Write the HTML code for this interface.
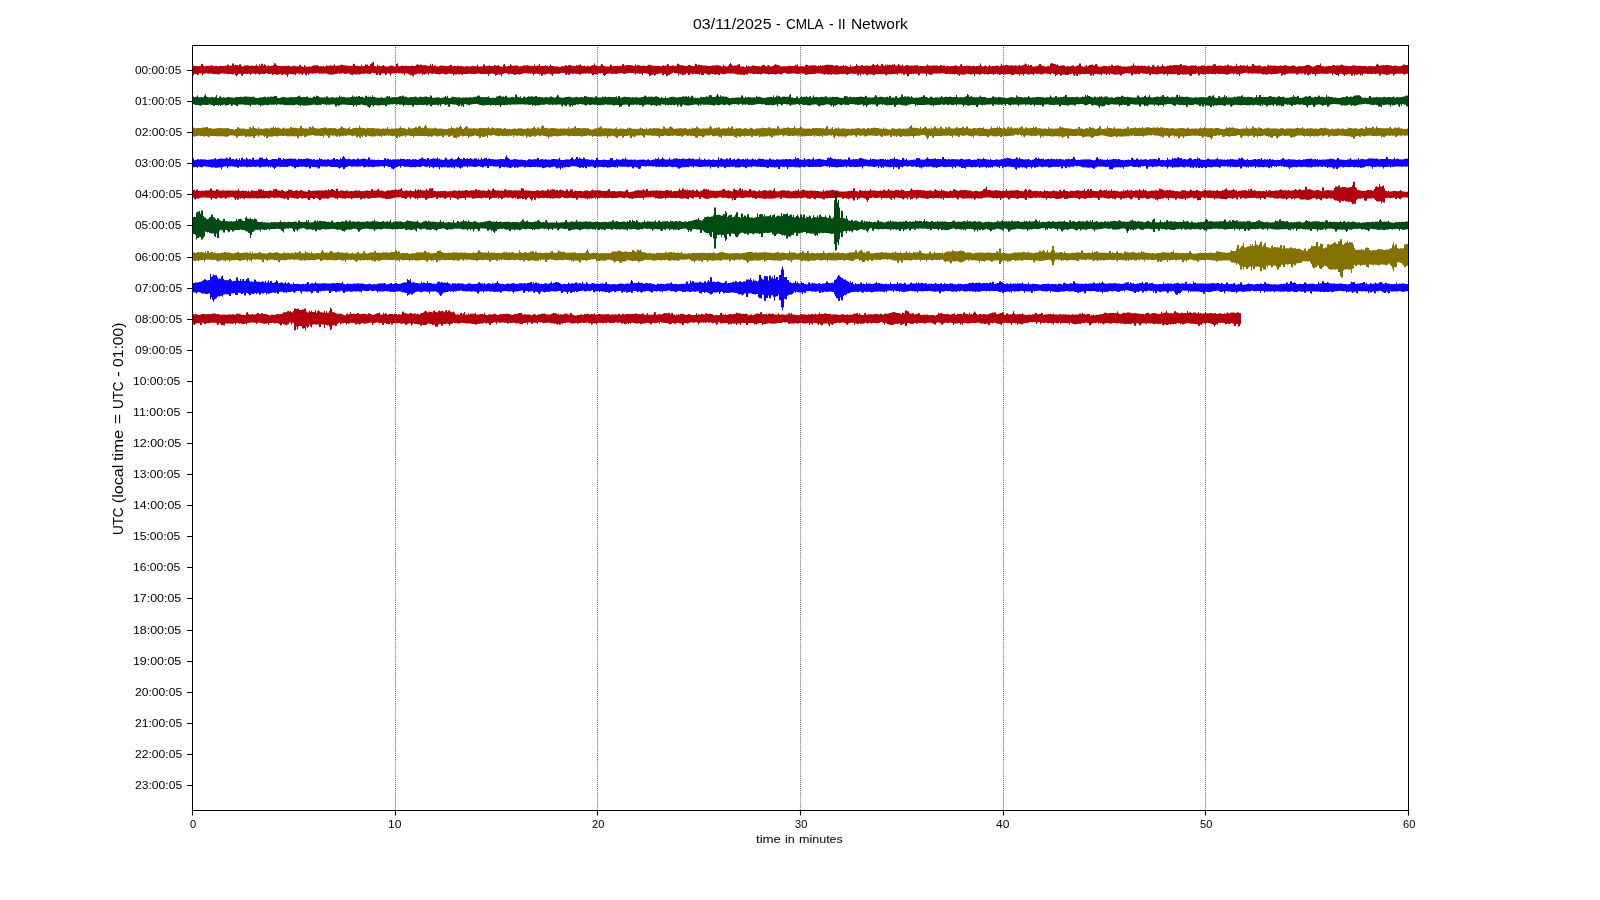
<!DOCTYPE html><html><head><meta charset="utf-8"><style>html,body{margin:0;padding:0;background:#fff}svg{display:block;will-change:transform}text{font-family:"Liberation Sans",sans-serif;fill:#000}</style></head><body>
<svg width="1600" height="900" viewBox="0 0 1600 900">
<rect x="0" y="0" width="1600" height="900" fill="#fff"/>
<path d="M395.5 45.0V810.0M597.5 45.0V810.0M800.5 45.0V810.0M1003.5 45.0V810.0M1205.5 45.0V810.0" stroke="#000" stroke-width="1" stroke-dasharray="1 1.07" stroke-opacity="0.62" fill="none"/>
<defs><clipPath id="axclip"><rect x="192.0" y="45" width="1216.0" height="765"/></clipPath></defs><g clip-path="url(#axclip)"><path transform="scale(1,0.1)" d="M192 654h1h1v6h1h1v-2h1v5h1v-1h1v-3h1v1h1v-19h1v-4h1v19h1v7h1v-1h1v-5h1v2h1v-2h1h1v-1h1v-1h1v-2h1v8h1v2h1v-6h1v3h1v1h1v3h1v-4h1v-3h1v4h1v-1h1h1v1h1v-4h1h1v-12h1v3h1v11h1v-2h1v-2h1v-19h1v-2h1v21h1v-8h1v2h1v3h1v3h1v-11h1v-1h1v18h1v3h1v-2h1v-6h1v-1h1v-1h1v-1h1v3h1v1h1v2h1v-3h1v1h1v2h1v2h1v-5h1v-11h1v15h1v3h1v-20h1v16h1v-21h1v-1h1v18h1v-12h1v6h1v16h1v-6h1v-6h1v6h1v2h1v-3h1h1v-7h1v-20h1v3h1v19h1v1h1v6h1v1h1v-2h1h1v1h1h1h1v-3h1v2h1v-2h1v-2h1v5h1v5h1v1h1v-3h1v-6h1v1h1v4h1v1h1v-1h1v4h1v-16h1v-2h1v16h1v2h1v3h1v-18h1v14h1h1v4h1v-2h1v-2h1h1v-1h1v-3h1v-5h1v-1h1v-3h1h1v1h1v6h1v7h1v-3h1v-4h1v5h1v-7h1v11h1v-6h1v-8h1v3h1v1h1h1v-5h1v2h1v3h1v-3h1v-12h1v15h1h1h1v-3h1h1v-4h1v-3h1h1v5h1h1v3h1h1v-2h1v5h1v-1h1h1v-1h1h1v-19h1v1h1v19h1v-1h1v1h1v3h1v1h1v1h1v-18h1v17h1v-3h1h1v-16h1v6h1v-3h1v12h1v3h1v-21h1v-7h1v-6h1v-9h1v42h1v2h1v3h1v-17h1v13h1v-3h1v5h1h1v-5h1v-7h1v7h1v6h1h1h1v2h1v-5h1v-3h1v-3h1v3h1v1h1v6h1h1v-26h1v-6h1v26h1v3h1v-3h1v1h1v-4h1v2h1v2h1v-3h1v1h1v1h1v1h1v-1h1h1v-1h1v-3h1v4h1v2h1v-4h1v-9h1v-5h1v5h1v2h1v-4h1v2h1v3h1v3h1v-2h1v-2h1v5h1v2h1v1h1v-1h1v-20h1v20h1v-16h1v19h1v-8h1v2h1v9h1v1h1h1v-3h1v-5h1v2h1h1v-2h1v4h1v-1h1v2h1v1h1v-4h1v-1h1v-10h1v4h1v12h1v-2h1v-3h1v2h1v2h1v-5h1v1h1v4h1v-5h1v3h1v3h1v2h1v1h1h1v-5h1v-2h1v5h1v-2h1v2h1v-5h1v-1h1v4h1v-2h1v-1h1v7h1v-22h1v18h1v5h1v-1h1v-3h1v2h1v-23h1v2h1v17h1v-3h1v1h1h1v-6h1v8h1v2h1v-2h1v-2h1v-9h1v2h1v6h1v-4h1v-2h1v7h1v5h1v1h1v4h1v-22h1v-6h1v22h1v1h1v-2h1v-1h1v-1h1v-19h1v11h1v6h1v1h1v-3h1v2h1v-2h1v-1h1v7h1v4h1v-3h1v-1h1v-2h1v-5h1v-3h1v3h1v1h1v-6h1v5h1v3h1v3h1v-4h1h1v3h1v-17h1v18h1v-2h1v-4h1v-1h1v-13h1v18h1h1v-1h1v3h1v-1h1v-11h1v10h1v-1h1v6h1v-5h1v-15h1v14h1v3h1h1v5h1h1v-4h1v2h1v4h1v1h1v-2h1v-3h1v-4h1v4h1v-3h1v-8h1v-1h1v11h1v-11h1v-4h1v5h1v3h1v6h1v-4h1v2h1v-1h1v-6h1v3h1v-2h1v-4h1v-8h1v16h1v1h1h1v-4h1v8h1v1h1v-10h1v9h1h1v-3h1v-3h1v-5h1h1v-18h1v20h1v1h1v5h1v2h1v1h1v-5h1v-19h1v7h1v12h1v2h1v4h1h1h1v1h1v-3h1v-17h1v5h1v13h1v-3h1v-2h1v3h1v-2h1v-1h1v3h1v1h1v-4h1v-1h1v-15h1v-2h1v14h1v1h1v-2h1v-2h1v-2h1v4h1v-2h1v2h1v1h1v3h1v3h1v-17h1v17h1v-8h1v-3h1v6h1v3h1v2h1v-2h1v-1h1v1h1v2h1h1v-4h1v-5h1v-5h1v7h1h1v2h1v2h1v1h1v-1h1v2h1v1h1v-2h1v2h1v3h1v-1h1v-5h1v-5h1v6h1h1v-4h1v-14h1v5h1v15h1h1v-3h1v-1h1h1v2h1v-1h1h1v-19h1v-1h1v11h1v4h1h1h1v3h1v6h1v-1h1v1h1v-4h1v-5h1v-2h1v3h1v5h1v2h1v2h1v-1h1v-24h1v3h1v15h1v-7h1v-1h1v5h1v-1h1v2h1v2h1h1h1h1v6h1v-1h1h1v1h1v-3h1v-3h1v-1h1v2h1v-1h1v-4h1v1h1v3h1v1h1v2h1v5h1v1h1v-17h1v13h1v2h1v3h1v-1h1v-6h1v-18h1v-10h1v14h1v11h1v6h1v-7h1h1v1h1v-9h1v-1h1v-4h1v24h1h1h1h1v6h1v2h1v-21h1v14h1v-5h1v1h1v3h1v-3h1v-6h1v-3h1v7h1h1v-1h1v4h1v-2h1v1h1v3h1v-6h1v-7h1v-5h1v2h1v11h1v4h1v-10h1v-3h1v9h1v4h1h1v-5h1v-1h1v-10h1v-5h1v5h1h1v4h1v4h1v9h1v-1h1v-1h1h1h1v2h1v-3h1v-2h1h1v-2h1v-1h1v4h1v-1h1h1v1h1v-14h1v9h1v-13h1v19h1v2h1v-3h1v-1h1v3h1v2h1v1h1v-18h1v-1h1v2h1v9h1v-2h1h1h1v-4h1v1h1v-1h1v4h1v4h1v2h1v-7h1v5h1v-10h1v8h1v-2h1v-1h1v-3h1h1v-4h1h1h1v-1h1v2h1v-2h1v3h1v5h1v3h1v-5h1h1v3h1v2h1v4h1v-2h1v-2h1v2h1v-10h1v10h1v-2h1h1v4h1v6h1v2h1v-22h1v16h1h1h1v-2h1v-1h1v-21h1v16h1v3h1v1h1v-2h1v-6h1v-1h1v9h1h1v-2h1v-4h1h1v5h1h1v-3h1v1h1v-13h1v-4h1v10h1v5h1v-5h1v-13h1v19h1v2h1v2h1v-19h1v-3h1v18h1v1h1v-12h1v11h1v-12h1v8h1v-5h1v4h1v1h1v-6h1v2h1v-9h1v15h1v2h1h1v-17h1v9h1v6h1v3h1v-11h1v16h1v-3h1v-5h1v-3h1v2h1v2h1h1v2h1v-1h1h1v2h1v-3h1v-3h1v3h1v-4h1v12h1h1v-3h1v-1h1h1v2h1v1h1v-4h1h1v-12h1v10h1v1h1v-1h1v5h1v-5h1v-1h1h1v-1h1h1v3h1v3h1v-1h1v-9h1v2h1v7h1v-5h1h1v8h1h1v-4h1v2h1v6h1v-5h1v-2h1h1v1h1v-4h1v-2h1v1h1v7h1v1h1h1v-19h1v-4h1v17h1v3h1v1h1v-2h1v-3h1v2h1v-1h1v-1h1v5h1v2h1v-4h1v-1h1v3h1v4h1v-4h1v-2h1h1v-4h1v-19h1v22h1v5h1v1h1v-4h1v-4h1v3h1v7h1v-3h1v-14h1v14h1h1v-4h1h1v4h1v-3h1v-5h1h1v7h1h1v-4h1v-20h1v18h1v-2h1v1h1v-4h1v-4h1v2h1v5h1v1h1h1v-2h1v3h1v2h1v-2h1v-3h1v3h1v1h1h1v-8h1v12h1v-4h1v-5h1v-2h1v-5h1v-10h1v8h1v15h1v-14h1v17h1v-11h1v-1h1v16h1v3h1v-4h1v-1h1h1v-4h1v-3h1v-17h1v2h1v15h1v2h1v3h1v2h1v4h1v-3h1v-1h1v-6h1v5h1v-25h1v-6h1v5h1v1h1h1v5h1v9h1v-8h1v14h1v3h1v-2h1v-4h1h1v-2h1v3h1v9h1v1h1v-5h1v2h1v2h1v-1h1v-2h1v-7h1v-1h1v12h1h1v-5h1v-6h1v1h1v-21h1v1h1v24h1v5h1v3h1v-1h1v-3h1v-14h1v16h1v-6h1v-9h1v1h1v-4h1v-1h1v9h1h1v-13h1v-2h1v16h1v8h1v3h1v-3h1h1v-2h1v-4h1h1v1h1v2h1v3h1v-3h1h1v2h1v-15h1v-1h1v12h1v1h1v-2h1v-3h1v1h1v-4h1v8h1v-3h1v9h1v-1h1h1h1v3h1v-2h1v-2h1v-1h1h1h1v-6h1v-2h1v-20h1v19h1v2h1v3h1v-2h1v-3h1v3h1v2h1v-5h1v4h1v3h1v-5h1v4h1v4h1v-2h1v-7h1v4h1v10h1v-1h1v-16h1v-4h1v15h1v6h1v1h1v-15h1v-1h1v13h1v-1h1v-4h1v-20h1v17h1v4h1v1h1v-1h1v-5h1v1h1v-6h1v-1h1v4h1h1v-5h1v-2h1v2h1v-1h1v3h1v-3h1v1h1v-10h1v2h1v11h1v-1h1h1v1h1v2h1v4h1v2h1v-2h1v-4h1v-2h1v1h1h1v2h1v-6h1v10h1v3h1v-3h1v1h1v-1h1v-6h1h1v1h1h1v3h1v3h1v-4h1h1v-2h1v3h1h1v-5h1v-12h1v1h1h1v16h1v-1h1v-2h1v2h1v-2h1v2h1v3h1v-1h1v-4h1v-1h1v3h1v-14h1v5h1v12h1v-6h1v2h1v5h1v1h1v-2h1v-3h1v-20h1v21h1v1h1v1h1v-10h1v4h1v1h1v-1h1v1h1v2h1v1h1v-12h1v15h1v1h1h1v-2h1v-21h1v-1h1v16h1v1h1v2h1v-1h1v-1h1v-3h1v4h1v7h1v2h1v-2h1v-3h1v1h1v4h1v-12h1v-6h1v10h1v-2h1v-1h1v3h1v-1h1v-1h1v2h1v1h1v1h1v1h1v-3h1v-2h1h1v4h1v-3h1v-6h1v1h1v4h1v2h1v1h1v3h1h1v-3h1v-4h1v-2h1v5h1v4h1v6h1v-2h1v-4h1v-1h1v1h1h1v-2h1v2h1v-3h1v-3h1v-7h1h1v-2h1v3h1v9h1v4h1v4h1v-2h1v-2h1v-3h1v-9h1v-3h1v2h1v1h1v-16h1v26h1v2h1h1v2h1h1v-3h1v1h1v-2h1v-1h1v3h1v-3h1v-4h1v-7h1h1v10h1v-3h1v-1h1v-1h1h1v-3h1v-7h1v4h1v8h1v1h1v1h1v-1h1v3h1v1h1v1h1v-1h1v-1h1v-5h1h1v-2h1v4h1v2h1v-1h1v1h1v-1h1h1v3h1v-2h1h1h1v2h1v2h1v3h1v-4h1v-4h1v5h1v-2h1v2h1h1h1h1v-17h1v-8h1v13h1v6h1h1v-4h1h1v-3h1v2h1h1v-1h1h1h1v3h1v1h1v1h1v3h1h1v-2h1v-3h1v3h1v5h1v-2h1v2h1h1v-4h1v-3h1v-9h1h1v5h1v-2h1h1v88h-1v1h-1v3h-1v6h-1v-5h-1v-4h-1v-3h-1v3h-1h-1h-1v-1h-1h-1v3h-1v4h-1v14h-1v-21h-1h-1h-1v9h-1v-1h-1v4h-1v3h-1v-9h-1v3h-1v-3h-1v-2h-1v-4h-1v19h-1v-1h-1v-18h-1v-2h-1v3h-1v4h-1v-5h-1h-1v4h-1v-1h-1v-1h-1v-2h-1v2h-1h-1v-3h-1v2h-1h-1v-1h-1v18h-1v-11h-1v12h-1v-16h-1v2h-1v5h-1h-1v-3h-1v14h-1v-19h-1v17h-1v1h-1v-17h-1h-1v-1h-1v4h-1v4h-1v-1h-1v15h-1v-13h-1v-8h-1v-2h-1h-1v-1h-1v22h-1v-9h-1h-1v-5h-1v-4h-1v-5h-1v16h-1v-17h-1v1h-1h-1v1h-1v2h-1v-2h-1h-1v1h-1h-1h-1v-2h-1v1h-1h-1h-1v4h-1v2h-1v18h-1v-19h-1v-2h-1v1h-1v-5h-1v6h-1v4h-1v8h-1v-4h-1v-18h-1v14h-1h-1v-14h-1v2h-1v3h-1v-2h-1v-1h-1v4h-1v9h-1v-1h-1v-10h-1v-1h-1h-1h-1v1h-1v2h-1v-3h-1h-1v2h-1v1h-1v8h-1v4h-1v-4h-1v6h-1v5h-1v-26h-1v1h-1v6h-1h-1v-1h-1v3h-1v1h-1v-1h-1v2h-1v2h-1v-2h-1v-4h-1v2h-1v6h-1v1h-1v-3h-1v-1h-1v1h-1v-1h-1v-3h-1v-4h-1v-2h-1v4h-1v-4h-1v2h-1h-1v-3h-1v1h-1v3h-1v-2h-1v-3h-1v3h-1v2h-1v-4h-1v-5h-1h-1v3h-1v-1h-1v5h-1v3h-1v-1h-1v24h-1v-20h-1v3h-1v-1h-1v-7h-1v-1h-1v10h-1v-11h-1v1h-1v2h-1v2h-1v3h-1v6h-1v-1h-1v-4h-1v-2h-1v-2h-1v-1h-1v3h-1v-1h-1h-1h-1v-3h-1v-1h-1v10h-1v-6h-1v1h-1v-1h-1v-1h-1v-1h-1v3h-1h-1v-3h-1h-1v2h-1v6h-1v-2h-1v-2h-1v-3h-1v-2h-1v16h-1v1h-1v-19h-1h-1v4h-1v2h-1h-1v-1h-1v20h-1v-2h-1v-2h-1v-15h-1v2h-1v1h-1v1h-1h-1v1h-1v-2h-1v-1h-1h-1v7h-1v-3h-1v5h-1v-14h-1v1h-1v1h-1v-1h-1v4h-1h-1v-4h-1v3h-1v-1h-1v17h-1v-19h-1v-2h-1v7h-1h-1v-8h-1v1h-1v1h-1h-1v3h-1v4h-1v-1h-1v-2h-1v-1h-1h-1h-1v-3h-1v14h-1h-1v-17h-1v4h-1v1h-1v-4h-1v1h-1v1h-1v-3h-1v-5h-1v2h-1v10h-1v-1h-1v-4h-1v2h-1v3h-1v-1h-1v-3h-1v16h-1v-2h-1v-16h-1v-2h-1h-1v-1h-1h-1v-1h-1v2h-1v5h-1v2h-1v13h-1h-1v-10h-1h-1v-2h-1v5h-1h-1v-3h-1v-1h-1v-4h-1v-2h-1v-1h-1v14h-1v-14h-1v4h-1v12h-1v-14h-1v1h-1v-2h-1h-1v19h-1v-12h-1v-1h-1h-1v-1h-1v-4h-1v3h-1h-1v17h-1v-13h-1v11h-1v1h-1v-16h-1v-4h-1v2h-1h-1v2h-1v1h-1v-1h-1h-1v-1h-1v5h-1v-1h-1v-3h-1v19h-1v-3h-1v-18h-1v20h-1v-10h-1v-15h-1v4h-1v1h-1h-1v11h-1v1h-1v-3h-1v1h-1v-3h-1v1h-1v-3h-1v11h-1v2h-1v-15h-1v-2h-1v7h-1v3h-1v13h-1v-22h-1v-3h-1v-4h-1v-2h-1v15h-1v-6h-1v-1h-1v-1h-1v-5h-1h-1v2h-1v1h-1v5h-1v4h-1v-3h-1v-5h-1h-1v3h-1v-1h-1v-4h-1v1h-1v15h-1v-10h-1v-3h-1v-1h-1v6h-1h-1h-1v-6h-1v-1h-1v4h-1v17h-1v-14h-1v-2h-1h-1v15h-1v-15h-1v1h-1v-4h-1v-2h-1v8h-1v2h-1v2h-1v4h-1v-13h-1v-1h-1v1h-1v3h-1v-1h-1v2h-1v1h-1v-4h-1v-1h-1v-1h-1v9h-1v1h-1v-6h-1v-1h-1v-4h-1v1h-1v1h-1v10h-1v-12h-1v3h-1v-2h-1v1h-1v5h-1h-1v-4h-1v2h-1v1h-1v-6h-1v-1h-1v3h-1v2h-1v7h-1v-9h-1v3h-1h-1v-2h-1v18h-1v-18h-1v-2h-1v5h-1v2h-1v-5h-1v-2h-1v-2h-1h-1v5h-1v5h-1h-1h-1v-2h-1v1h-1v15h-1v-17h-1v4h-1v-7h-1h-1v3h-1v-3h-1v-1h-1h-1h-1v3h-1v-5h-1v2h-1h-1h-1v-4h-1v-1h-1v-2h-1h-1v5h-1v-4h-1h-1v3h-1v-3h-1v1h-1v1h-1h-1v8h-1v3h-1h-1v-2h-1v-6h-1v-1h-1v22h-1v-23h-1h-1v-1h-1h-1v-1h-1h-1v16h-1v5h-1v-18h-1v1h-1v-4h-1v-1h-1v8h-1v-5h-1v2h-1v2h-1v2h-1v18h-1v2h-1v-21h-1v-5h-1v11h-1h-1v-11h-1v1h-1v-2h-1v-2h-1h-1v15h-1v-11h-1v1h-1v-2h-1v2h-1v2h-1v3h-1v-1h-1h-1v-1h-1v2h-1v12h-1v-5h-1v-12h-1v1h-1v2h-1h-1h-1v-3h-1v1h-1v-1h-1v1h-1v5h-1v3h-1v6h-1v-10h-1h-1v-1h-1v1h-1v-1h-1v11h-1v-2h-1v-11h-1v-4h-1v9h-1v-9h-1v1h-1v16h-1v-17h-1v16h-1v3h-1v-19h-1v2h-1v-1h-1v-1h-1v1h-1v-2h-1v-1h-1v4h-1v2h-1v7h-1h-1v-8h-1v-2h-1v1h-1h-1h-1v-2h-1v4h-1v5h-1v-2h-1v2h-1v-1h-1v-3h-1h-1v-1h-1v8h-1v-7h-1v4h-1v1h-1v-5h-1v-3h-1v3h-1v5h-1v-4h-1v-5h-1h-1v-3h-1v-1h-1v2h-1v-4h-1v4h-1v1h-1v3h-1v-1h-1v1h-1v2h-1v-1h-1v2h-1h-1v2h-1v2h-1v4h-1v-13h-1v-1h-1v-2h-1v-1h-1v1h-1v2h-1v2h-1h-1v-2h-1h-1v-1h-1v-3h-1v1h-1v3h-1h-1h-1v2h-1v-1h-1v-2h-1v-4h-1v-4h-1v1h-1v5h-1v12h-1h-1v-9h-1h-1v3h-1v3h-1v3h-1v-4h-1v-3h-1v1h-1v-1h-1h-1v3h-1v3h-1v-5h-1v-1h-1h-1v-3h-1h-1v2h-1v5h-1v2h-1v-4h-1v-2h-1v2h-1h-1v-3h-1v3h-1v1h-1v-4h-1v-2h-1v-1h-1v-1h-1v-1h-1v13h-1h-1v-6h-1v10h-1v3h-1v-7h-1v1h-1h-1v-1h-1v-2h-1v1h-1v-2h-1v-2h-1v-4h-1v-1h-1v-1h-1v1h-1v-1h-1h-1h-1h-1h-1v4h-1v3h-1v1h-1h-1v-4h-1v-4h-1v15h-1v2h-1v-11h-1v5h-1v1h-1v-2h-1v-4h-1h-1v-3h-1v3h-1v6h-1v2h-1v-5h-1v-5h-1v-3h-1h-1v16h-1v-1h-1v-2h-1v-14h-1v9h-1v-1h-1v-3h-1h-1h-1v-5h-1v5h-1v2h-1v-5h-1v-2h-1v15h-1v1h-1v-19h-1v1h-1v9h-1v6h-1v1h-1v7h-1v-15h-1v1h-1v-4h-1v16h-1v-21h-1v-2h-1v1h-1v-3h-1v-4h-1v5h-1v7h-1v2h-1v12h-1v-3h-1v10h-1v4h-1v-20h-1v-1h-1v13h-1v-4h-1v-17h-1v2h-1v1h-1v1h-1v4h-1h-1v11h-1v3h-1v-13h-1v7h-1v-2h-1v11h-1v3h-1v-22h-1v-4h-1h-1v-2h-1v-1h-1v-1h-1v18h-1v-12h-1v-2h-1v6h-1v-8h-1v3h-1v-2h-1v12h-1v-10h-1v-3h-1v-2h-1v1h-1v-1h-1v-3h-1v1h-1v4h-1v1h-1v1h-1v5h-1v-2h-1v-5h-1v-2h-1v1h-1v3h-1h-1v1h-1v4h-1v1h-1v-4h-1v1h-1v2h-1h-1v-5h-1h-1v1h-1v1h-1v2h-1v10h-1v12h-1v-12h-1v-17h-1v-1h-1v3h-1v-1h-1v1h-1v6h-1v4h-1v-1h-1v-2h-1v12h-1v-1h-1v-15h-1v-2h-1h-1v2h-1v-5h-1v1h-1v4h-1v-1h-1h-1v1h-1v1h-1v6h-1v1h-1v-6h-1v-2h-1v3h-1v-2h-1v-4h-1v3h-1v3h-1v-4h-1h-1v13h-1v-1h-1v-10h-1v11h-1v-4h-1v-15h-1h-1v-2h-1v1h-1v3h-1v5h-1h-1h-1h-1h-1v1h-1v2h-1v19h-1v-15h-1h-1v-7h-1v-1h-1v1h-1v3h-1v5h-1v-1h-1v-2h-1v14h-1v4h-1v-19h-1v5h-1v-5h-1v-4h-1v-1h-1v1h-1v2h-1v15h-1v-17h-1v-1h-1v2h-1v-2h-1h-1v-3h-1v2h-1v-4h-1v2h-1h-1v4h-1v4h-1v2h-1v1h-1h-1v-2h-1v1h-1v5h-1v1h-1v-7h-1v-2h-1h-1v-4h-1v7h-1v-1h-1v-8h-1v-1h-1v-2h-1v2h-1v5h-1v3h-1v22h-1v-16h-1v-2h-1v-2h-1v4h-1v3h-1v8h-1v-15h-1v-5h-1v-2h-1v2h-1h-1v3h-1v19h-1v-18h-1v-4h-1v2h-1h-1h-1v1h-1h-1v-1h-1v-5h-1v-1h-1v1h-1v3h-1v2h-1v-1h-1v2h-1v-2h-1h-1v-1h-1v-2h-1v1h-1v2h-1v2h-1v-2h-1v1h-1v1h-1v9h-1v-4h-1v-5h-1v3h-1v-2h-1v1h-1v2h-1v-1h-1v-2h-1v13h-1v-14h-1v-3h-1v-1h-1v1h-1v-3h-1v7h-1h-1v2h-1v-2h-1v-5h-1v-1h-1v1h-1v2h-1v5h-1v-1h-1v-4h-1h-1h-1v-4h-1h-1v4h-1v-1h-1v-5h-1h-1v15h-1v-13h-1h-1v6h-1v3h-1v-3h-1v12h-1v-19h-1v1h-1v3h-1h-1v-2h-1v7h-1v2h-1v-1h-1v20h-1v-6h-1v-10h-1v4h-1v-8h-1v-5h-1v-4h-1h-1v-2h-1v19h-1v-17h-1v-1h-1v2h-1v-3h-1v1h-1v-2h-1v-1h-1v3h-1v-1h-1v1h-1h-1v1h-1v2h-1v20h-1v-20h-1v-2h-1v-3h-1v14h-1v3h-1v-14h-1v-3h-1v2h-1v3h-1v17h-1v-3h-1v-15h-1v14h-1v-1h-1v-16h-1v2h-1v-5h-1v-2h-1v5h-1v7h-1v1h-1v-4h-1h-1v-2h-1v1h-1v1h-1v1h-1h-1h-1v2h-1v5h-1v-1h-1v-1h-1v1h-1v1h-1v-3h-1v2h-1v8h-1v-5h-1v-3h-1v-7h-1v-1h-1h-1v2h-1v1h-1v-1h-1v-5h-1h-1v3h-1v-1h-1v6h-1v-8h-1v5h-1v-1h-1v2h-1v2h-1v3h-1h-1h-1v4h-1v-3h-1v-3h-1v-1h-1v-6h-1v-1h-1h-1v1h-1v3h-1v-4h-1v1h-1v2h-1v-5h-1h-1v1h-1v2h-1v1h-1v-1h-1v3h-1v-3h-1v-3h-1v5h-1v11h-1v-13h-1v20h-1v-4h-1v-18h-1v1h-1v15h-1v-6h-1v-7h-1v7h-1v-7h-1v-1h-1h-1v18h-1v-10h-1v1h-1v-2h-1v-2h-1v-1h-1v-2h-1v7h-1v23h-1v-20h-1v-3h-1v-2h-1v-2h-1v10h-1v-2h-1v-10h-1v1h-1v5h-1v3h-1h-1v-4h-1v-2h-1v2h-1v9h-1v-14h-1v-1h-1v2h-1v1h-1v-4h-1v-3h-1v1h-1v5h-1v1h-1v-2h-1v1h-1h-1v11h-1v-11h-1v-3h-1v2h-1v5h-1v-4h-1v-4h-1h-1v4h-1v10h-1v-12h-1v1h-1v1h-1v-2h-1v2h-1v-1h-1v2h-1v20h-1v-4h-1v-19h-1h-1v4h-1v12h-1v10h-1v-14h-1v-13h-1v6h-1v2h-1v-5h-1v2h-1v-1h-1v1h-1v1h-1v-4h-1v-4h-1v3h-1v-1h-1v-2h-1v1h-1v3h-1v5h-1v3h-1v-3h-1v-3h-1v1h-1v3h-1v-4h-1v-3h-1h-1v-2h-1v3h-1h-1v-3h-1v-4h-1v4h-1v3h-1v-1h-1v17h-1v-19h-1v1h-1v-3h-1v14h-1v3h-1v-11h-1v1h-1v-1h-1v17h-1h-1z" fill="#B2000F"/>
<path transform="scale(1,0.1)" d="M192 966h1h1v6h1v-1h1v-3h1v-12h1v16h1h1h1v-2h1v3h1h1v-18h1v-11h1v21h1v5h1v4h1v-2h1v2h1v-3h1v-2h1v7h1h1v-8h1v-18h1v29h1v1h1v-13h1v-5h1v14h1v-2h1v-1h1v1h1v3h1h1v-6h1v-2h1v3h1v1h1v3h1h1v3h1v-3h1v-3h1v-2h1h1v-1h1v-1h1v-2h1h1v2h1h1v-4h1h1v1h1v1h1h1h1v2h1v2h1v-4h1v-1h1v7h1v5h1v1h1h1h1v-3h1v-2h1v-1h1v2h1v-4h1v-3h1v-1h1v7h1v-2h1v-4h1v5h1v-6h1v-3h1v4h1h1v-11h1v3h1v2h1v16h1v1h1v1h1v-3h1v-4h1v-4h1v2h1v1h1v1h1v4h1v-1h1v-2h1v-2h1h1v-2h1v2h1v1h1h1v-4h1h1v-1h1v-9h1v-4h1v13h1v4h1v-1h1h1h1v1h1v-6h1h1v8h1v1h1h1v4h1v-4h1v-11h1v2h1v4h1v-14h1v4h1v2h1v11h1h1v2h1v-1h1h1v-2h1v4h1v-13h1v2h1v11h1h1v1h1v-5h1v-2h1v4h1v4h1v-3h1v-3h1v4h1h1v-20h1v15h1v-6h1v5h1v-2h1v2h1v6h1v-2h1h1v-2h1v2h1v-3h1v-1h1v-16h1v13h1v-1h1v1h1v-3h1v3h1v-8h1v1h1v10h1v1h1v-3h1v6h1v3h1v-19h1v-1h1v14h1v-3h1h1h1v1h1v-16h1v16h1h1v5h1v4h1h1h1h1v-3h1v-2h1v1h1v6h1v-3h1h1v-12h1v-5h1v8h1v-9h1v15h1h1v-1h1v-2h1v1h1v-3h1v3h1h1v-4h1v-6h1v-2h1v6h1v-10h1v2h1v11h1v-4h1v6h1v4h1h1v-1h1v-3h1h1v2h1v-2h1v-2h1v-4h1v6h1v4h1v-1h1v-4h1v-4h1v4h1v1h1v-2h1v-2h1v-3h1v2h1v5h1h1v1h1v-19h1v4h1v21h1v2h1v-3h1v-3h1v2h1v-4h1v3h1v1h1v3h1v3h1v-4h1v-3h1v-3h1v-13h1v14h1v-15h1v23h1v1h1v-3h1v-4h1v-11h1v7h1v-2h1v3h1v1h1v3h1v-4h1v1h1v5h1v1h1v-5h1v1h1v3h1v-6h1v3h1v1h1v-2h1v-1h1v-1h1v2h1v1h1v-4h1h1v-3h1h1v-11h1v-2h1v3h1v13h1v-1h1v2h1h1v-1h1v1h1v-2h1h1v-8h1v13h1v5h1h1v-3h1h1v1h1v1h1v-13h1v-1h1v-6h1v-1h1v-2h1v12h1v-4h1v2h1v5h1v-14h1v1h1v16h1h1v1h1v-1h1v-3h1v-3h1v5h1v2h1v-27h1v-2h1v21h1v4h1v3h1v-11h1v18h1v-2h1v-12h1v-1h1v9h1v1h1v-7h1v-7h1v5h1v-1h1v-3h1v2h1v3h1h1v-9h1h1v12h1h1v-1h1v3h1h1h1v2h1v-1h1v-1h1v-2h1v1h1v2h1v-1h1v-7h1v-2h1v6h1v4h1v1h1h1v-9h1v-19h1v8h1v18h1v-1h1v5h1h1v-1h1v-2h1v-3h1v-1h1h1v-2h1v-1h1v3h1v5h1h1v-1h1h1v-4h1v-3h1v2h1v6h1h1v-4h1h1v2h1v-1h1v-11h1v2h1h1v10h1v-3h1v2h1h1v-2h1v2h1v3h1v2h1v-14h1h1v13h1h1v-2h1h1h1v-8h1v7h1v-5h1v-4h1v6h1v2h1v-4h1v1h1v2h1h1v1h1v-1h1v2h1v-2h1v-9h1v18h1v-19h1h1v15h1v1h1v-5h1v-1h1v-4h1h1v3h1v3h1v-2h1h1v4h1v-1h1v-3h1v3h1h1v-3h1v2h1v3h1h1v2h1v-4h1v-4h1h1v1h1v-14h1v-3h1v12h1v6h1v-5h1h1h1v1h1h1v1h1v1h1v-7h1v-1h1v6h1v1h1v5h1v9h1v-13h1v8h1v1h1h1v-14h1v16h1h1v-4h1v-4h1v-1h1v-4h1v-1h1h1v3h1v2h1v3h1h1v-3h1v-3h1v2h1h1v-6h1v1h1h1h1v-3h1v6h1v-8h1v11h1v4h1v-18h1h1v18h1v2h1h1v2h1v-2h1v1h1v3h1v-13h1v-2h1v8h1v-6h1v3h1v-1h1v-8h1v5h1h1v-17h1v1h1v1h1v18h1h1h1v-4h1v-12h1v-16h1v19h1v12h1v-17h1v12h1v-3h1v3h1v2h1v-2h1v2h1v6h1v5h1v3h1v1h1v-2h1v-2h1v-1h1v2h1v-4h1v-1h1v2h1v-2h1v2h1v-1h1v-20h1v1h1v19h1v2h1v-11h1v11h1v-4h1v-3h1v2h1v1h1v2h1h1v-3h1h1v2h1v-16h1v10h1v3h1v-4h1v3h1v6h1v1h1h1v2h1v-1h1v-2h1v-3h1h1v-2h1v-4h1v3h1v3h1v-17h1v18h1v-5h1v-15h1v11h1v-7h1v5h1v6h1v4h1v-5h1v-4h1v2h1v5h1h1v-6h1v6h1v-18h1v-13h1v35h1h1v4h1h1v1h1v-15h1v2h1v16h1v-1h1v-13h1v-7h1v11h1v-2h1v-3h1h1v-6h1v8h1v3h1v-8h1v-4h1v16h1v-4h1v-18h1v18h1v-2h1v-2h1v2h1v3h1v-2h1v-3h1v-1h1v3h1v-2h1v-2h1v-5h1v3h1v8h1v3h1h1v-9h1v6h1v-5h1v1h1v1h1v-1h1v-2h1v3h1v3h1v4h1v1h1v1h1h1v-2h1v-16h1v-1h1v3h1v1h1v10h1v-7h1h1v3h1v3h1v-2h1h1v1h1v-2h1h1v-1h1v-2h1v-2h1h1v4h1v2h1v-1h1v-13h1v3h1v15h1v1h1v-1h1v1h1v-2h1v1h1h1v-7h1v-17h1v6h1v17h1v-3h1h1v-3h1h1v2h1v2h1v1h1v1h1v-5h1v-2h1v7h1v-16h1v1h1v19h1v-2h1v-2h1v4h1v-15h1v-4h1v19h1h1v-2h1v-5h1v-24h1v-1h1v23h1v-4h1v-3h1v6h1v-3h1v-1h1v4h1v8h1v-17h1v13h1v6h1v1h1v-4h1h1v2h1v-2h1v-2h1v-1h1v-4h1h1v-13h1v-2h1v16h1v1h1v5h1v4h1v-2h1v-13h1v4h1v5h1v6h1v-2h1v-4h1v-1h1v3h1v2h1v-2h1v-5h1v-11h1v12h1v3h1v-5h1v-2h1v1h1v3h1h1v-4h1v-1h1v5h1h1v-2h1v2h1v-1h1v-20h1v19h1v5h1v-1h1v-1h1v-2h1v4h1v-2h1v-3h1v-1h1v-9h1v-20h1v11h1v21h1v-9h1v1h1v8h1v1h1v-1h1v3h1v-2h1h1h1v-4h1v-13h1v14h1v2h1h1v-2h1v2h1v7h1v2h1h1h1v-3h1v1h1v-14h1v-2h1v11h1v-2h1v3h1h1v-4h1v-1h1v3h1h1v4h1v1h1v-1h1v4h1h1h1v-3h1v-3h1v-2h1v-1h1v2h1v1h1h1v1h1v-22h1v13h1v1h1v3h1v-1h1v1h1v5h1v-1h1v-5h1v3h1v1h1v-1h1v-13h1v8h1v8h1v2h1v-4h1v1h1v1h1v-4h1h1h1v-3h1v1h1v1h1v2h1h1h1v6h1h1v-6h1h1v2h1v-4h1v-14h1v15h1v3h1v1h1v1h1v-17h1v1h1v14h1v-4h1v5h1v-4h1v-2h1v1h1v-3h1v-1h1v-16h1v1h1v21h1h1v-2h1v3h1v-3h1v-1h1v1h1v3h1v-2h1v-4h1v1h1v5h1v3h1h1v-5h1v-5h1v3h1v-2h1v-18h1v17h1v-15h1v10h1h1v6h1v2h1v5h1v1h1v-9h1v1h1v7h1v-1h1v-1h1v-7h1v4h1v-11h1v14h1h1v-4h1v-4h1v-2h1v5h1v9h1h1v2h1v-7h1v1h1v9h1v-3h1v-5h1v-2h1v-4h1v1h1v1h1h1v-11h1h1v8h1v2h1v2h1h1v-3h1v3h1h1v3h1v-1h1v2h1v1h1h1h1v1h1v-21h1v-1h1v16h1v5h1v-1h1v-3h1v2h1v-14h1v-4h1v14h1v3h1v-4h1v-17h1v19h1v4h1v2h1v-2h1v-4h1h1v-3h1v-3h1v4h1v2h1v-6h1h1v-14h1v1h1v16h1v3h1h1v-8h1v9h1v4h1v-1h1v-1h1v-5h1v4h1v1h1v-4h1v-20h1v-1h1v21h1v-16h1v15h1h1v-3h1v5h1v1h1v-4h1h1v1h1v1h1v4h1h1v2h1v2h1h1v-3h1v-2h1v1h1v1h1h1v-2h1v-2h1v2h1v1h1v-2h1v3h1v-1h1v1h1v-2h1v-10h1v-5h1v1h1v13h1v-14h1v-4h1v19h1v5h1v3h1v-1h1v-17h1v-2h1v15h1v-1h1v-1h1v-3h1v-20h1v20h1v-9h1v16h1v-2h1v1h1v-2h1v2h1h1v-4h1v-8h1v8h1v-5h1v-1h1v-1h1v-3h1v4h1v-8h1v-5h1v20h1v-6h1v4h1v3h1v-6h1v-1h1v3h1v1h1v-1h1v2h1v5h1v-3h1v-4h1v-19h1v21h1v-3h1v-18h1h1v18h1h1h1h1h1v1h1h1v-3h1v-6h1v-1h1v5h1v4h1v-1h1v1h1v3h1v3h1v-4h1v-8h1h1v7h1h1h1v-4h1v10h1v1h1v1h1h1h1v-2h1v-3h1v-4h1v-2h1v-16h1v16h1v1h1v3h1v-14h1v2h1v20h1v-1h1v1h1v-2h1v-3h1v-5h1v-7h1v2h1v6h1v-8h1v-1h1v-3h1v15h1v1h1h1v-4h1v-4h1v5h1h1v-17h1v4h1v11h1v-1h1h1v4h1h1v1h1v-25h1v20h1v-5h1v6h1h1v2h1v2h1v2h1v1h1v-2h1v4h1v2h1h1v-1h1v-2h1v-3h1v-2h1v-2h1v2h1v-3h1v-9h1v2h1v8h1h1v-4h1v2h1v2h1v-7h1v-7h1h1h1v-4h1v1h1h1v7h1v13h1v3h1v3h1v-4h1v2h1v3h1h1v-2h1v-17h1v-2h1v16h1v-1h1v-2h1v3h1v-3h1v-4h1v4h1h1v-1h1v3h1v1h1v-3h1v-3h1v-1h1v5h1v2h1v-5h1v-1h1h1v1h1v4h1v-5h1v-4h1v9h1v4h1v-5h1v-2h1v1h1h1v1h1v-2h1v-2h1v-3h1h1v-8h1v-3h1v2h1v107h-1h-1v-16h-1v-1h-1v-5h-1v-1h-1v17h-1v-15h-1v28h-1v-13h-1v-15h-1v1h-1v3h-1v6h-1v-2h-1v3h-1v-6h-1v19h-1v-17h-1v-3h-1v-1h-1v-1h-1v3h-1v1h-1v3h-1v-4h-1v27h-1v-9h-1v-1h-1v-1h-1v-15h-1v1h-1v-2h-1h-1v2h-1v-1h-1v-2h-1h-1v-1h-1v-5h-1v1h-1v-2h-1v-3h-1v3h-1v-1h-1v1h-1v4h-1v1h-1h-1v2h-1v3h-1v4h-1v2h-1v5h-1v-9h-1h-1v7h-1v-10h-1v-3h-1v1h-1v6h-1v3h-1h-1v-1h-1v-2h-1v3h-1v-1h-1v-7h-1v-2h-1v-3h-1v-1h-1h-1v-2h-1h-1h-1v3h-1h-1v3h-1v7h-1v12h-1v2h-1v-19h-1v1h-1h-1v7h-1v1h-1v-6h-1v-3h-1v-3h-1v-2h-1v4h-1h-1v7h-1v16h-1v-2h-1v-18h-1v-3h-1v2h-1v3h-1h-1v24h-1v-10h-1v-17h-1v2h-1v-1h-1v-4h-1v-2h-1v1h-1v2h-1v-3h-1v-1h-1v3h-1v4h-1h-1v-3h-1v10h-1v2h-1v-8h-1v-3h-1v-2h-1v1h-1v-1h-1v-3h-1v2h-1v17h-1v-1h-1v4h-1v-12h-1v1h-1v2h-1v-2h-1v6h-1v-15h-1v-2h-1v22h-1v-15h-1v-3h-1v6h-1v-4h-1v3h-1v14h-1v-1h-1v-15h-1v-3h-1v-2h-1v15h-1v-14h-1v17h-1v-8h-1v-4h-1v-1h-1v-2h-1v-1h-1v2h-1v4h-1v-1h-1v-5h-1v3h-1v6h-1v-3h-1h-1h-1h-1v-4h-1v1h-1v1h-1v4h-1v-3h-1v-3h-1v3h-1v-2h-1v-3h-1h-1v3h-1v3h-1v3h-1v13h-1v-7h-1v-16h-1v1h-1h-1v1h-1v8h-1v3h-1v-4h-1v-4h-1h-1v1h-1v-1h-1v-1h-1v4h-1h-1v-2h-1h-1v11h-1v-10h-1v17h-1v-1h-1v-13h-1v2h-1v-4h-1v2h-1v10h-1v-20h-1v18h-1v1h-1v-19h-1v16h-1v-1h-1v-13h-1h-1v-3h-1v-2h-1v1h-1v3h-1v2h-1h-1v4h-1v-1h-1v-6h-1v22h-1v3h-1v-20h-1v-1h-1v2h-1v-5h-1v2h-1v2h-1h-1v-4h-1v-3h-1v2h-1v12h-1v1h-1v-6h-1v-3h-1v-11h-1h-1v3h-1v-2h-1v1h-1v5h-1v-1h-1v-1h-1v20h-1v-15h-1v2h-1h-1v-1h-1v11h-1v-12h-1v-1h-1v-2h-1v15h-1v-16h-1v3h-1v-2h-1h-1h-1v4h-1v16h-1v-9h-1v-1h-1v6h-1v-16h-1v-1h-1v1h-1v21h-1v-4h-1v-16h-1v-1h-1v2h-1v-1h-1v-1h-1v-1h-1v-3h-1v-2h-1v4h-1v13h-1v4h-1v1h-1v-15h-1v2h-1v1h-1v-4h-1v3h-1v3h-1v-1h-1v15h-1v-18h-1v-3h-1v2h-1v-1h-1v-2h-1v1h-1v-3h-1h-1h-1v7h-1v2h-1v-2h-1v-3h-1v1h-1v12h-1v4h-1v1h-1v-5h-1v-1h-1v21h-1v-14h-1v-13h-1v2h-1v-4h-1v-3h-1v2h-1v8h-1v-4h-1v-12h-1v-1h-1v3h-1v5h-1v1h-1v5h-1v-3h-1v-8h-1v-2h-1v-2h-1v2h-1v1h-1v1h-1v-3h-1v3h-1v6h-1v9h-1v-10h-1v-1h-1v1h-1h-1v2h-1v6h-1v2h-1v-5h-1h-1v-1h-1v-1h-1h-1v-4h-1v16h-1v2h-1v-17h-1v-2h-1v1h-1h-1v3h-1v1h-1v-2h-1h-1v-2h-1v3h-1v-7h-1v-1h-1v2h-1h-1v1h-1v19h-1v1h-1v-17h-1v5h-1v-6h-1v2h-1h-1v-1h-1v-1h-1v15h-1v-17h-1h-1v4h-1v2h-1v-5h-1v-2h-1v3h-1v-3h-1v12h-1v-13h-1v2h-1v1h-1h-1v2h-1v-1h-1v16h-1v-14h-1v-5h-1h-1v2h-1v1h-1v-1h-1v2h-1v9h-1v-8h-1v-1h-1v-7h-1v-2h-1v18h-1v-12h-1v-4h-1v7h-1v1h-1v-3h-1v1h-1h-1v1h-1v-2h-1v-1h-1v-2h-1v15h-1v-1h-1v-14h-1v1h-1v2h-1h-1h-1v1h-1v-3h-1v9h-1v-6h-1v7h-1v-5h-1v-2h-1v-2h-1v4h-1v24h-1v-4h-1v-17h-1v-2h-1v2h-1h-1v-1h-1v2h-1v2h-1v3h-1v-2h-1v-7h-1v-1h-1v4h-1v14h-1v-19h-1v-2h-1v1h-1h-1h-1v-4h-1v14h-1v-12h-1v2h-1v3h-1v1h-1h-1v-4h-1h-1v5h-1v-1h-1v-5h-1v-1h-1v3h-1v2h-1v-5h-1v-1h-1v5h-1v1h-1v-1h-1v3h-1v-1h-1v2h-1v-1h-1v14h-1v-13h-1h-1v1h-1v-5h-1v-2h-1v1h-1v-1h-1v3h-1v2h-1v-2h-1v2h-1h-1v-2h-1h-1v2h-1v2h-1v-5h-1v15h-1v-23h-1v2h-1v-2h-1v1h-1v5h-1h-1v2h-1v5h-1v5h-1v-4h-1v2h-1v-1h-1v-5h-1v2h-1v-4h-1v-2h-1v1h-1h-1v4h-1v17h-1v-1h-1v-19h-1h-1v4h-1v-1h-1v-2h-1v3h-1v2h-1v-2h-1v-2h-1v-2h-1v-5h-1v8h-1v-8h-1h-1v3h-1v2h-1v16h-1v-2h-1v-15h-1v-2h-1v-3h-1v3h-1v-2h-1v2h-1h-1v3h-1v6h-1v15h-1v-17h-1h-1v11h-1v-19h-1h-1v1h-1v2h-1v4h-1v-1h-1v-6h-1v3h-1v-4h-1v-1h-1h-1v-2h-1h-1v5h-1v4h-1h-1v-2h-1v2h-1v-3h-1v-3h-1v4h-1v5h-1v-2h-1v-6h-1v-1h-1v2h-1v4h-1v7h-1v-1h-1v14h-1v-18h-1v11h-1v-10h-1v-5h-1v-4h-1v1h-1v-1h-1v2h-1v5h-1v3h-1h-1v-3h-1v5h-1v10h-1v-6h-1v-9h-1v-6h-1v-1h-1v1h-1v2h-1v2h-1h-1v6h-1v-1h-1v2h-1v-2h-1v-3h-1v-3h-1v4h-1v-1h-1v-3h-1v-5h-1h-1v11h-1v-9h-1v-3h-1v-1h-1v8h-1v-2h-1v-2h-1v3h-1h-1v14h-1v-11h-1v-7h-1v2h-1v-1h-1v-3h-1v-1h-1v-1h-1v11h-1v5h-1v-12h-1v-3h-1v3h-1v22h-1v-19h-1v-2h-1v5h-1v2h-1v3h-1v-5h-1v-2h-1v2h-1v4h-1v-2h-1v-1h-1v1h-1v-6h-1v-4h-1v1h-1v2h-1v-3h-1h-1h-1v-2h-1v3h-1v4h-1v2h-1h-1v3h-1v-1h-1v-2h-1v3h-1v-2h-1v-7h-1v2h-1v4h-1v-2h-1v-1h-1v7h-1v-12h-1v-3h-1v5h-1v6h-1v-2h-1v-4h-1v-2h-1v3h-1v-2h-1v1h-1v2h-1v4h-1v7h-1v-5h-1v-5h-1h-1v3h-1v2h-1v1h-1v-5h-1v-3h-1v4h-1v6h-1v-1h-1v-1h-1v-3h-1v-1h-1v9h-1v2h-1v-7h-1v-1h-1v-1h-1v-2h-1v1h-1v-1h-1h-1v1h-1h-1v-1h-1v-2h-1h-1v11h-1v-10h-1v13h-1v-12h-1v-1h-1v-2h-1v1h-1v2h-1v5h-1v-2h-1v2h-1v4h-1v-2h-1h-1v1h-1v-2h-1v-4h-1v-4h-1v4h-1v18h-1v-1h-1v-21h-1v9h-1v10h-1v-18h-1v1h-1v6h-1v-2h-1v-3h-1v2h-1h-1v-2h-1v4h-1h-1v-4h-1v7h-1v-9h-1v-1h-1v-2h-1v3h-1v10h-1v-2h-1v-5h-1v7h-1v4h-1v-5h-1v-2h-1v-2h-1v-2h-1v10h-1v-10h-1v-3h-1v1h-1v-1h-1v1h-1h-1v2h-1v13h-1v5h-1v-18h-1v1h-1v2h-1v-4h-1v-4h-1v5h-1v-4h-1v-1h-1v7h-1v-3h-1v-1h-1v2h-1v18h-1v-1h-1v-18h-1v-1h-1v-1h-1v2h-1h-1v1h-1v15h-1v1h-1v6h-1v-20h-1h-1v-2h-1v1h-1v4h-1v1h-1v-6h-1v-2h-1v1h-1v-1h-1h-1h-1v-2h-1v-2h-1v4h-1v2h-1v-1h-1v1h-1v3h-1v1h-1v-3h-1v-1h-1v-2h-1h-1v2h-1v-3h-1v-1h-1v2h-1v3h-1v-1h-1v-4h-1v1h-1v8h-1v1h-1v-4h-1v-5h-1v-2h-1v-1h-1v-3h-1v1h-1v3h-1v1h-1v-2h-1v7h-1v3h-1v-4h-1v17h-1v-16h-1v18h-1v-3h-1v-20h-1v1h-1v16h-1v-5h-1v-1h-1v-10h-1v21h-1v-11h-1v-12h-1v1h-1h-1h-1v3h-1v-1h-1v-3h-1v4h-1v1h-1v-4h-1v3h-1h-1v-1h-1v-4h-1h-1h-1v5h-1v2h-1v-5h-1v3h-1v2h-1h-1v4h-1v-2h-1v1h-1v4h-1v-4h-1v-3h-1v10h-1v-16h-1v3h-1v3h-1v-2h-1v-2h-1v1h-1v-1h-1v-1h-1h-1v-3h-1v1h-1v2h-1v-2h-1v1h-1h-1v1h-1h-1h-1h-1v-1h-1v2h-1v4h-1v-2h-1v-2h-1v3h-1h-1v2h-1v1h-1v-1h-1v1h-1v1h-1v17h-1v-18h-1v-2h-1v-1h-1v3h-1v2h-1v-5h-1v1h-1v1h-1v-2h-1v6h-1v-8h-1v2h-1h-1h-1v3h-1v1h-1v3h-1v-1h-1v-5h-1h-1v-3h-1v-2h-1v-5h-1v-3h-1v2h-1v2h-1h-1v1h-1v2h-1v2h-1v6h-1v-1h-1v-5h-1v-1h-1v-4h-1v2h-1v28h-1v-17h-1v8h-1v-16h-1v13h-1v5h-1v-11h-1v-4h-1v-3h-1v1h-1v-3h-1v-2h-1v-1h-1v2h-1v26h-1v-5h-1v-19h-1v2h-1v3h-1v-4h-1v-7h-1v4h-1v3h-1v17h-1v-17h-1v7h-1h-1v-5h-1v-1h-1v2h-1v-2h-1v2h-1v16h-1v-6h-1v-13h-1v1h-1v5h-1v3h-1v-7h-1h-1v2h-1h-1v-1h-1v-1h-1v2h-1v-1h-1h-1v3h-1v-1h-1v-4h-1v19h-1h-1v-16h-1h-1v1h-1v1h-1v-3h-1v-2h-1v2h-1v2h-1v12h-1v-14h-1v-3h-1v1h-1h-1v-6h-1v3h-1v3h-1v-5h-1v-1h-1h-1v3h-1v-2h-1v1h-1v1h-1v3h-1v1h-1v15h-1v-2h-1v-12h-1v4h-1v-2h-1h-1v2h-1v3h-1v-1h-1v-1h-1v-1h-1v-2h-1v2h-1v13h-1v-14h-1v-1h-1v13h-1v15h-1v-10h-1v-4h-1v-12h-1v3h-1v-3h-1v-3h-1v-2h-1v-3h-1v2h-1v4h-1v-1h-1v-3h-1v19h-1v-16h-1v3h-1v16h-1v-18h-1v-2h-1v2h-1v-1h-1v-2h-1v2h-1v-2h-1h-1v-3h-1v-1h-1v1h-1v3h-1h-1v8h-1v2h-1v-9h-1v17h-1h-1v-22h-1v-2h-1v2h-1h-1h-1v3h-1v1h-1v-2h-1v6h-1v-8h-1h-1v-1h-1v-3h-1v6h-1v3h-1v-2h-1v4h-1v1h-1v-1h-1v-3h-1v-1h-1v-1h-1v1h-1v3h-1v-1h-1v3h-1h-1v4h-1h-1h-1v-2h-1v2h-1h-1v-7h-1v14h-1v-11h-1v-3h-1v-1h-1v-2h-1v1h-1v3h-1v2h-1h-1v-3h-1h-1v3h-1v-3h-1v1h-1v2h-1v-1h-1h-1v-2h-1v-5h-1h-1v3h-1v-3h-1v-1h-1v2h-1v8h-1v-10h-1v5h-1v-1h-1v1h-1h-1v-2h-1v2h-1v3h-1v1h-1h-1v-4h-1v2h-1v2h-1v3h-1v-2h-1v9h-1v-12h-1v-2h-1v-1h-1v-1h-1v5h-1v-3h-1h-1v-1h-1v1h-1v18h-1v-13h-1v-3h-1v-1h-1v-1h-1v4h-1v-4h-1v-3h-1v-1h-1v2h-1h-1v-1h-1v-1h-1v17h-1h-1v-10h-1v-3h-1v-4h-1v12h-1v4h-1v-16h-1v-5h-1v12h-1v-2h-1v5h-1v2h-1v-11h-1v1h-1v3h-1v2h-1v10h-1v-14h-1v10h-1v-7h-1v-1h-1h-1v9h-1v1h-1v-8h-1h-1v-5h-1v-1h-1v3h-1v1h-1v2h-1v-2h-1v-1h-1h-1v2h-1v1h-1v10h-1v-5h-1v-5h-1v-2h-1v1h-1v1h-1v-5h-1v-5h-1h-1z" fill="#004C12"/>
<path transform="scale(1,0.1)" d="M192 1274h1v-1h1v8h1v3h1v-3h1h1v-1h1v1h1v1h1v-5h1v-1h1v1h1v-4h1v2h1v-6h1h1v14h1h1v-2h1v4h1v3h1v-1h1v-1h1h1v-4h1v1h1v-4h1v-2h1v3h1v3h1h1h1v-1h1v-1h1v1h1v-1h1v2h1v5h1h1v2h1v1h1v1h1v7h1v-10h1v2h1v-16h1v-5h1v12h1v3h1v2h1v-2h1v1h1h1v4h1v2h1v-3h1h1v-16h1v-3h1v12h1v-8h1v-16h1v23h1v1h1v3h1v2h1v-15h1v15h1v-1h1v2h1v1h1v-2h1v-1h1v-1h1v-5h1v3h1v4h1v-2h1v-7h1v-1h1v1h1v-12h1v13h1v-9h1v9h1v-3h1v-1h1v8h1v3h1v4h1v-8h1v-7h1v7h1v5h1v-1h1v-1h1h1v-1h1v-15h1h1v10h1v-4h1v6h1v-3h1v-1h1v5h1v2h1v-4h1v-22h1v2h1v21h1v1h1v2h1v-1h1v3h1v2h1v-2h1v-18h1h1v9h1v-15h1v5h1v12h1v1h1v4h1v2h1h1v-2h1v-2h1v-2h1v1h1v-3h1v-3h1h1v2h1v9h1v-3h1v-5h1v1h1h1v4h1v-3h1v-1h1v4h1v5h1v1h1v-4h1v-3h1v-4h1v-12h1v1h1v13h1v-1h1v5h1h1v1h1v-2h1v-14h1v22h1v-2h1v-4h1v-4h1h1v-2h1v-2h1v1h1v1h1v-24h1v20h1v2h1v2h1h1v3h1v3h1v-1h1v-6h1v2h1v1h1v1h1v-2h1h1v1h1v4h1h1v1h1v-2h1v-1h1v4h1v1h1v1h1v-4h1v-1h1v3h1v-2h1v-1h1v-15h1v20h1v-1h1v1h1v-3h1h1v1h1v-2h1h1v-1h1v1h1v-3h1v-4h1v-13h1v15h1v1h1v2h1h1v3h1v6h1h1v-16h1v-1h1v10h1v1h1h1v-5h1v-2h1v-8h1v1h1v8h1v-16h1v-3h1v4h1v17h1v-5h1v3h1v-14h1v-19h1v15h1v19h1v3h1v-1h1h1v1h1h1v-2h1v-5h1h1v5h1v6h1v-1h1v-1h1v-1h1v-1h1v3h1v2h1v1h1v-1h1v3h1v-2h1v-6h1v-4h1v4h1v-16h1v11h1h1v5h1h1v-10h1v1h1v6h1v-17h1v-9h1v17h1v16h1v3h1v-11h1v-9h1v-11h1v7h1v18h1v-2h1h1v1h1h1v-1h1h1v2h1v1h1h1v-2h1v-3h1h1v-4h1v5h1v-3h1v1h1v3h1h1v-5h1v-8h1v13h1v5h1v-10h1v-4h1v7h1v2h1v1h1v-2h1v-1h1v2h1v-1h1v-2h1v5h1v4h1v-2h1v-7h1v3h1v6h1h1h1v-2h1v5h1v-1h1v-2h1v-3h1v-1h1v2h1v2h1v-1h1v-6h1h1v1h1v1h1v2h1v4h1v-2h1v3h1v-4h1v-6h1v2h1v4h1v-1h1v-1h1v-5h1v-4h1v-10h1v17h1v6h1v-14h1v-1h1v14h1v-3h1v-17h1v-19h1v12h1v19h1v-3h1v1h1v4h1v3h1h1v-3h1v-1h1v-2h1h1v6h1v-4h1v3h1v2h1v1h1v1h1v-2h1v-1h1v-1h1v2h1h1v2h1h1v-3h1v-13h1v16h1v-3h1v-3h1h1h1v-12h1v-9h1v22h1v-2h1v-1h1h1v2h1h1v3h1v-4h1v-2h1v2h1v4h1v-7h1v7h1v4h1v4h1v4h1v-1h1v-3h1v-6h1v-4h1v3h1v-11h1v2h1v-5h1v-6h1v-1h1v18h1v1h1v-2h1v-3h1v4h1v1h1h1v-2h1v2h1v1h1v2h1v2h1v-3h1v-3h1v-11h1v20h1v-1h1v-4h1v-3h1h1h1v3h1v3h1v-2h1v4h1v-14h1v6h1v-10h1v7h1v4h1v2h1v1h1v-1h1v4h1h1v-1h1v-4h1v1h1v-11h1v9h1v-3h1v7h1h1v2h1v-13h1v15h1v-4h1v-7h1h1v4h1v-1h1v-5h1v3h1h1h1h1h1v1h1v4h1v2h1v-2h1v-23h1v3h1v18h1v-2h1h1v2h1v-18h1v-3h1v6h1v4h1v11h1v4h1v-2h1v-4h1v2h1h1v-3h1v-1h1h1v3h1h1v-2h1v-2h1v5h1v7h1v-4h1v-3h1v1h1h1v-13h1v10h1v-4h1v1h1v-16h1v5h1v12h1h1v6h1h1v-2h1v-3h1v1h1h1v2h1v-3h1v2h1v-13h1v-15h1v13h1v14h1h1v-2h1v-1h1v-5h1v7h1v-12h1v3h1v13h1v2h1v-9h1v4h1v-1h1v2h1v1h1v-5h1v-14h1v16h1v-4h1v-17h1v4h1v20h1v3h1v-2h1v-5h1h1v2h1v-3h1v1h1v4h1v3h1v-2h1v-5h1v-3h1v6h1v2h1v2h1v-1h1v-13h1v6h1v3h1v5h1v5h1v-4h1v-7h1v2h1v1h1v-3h1v-4h1v6h1v-11h1v6h1v-1h1v2h1v2h1v-1h1v-8h1v-5h1v14h1v-1h1v2h1v-2h1h1v2h1h1v-20h1v-2h1v21h1v6h1v-4h1v2h1v-10h1v2h1v-1h1v3h1v-8h1v2h1v4h1v2h1v1h1v-3h1h1v-20h1v19h1v6h1v-1h1v-4h1v2h1v-13h1v2h1v14h1v-1h1v4h1h1v-2h1v-1h1v1h1v1h1v1h1v2h1v-8h1v-2h1v3h1v-1h1v-1h1h1v2h1v-1h1h1v1h1v2h1v-4h1v11h1v-13h1v-12h1v-5h1v27h1v1h1v-3h1v-2h1v-15h1v24h1v-4h1v-8h1v2h1v4h1v-15h1v14h1v1h1v1h1v-6h1h1v2h1v3h1h1v3h1v-2h1v1h1v3h1v-5h1v-3h1v3h1v1h1v-3h1v-3h1v-4h1v2h1v4h1v2h1v1h1v-3h1v-1h1v-2h1v12h1v-4h1v-12h1v2h1v7h1v-2h1v-4h1v-1h1v-1h1h1h1v3h1v-1h1h1v5h1v3h1h1v1h1v-13h1v11h1v-1h1v1h1v4h1v3h1v2h1v-1h1v-7h1v-7h1v4h1v1h1v4h1v-1h1v-1h1v-2h1v-3h1v3h1v5h1v-3h1v-4h1h1v3h1h1v-5h1v3h1v-14h1v-12h1v-7h1v24h1v3h1v-1h1v-1h1v2h1v2h1v2h1v3h1v-20h1v21h1v-3h1v-4h1v-7h1v-7h1v8h1v14h1v-4h1v-1h1v7h1v-16h1v11h1v-3h1v-17h1v-1h1v18h1h1v2h1v-1h1v-16h1v1h1v16h1v2h1v3h1v-16h1v-1h1v13h1v-15h1v-4h1v17h1v2h1v1h1v-1h1v1h1v-6h1v-10h1v6h1v6h1v-1h1h1h1v-15h1v3h1v14h1v-2h1v-16h1v1h1v18h1v-2h1v4h1v4h1v-4h1v-8h1v3h1v1h1v2h1v-3h1v-2h1v-2h1v2h1v1h1v1h1v-8h1v15h1v2h1v-2h1v2h1v3h1v-2h1v-9h1v-17h1v14h1v4h1v-3h1h1v-3h1v-9h1v11h1v-13h1v14h1v1h1v7h1v-14h1h1v12h1v3h1v-17h1v-7h1v21h1v-13h1v-2h1v12h1v1h1v-2h1v-3h1v3h1v-4h1v10h1v-13h1h1v-11h1h1v22h1v2h1v-13h1v-3h1v10h1v1h1v-1h1v-4h1v1h1v1h1v-14h1v14h1v-13h1v3h1v14h1v-3h1v1h1v1h1v3h1v3h1v-3h1v-2h1v2h1v2h1v1h1v-20h1v17h1h1v-1h1v2h1h1h1v-1h1h1v-1h1v-2h1v-16h1v-2h1v9h1v-1h1v4h1v2h1v3h1h1v-3h1v6h1v1h1h1v2h1v2h1v-1h1h1v-2h1h1h1v-16h1h1v14h1v1h1v1h1v5h1v-2h1v-5h1v-5h1v3h1v2h1v-16h1h1v12h1v-5h1v3h1v7h1v3h1h1v-4h1v-4h1v-21h1v5h1v22h1v4h1v-2h1v-1h1v-4h1v1h1v-21h1v16h1v1h1h1v2h1v1h1v-2h1v-12h1v15h1v2h1v-3h1v1h1v1h1h1v2h1v3h1h1v-6h1h1h1v-17h1v2h1v17h1v-4h1v-3h1v3h1v-2h1v-5h1h1v5h1v2h1v-4h1v-1h1v4h1v-1h1v-11h1v12h1h1v-6h1v-2h1v-2h1h1v4h1v4h1h1v-3h1v-3h1v1h1v2h1v-3h1v-2h1v5h1v3h1v-7h1h1v5h1v-1h1h1v5h1v-1h1h1v1h1v4h1v-1h1v-3h1v-2h1v4h1v1h1v2h1v-1h1v-2h1v-2h1v1h1v-2h1v-1h1v1h1v2h1v2h1v1h1v1h1v-10h1v-1h1v12h1v2h1v-6h1h1v4h1v-2h1v-1h1v-1h1v2h1v2h1v-9h1v-3h1v8h1v-1h1v-2h1v-10h1v8h1v3h1v1h1h1h1v-3h1h1v2h1v2h1v1h1v-4h1h1v-1h1v-2h1v8h1v2h1v3h1h1h1v-1h1v-6h1v-13h1v9h1v-2h1v-5h1v1h1v4h1v-6h1v8h1v-2h1v5h1v2h1v-3h1v5h1v3h1v-2h1v-1h1v-1h1v-2h1h1h1v-18h1v17h1v2h1v2h1v-3h1v-1h1v-17h1v-2h1v19h1v-5h1v2h1v7h1v-15h1v3h1v6h1h1v9h1v-1h1v-4h1v1h1v-3h1h1v-9h1v9h1v2h1v-1h1v2h1v-2h1v-2h1v3h1v1h1v-2h1v3h1v2h1v-7h1v1h1v-2h1v4h1v4h1v3h1v-10h1v4h1v-1h1v-1h1v-1h1v2h1v2h1v-2h1v1h1v-2h1v-5h1v-2h1v2h1v3h1v1h1h1v-14h1v17h1v-1h1v4h1v-1h1v-5h1v3h1h1v-5h1v1h1v2h1h1v3h1v-2h1v-1h1v5h1h1v-4h1v-5h1v-2h1v3h1v3h1v-7h1h1v8h1v1h1v2h1v6h1h1v-6h1v-2h1v7h1h1v-5h1v2h1v-9h1v5h1v1h1h1v1h1v-3h1h1v7h1v-3h1h1v-1h1v-14h1v6h1v2h1v-1h1v5h1h1v-3h1v-1h1v1h1v5h1v1h1v-1h1v-4h1v-3h1v1h1v6h1v1h1v-22h1h1v12h1v1h1v-1h1v-1h1v2h1v-14h1v3h1v16h1v-3h1v-20h1v16h1v2h1v1h1v1h1v1h1v-4h1v5h1v-1h1h1v-1h1v-3h1v4h1v-11h1v-5h1v16h1v4h1v-3h1v-8h1v-1h1v5h1v-2h1v-6h1v3h1v10h1v-2h1v2h1v4h1v1h1v-1h1v-2h1v-1h1v70h-1h-1v3h-1v-1h-1v-3h-1v-3h-1v12h-1v-7h-1v-3h-1v2h-1v4h-1v11h-1v2h-1v-18h-1h-1v4h-1v-3h-1v2h-1v2h-1v-4h-1v-2h-1v3h-1v6h-1v9h-1v-3h-1v-5h-1v10h-1v-16h-1h-1h-1v1h-1v3h-1v-1h-1v1h-1v-2h-1h-1v-3h-1v-3h-1v2h-1v1h-1v1h-1h-1v8h-1v-5h-1v3h-1v-3h-1v-5h-1v13h-1h-1v-11h-1v3h-1h-1v3h-1v23h-1v2h-1v-19h-1v-1h-1v-5h-1v-2h-1v1h-1v-1h-1v-1h-1h-1h-1v-3h-1h-1v-1h-1v-1h-1v-1h-1v1h-1v4h-1v1h-1v-2h-1v1h-1v2h-1v-4h-1v-4h-1v3h-1v13h-1v-3h-1v-14h-1h-1v1h-1v2h-1v3h-1v6h-1v-13h-1v3h-1v2h-1v4h-1v3h-1v-5h-1v3h-1v4h-1v-3h-1v-4h-1v2h-1v12h-1v-14h-1h-1h-1v-2h-1v3h-1v4h-1v-4h-1v-2h-1v-6h-1v2h-1h-1v1h-1v1h-1v5h-1v5h-1v1h-1v5h-1v-2h-1v7h-1v-4h-1v-15h-1h-1v-1h-1v1h-1v2h-1v1h-1v-5h-1v-1h-1v2h-1v3h-1v4h-1v4h-1v16h-1v-4h-1v-19h-1v-1h-1v2h-1v16h-1v-1h-1v-1h-1v-13h-1v8h-1v-11h-1v1h-1v-4h-1v-4h-1v3h-1v3h-1v2h-1v1h-1v-2h-1v-1h-1v15h-1v-15h-1h-1v12h-1v1h-1v-16h-1v1h-1v1h-1v1h-1v5h-1v-2h-1v-5h-1h-1v1h-1v-1h-1v7h-1v15h-1v-6h-1v-23h-1v3h-1h-1v2h-1v5h-1v1h-1h-1h-1v-1h-1v3h-1v5h-1v-2h-1v-3h-1v-4h-1v-2h-1v11h-1v-1h-1v4h-1v-21h-1v1h-1v3h-1h-1v-2h-1v6h-1v1h-1v1h-1v-2h-1v18h-1v18h-1v-15h-1v-10h-1v1h-1v-1h-1v-3h-1v-3h-1v-4h-1v17h-1v2h-1v-14h-1v-3h-1v-2h-1h-1v-5h-1v1h-1v3h-1v-1h-1v-3h-1v1h-1v2h-1v1h-1v2h-1v-1h-1h-1v1h-1v6h-1v-1h-1v14h-1v-14h-1v-2h-1v1h-1v19h-1v-1h-1v-19h-1v1h-1v-5h-1v11h-1v-15h-1v1h-1v2h-1v2h-1v17h-1v-3h-1v-15h-1v-3h-1v7h-1v-8h-1v17h-1v3h-1v-10h-1h-1v-6h-1v-2h-1h-1v-3h-1h-1v1h-1v-2h-1v-6h-1v9h-1v-4h-1h-1h-1v3h-1v1h-1v1h-1v1h-1v9h-1v-6h-1v-1h-1v1h-1v-3h-1v1h-1v1h-1v1h-1h-1v-2h-1v-4h-1v1h-1v2h-1v-2h-1v6h-1v1h-1h-1h-1v1h-1v-1h-1v2h-1v1h-1h-1v1h-1v-1h-1v-5h-1v8h-1v3h-1v-9h-1v-1h-1v1h-1v4h-1v3h-1h-1v-3h-1h-1v-6h-1v1h-1v-2h-1v-2h-1v-2h-1v-4h-1h-1v4h-1v1h-1v1h-1v3h-1v2h-1v-2h-1v3h-1v5h-1v9h-1v1h-1v-11h-1v-3h-1v1h-1v-1h-1v-1h-1v4h-1h-1v6h-1v-2h-1v-11h-1h-1v-1h-1v-4h-1v1h-1v3h-1v1h-1v1h-1v-3h-1h-1v-1h-1v-1h-1v3h-1v27h-1v-9h-1v-18h-1v1h-1v8h-1v1h-1v9h-1v-15h-1v1h-1h-1v-1h-1v-2h-1h-1v-1h-1v3h-1v1h-1v1h-1h-1v-3h-1v-1h-1v-2h-1v2h-1v-1h-1v-3h-1h-1v6h-1v1h-1v-2h-1v17h-1v-25h-1v-3h-1v3h-1v4h-1h-1v-1h-1v4h-1v-4h-1v1h-1v-2h-1v-2h-1v-1h-1v-2h-1v2h-1v3h-1v15h-1v-6h-1v-15h-1v13h-1v-15h-1v-3h-1v5h-1v2h-1v-7h-1h-1v7h-1v3h-1v2h-1h-1v-1h-1v2h-1v2h-1h-1v3h-1v-4h-1v-1h-1v-1h-1v-1h-1v14h-1v2h-1v-16h-1v3h-1v2h-1v2h-1v-2h-1v2h-1h-1v-3h-1v-3h-1v-2h-1v6h-1v10h-1v-2h-1v-9h-1h-1v-2h-1h-1v1h-1v2h-1v-1h-1v1h-1v-5h-1v-2h-1v1h-1h-1v2h-1v16h-1v-14h-1v5h-1v-2h-1v-5h-1v-1h-1v-4h-1h-1v3h-1v-1h-1v4h-1v-2h-1v-3h-1v-2h-1v16h-1v3h-1v-14h-1v2h-1v-4h-1h-1v2h-1v21h-1v-18h-1h-1v-3h-1v-3h-1v2h-1v3h-1v-3h-1v2h-1v-2h-1v1h-1v2h-1v2h-1v1h-1v-2h-1v1h-1v-2h-1v2h-1h-1v19h-1v-6h-1v-16h-1v2h-1v-3h-1v17h-1v19h-1v-21h-1v-15h-1v-6h-1v-4h-1v4h-1v2h-1h-1v4h-1h-1h-1h-1v2h-1h-1v22h-1v-20h-1v-1h-1v1h-1v4h-1v-2h-1h-1v-1h-1v2h-1v-2h-1v-4h-1v1h-1v10h-1v2h-1v-12h-1v-2h-1v1h-1v13h-1v-13h-1v8h-1v-9h-1v-2h-1v15h-1v-1h-1v-16h-1v2h-1v2h-1v-1h-1v4h-1v-3h-1v-2h-1v13h-1v3h-1v-9h-1v-6h-1v-2h-1v4h-1v3h-1h-1v-3h-1v-3h-1v2h-1v-1h-1v-1h-1v1h-1v-1h-1v3h-1v5h-1v1h-1v-2h-1v-6h-1h-1h-1v3h-1v-3h-1v-3h-1v2h-1v14h-1v-4h-1v-15h-1v1h-1v3h-1h-1v3h-1v-1h-1v-1h-1v6h-1v2h-1v13h-1v-10h-1v-1h-1v1h-1v-2h-1v-2h-1v3h-1h-1v-4h-1v-7h-1v9h-1v21h-1v-14h-1v-19h-1v7h-1v-6h-1v1h-1v3h-1h-1v1h-1h-1v1h-1v-3h-1v15h-1v-12h-1v1h-1v4h-1v-2h-1v-2h-1v-2h-1v-1h-1v12h-1v-12h-1v-1h-1v6h-1v-2h-1v-1h-1v3h-1v-3h-1v2h-1v3h-1v1h-1v-3h-1v3h-1v-2h-1v-5h-1v-2h-1v12h-1v-13h-1v4h-1v-1h-1v-1h-1v4h-1h-1v-4h-1v4h-1v3h-1v-2h-1v-4h-1v-4h-1v-1h-1v3h-1v11h-1v-11h-1v-7h-1v2h-1v2h-1v2h-1v2h-1h-1h-1v10h-1v-10h-1v17h-1v2h-1v-10h-1v-2h-1v-7h-1v4h-1v4h-1v-1h-1v1h-1v2h-1v-1h-1v2h-1v-1h-1v8h-1v-18h-1v2h-1v1h-1h-1v1h-1v-4h-1v13h-1v2h-1v-14h-1v1h-1v2h-1h-1v-2h-1v3h-1v3h-1v-3h-1v-4h-1v2h-1v11h-1v-2h-1v-5h-1v-4h-1v20h-1v-6h-1v-3h-1v-13h-1v1h-1v3h-1h-1v-3h-1v1h-1v-2h-1v4h-1v1h-1v-4h-1v-3h-1v3h-1v23h-1v-14h-1h-1v-3h-1v-7h-1h-1v2h-1h-1v5h-1v-3h-1v-8h-1v-3h-1v5h-1v3h-1v-2h-1h-1v-2h-1v11h-1v6h-1v2h-1v-12h-1v1h-1v-2h-1v2h-1v11h-1v6h-1v-4h-1v-15h-1h-1v-3h-1v2h-1v-2h-1v-1h-1v2h-1v1h-1v-4h-1v-3h-1h-1v8h-1v8h-1v-1h-1v-9h-1v1h-1v1h-1v-1h-1h-1v-5h-1v-1h-1v4h-1v1h-1v-2h-1v4h-1h-1v1h-1v-2h-1v-2h-1v-3h-1h-1v5h-1v1h-1h-1v2h-1v18h-1v-14h-1v-7h-1v1h-1v-2h-1h-1h-1h-1v-1h-1v-4h-1v1h-1v2h-1v-2h-1v-2h-1v1h-1v25h-1v-7h-1v-14h-1v-1h-1v-3h-1v2h-1v-1h-1v1h-1v-1h-1v10h-1v8h-1v-8h-1v-2h-1v20h-1v-1h-1v-25h-1v-1h-1v4h-1h-1v1h-1v1h-1v15h-1v-1h-1v-17h-1v3h-1v2h-1v2h-1v12h-1v2h-1v-12h-1v-1h-1v-7h-1v-1h-1h-1v6h-1v-5h-1v5h-1v15h-1v-18h-1v-3h-1v4h-1v1h-1v-1h-1h-1v3h-1v1h-1v-4h-1v-2h-1h-1v2h-1v-1h-1v-2h-1v11h-1v-12h-1v-2h-1v2h-1v-3h-1v-1h-1v4h-1v4h-1v-3h-1v2h-1v4h-1h-1v-3h-1v-3h-1h-1v1h-1v-1h-1v1h-1v2h-1v-2h-1v-1h-1v-1h-1v3h-1v2h-1h-1v-6h-1v-1h-1v-1h-1h-1v3h-1v-3h-1v6h-1v-2h-1v1h-1v3h-1v2h-1v-3h-1v-1h-1v2h-1v-2h-1v4h-1v3h-1v-1h-1v-1h-1v18h-1v-18h-1v-2h-1v-2h-1v-2h-1v-2h-1v-4h-1v2h-1v2h-1v7h-1v-13h-1v2h-1v4h-1v8h-1v1h-1v-9h-1v3h-1v3h-1v3h-1v2h-1v-6h-1v1h-1v16h-1v-23h-1v-5h-1v11h-1v-1h-1v-5h-1v4h-1v-7h-1v1h-1v4h-1v-2h-1v-1h-1v-2h-1v15h-1v-17h-1v6h-1v2h-1v-4h-1v4h-1v6h-1v-6h-1v-2h-1v1h-1v3h-1v-2h-1v-2h-1v-2h-1v3h-1v3h-1v-2h-1v-3h-1v-2h-1v-2h-1v-2h-1v2h-1v3h-1v1h-1v-4h-1h-1v24h-1v-19h-1v5h-1v4h-1v2h-1v1h-1v-8h-1v17h-1v4h-1v-20h-1h-1v-4h-1v-5h-1v-1h-1v7h-1v1h-1v3h-1v2h-1h-1v13h-1v-19h-1v-3h-1v3h-1h-1v3h-1v1h-1v-6h-1h-1v6h-1v9h-1v-6h-1v18h-1v-6h-1v-1h-1v-6h-1v-17h-1v2h-1v2h-1v12h-1v-4h-1v-15h-1v2h-1h-1h-1v17h-1v1h-1v-15h-1h-1v3h-1v5h-1v1h-1v-4h-1v-5h-1v-3h-1v3h-1v9h-1v3h-1v-8h-1v3h-1v3h-1v-5h-1v-3h-1h-1v3h-1v-1h-1v-2h-1v1h-1v1h-1v-2h-1h-1v-1h-1v2h-1v1h-1v-2h-1v17h-1v-16h-1v1h-1v-1h-1v-2h-1v-3h-1v-1h-1v2h-1v13h-1v-14h-1v2h-1v6h-1h-1v1h-1v9h-1v-11h-1v20h-1v-1h-1v-22h-1v-1h-1v5h-1h-1v-2h-1v-4h-1v-2h-1v2h-1v-2h-1v-1h-1v3h-1v2h-1v-2h-1v-3h-1v17h-1v-11h-1v2h-1v-2h-1v-3h-1v1h-1v4h-1v4h-1h-1h-1v-2h-1v-1h-1h-1v-5h-1v-2h-1v11h-1h-1v-9h-1v-3h-1v16h-1v-14h-1v22h-1v-3h-1v-17h-1v14h-1v1h-1v-18h-1h-1v4h-1v3h-1v-6h-1v-4h-1v1h-1v-2h-1v1h-1v5h-1v1h-1v-5h-1v3h-1v4h-1v-3h-1v1h-1v10h-1v-14h-1v10h-1v2h-1v-8h-1v-7h-1v5h-1h-1v-4h-1v2h-1v18h-1v6h-1v-19h-1v-5h-1v-2h-1v3h-1v16h-1v-11h-1h-1v-1h-1v-3h-1v-1h-1v2h-1v1h-1v-2h-1v-3h-1v-1h-1v-2h-1v1h-1v2h-1v1h-1v-1h-1v11h-1v-8h-1v12h-1h-1v-13h-1v3h-1v3h-1h-1h-1v20h-1v-1h-1v-18h-1v-1h-1v3h-1v-3h-1v-2h-1v3h-1v1h-1v-6h-1v6h-1v2h-1v-7h-1v-1h-1v-1h-1v2h-1h-1v-1h-1h-1h-1v3h-1v5h-1v-2h-1v-4h-1v1h-1v4h-1v1h-1v1h-1v-2h-1h-1v-1h-1v17h-1v1h-1v-21h-1v10h-1v-13h-1v-2h-1v-1h-1v-3h-1v2h-1v13h-1v-13h-1v1h-1v4h-1v22h-1v-1h-1v-17h-1v2h-1v1h-1v2h-1v-2h-1v-4h-1v11h-1v-3h-1v-13h-1v1h-1v-1h-1v2h-1h-1v1h-1v2h-1v13h-1v1h-1v-13h-1v-3h-1v-7h-1v2h-1h-1v-2h-1v3h-1v4h-1v8h-1h-1v-2h-1v-2h-1v-2h-1v1h-1v1h-1v-1h-1v-1h-1v1h-1v2h-1v-3h-1v-1h-1v1h-1v-2h-1h-1v1h-1v-3h-1v9h-1v5h-1v-7h-1v-5h-1v2h-1v3h-1v1h-1v-5h-1h-1v1h-1v-4h-1v-3h-1v6h-1v2h-1v-1h-1v3h-1h-1v16h-1z" fill="#847200"/>
<path transform="scale(1,0.1)" d="M192 1585h1h1v18h1v-3h1v-3h1v-5h1h1v4h1v-3h1v-1h1v4h1v-3h1v1h1h1v3h1v2h1v-1h1v-1h1v-1h1v-4h1v1h1v3h1v-12h1v-1h1v12h1v-6h1v2h1v-3h1v-2h1h1v2h1h1v-1h1h1v-13h1v8h1v7h1v-15h1v-1h1v20h1v-2h1h1v4h1v-1h1v-11h1v12h1v5h1v-18h1v21h1v-23h1v-4h1v16h1v1h1v1h1v-18h1v11h1v7h1v-5h1v3h1v5h1v-20h1h1v20h1h1v-2h1h1h1v-17h1v-2h1v2h1v-1h1v12h1h1v1h1v-15h1v16h1v8h1h1v-1h1v-3h1v-4h1v-1h1h1v-1h1v1h1v2h1v-16h1v4h1v1h1v13h1v3h1v-18h1v12h1v1h1v-4h1v3h1v-3h1v-3h1v-1h1v4h1h1v-1h1v4h1v-7h1v11h1v2h1v-11h1v4h1v-1h1v2h1v2h1v-2h1v-2h1v-2h1v-3h1v-2h1v4h1v4h1v-2h1v4h1v6h1v-9h1v4h1v6h1v-2h1v-2h1v2h1v-16h1v10h1h1v3h1v3h1v-2h1h1v3h1v-5h1v-1h1v6h1h1v-3h1v-2h1v-13h1v1h1v13h1v-4h1v1h1v7h1v-1h1v-15h1v7h1v-15h1v-14h1v13h1v15h1v4h1v-1h1v-4h1h1v6h1v3h1v-3h1v-2h1v2h1v1h1v1h1v-11h1h1v11h1v-2h1v-5h1h1v-1h1v-1h1v4h1v3h1v2h1v-23h1v2h1v22h1h1v2h1h1v-2h1v3h1v2h1v-3h1v-1h1v2h1v1h1h1h1v-1h1v-16h1v-4h1v16h1v-8h1h1v10h1v-5h1v9h1v-7h1v-1h1v1h1v-1h1v3h1v-4h1h1v2h1v-8h1v5h1v-1h1v1h1v-2h1v5h1v1h1v-6h1v3h1v-1h1v3h1v5h1v-6h1v-4h1v5h1v-4h1v4h1v6h1v-2h1v-11h1v3h1v-13h1v-5h1v16h1v1h1v4h1v3h1v-17h1v2h1v16h1v-7h1h1v-4h1v-2h1h1v1h1v2h1v-15h1v21h1v-7h1v9h1h1v3h1v1h1v-5h1v-19h1v8h1v13h1v1h1v-3h1v-4h1v-8h1v2h1v13h1v-3h1v-1h1v-1h1v-11h1v-15h1v14h1v10h1v1h1v2h1v-15h1v1h1v12h1h1v-8h1v8h1h1v-10h1v7h1v5h1v3h1v-14h1v2h1v1h1v13h1v-14h1v14h1v-2h1v-22h1v18h1v-2h1v-10h1v3h1v-5h1v14h1v-5h1v-1h1v4h1v2h1v-1h1v2h1v1h1v2h1v1h1v-5h1h1v1h1v-5h1v1h1v2h1v-1h1v3h1v-20h1v-17h1v20h1v7h1v6h1v9h1h1v-1h1v-4h1v-4h1v4h1h1v3h1v1h1h1v1h1v-2h1v2h1v1h1v1h1v3h1v1h1v-4h1v-7h1v-2h1v4h1v1h1v-2h1v-2h1v1h1v-1h1h1v-15h1v4h1v16h1v-2h1v-3h1v-3h1v5h1v1h1v-3h1v3h1v2h1v-1h1v2h1h1v-5h1v-3h1v-1h1v2h1v1h1v1h1v-1h1h1v-15h1v21h1v2h1v-1h1h1v-1h1v-3h1v-1h1v-1h1v2h1v-1h1v-3h1v-13h1v-5h1v20h1v2h1v-6h1v-19h1h1v18h1v-12h1v9h1v2h1v2h1v-13h1v1h1v15h1v1h1v-1h1v2h1v3h1v2h1v-3h1v-2h1v5h1v3h1v-3h1v-19h1h1v17h1v2h1v1h1v-1h1v-2h1h1v-1h1v3h1v1h1v-1h1v1h1v-5h1v-14h1v2h1v-2h1v22h1h1v-3h1v-12h1v6h1v2h1v2h1h1v-3h1v-7h1v-1h1v6h1v-19h1v19h1v3h1v1h1h1h1v-2h1v2h1v1h1v-4h1v1h1v7h1v-2h1v-3h1h1h1v-1h1v1h1v-1h1v1h1v4h1v1h1v-6h1v-3h1v6h1v5h1v-3h1v-3h1v-2h1h1v-10h1v3h1v1h1v-15h1v20h1v-3h1v-2h1v-18h1v13h1v7h1v3h1v-1h1v2h1h1v-19h1v17h1h1h1v-6h1v-2h1v-1h1v-3h1v4h1v3h1v-1h1v1h1h1v-5h1v2h1v4h1v3h1v-2h1h1v-6h1v-3h1v5h1v3h1v-4h1v2h1v5h1v1h1v-1h1v-1h1h1v-17h1v20h1v-1h1v4h1v2h1v-15h1v10h1v4h1v-2h1v-4h1v1h1v5h1v1h1v-4h1v-1h1v4h1h1h1v-2h1v-24h1v25h1v-12h1v-6h1v11h1v2h1v1h1v-2h1v-7h1v1h1v9h1v-13h1v-1h1v16h1v-1h1v-3h1v-5h1v12h1v-6h1v-6h1v-2h1v4h1v4h1h1v-4h1v1h1v6h1v-8h1v3h1v-10h1v14h1h1h1h1v-11h1v5h1v7h1v-4h1v6h1v-5h1v-7h1v-1h1v1h1v4h1v-2h1v2h1v5h1v2h1v-2h1v1h1v1h1v-13h1v1h1v9h1v-1h1v1h1v3h1v1h1v-7h1h1v4h1v-2h1v2h1v-2h1v-2h1h1v2h1v-4h1v3h1v-1h1v1h1v-3h1h1v4h1h1v-2h1v-2h1v-20h1v17h1v-7h1v1h1v14h1v1h1v2h1h1v-3h1v-14h1v15h1h1v-3h1v-2h1h1v4h1v-1h1v-3h1v-16h1v19h1v2h1v-4h1v-2h1v-1h1h1v-1h1v6h1v2h1h1v4h1v-1h1v1h1v-22h1v-1h1v5h1v-11h1v10h1v5h1v3h1v-1h1v1h1v3h1h1v-1h1v2h1v-2h1v4h1v2h1v-2h1v-1h1v-2h1v4h1v1h1v-22h1v1h1v19h1v1h1v-1h1v-4h1v2h1v-1h1v-2h1v2h1v1h1v-12h1h1h1v5h1v2h1v5h1v-1h1v4h1v2h1v-1h1v1h1v-16h1v14h1v-7h1v1h1v2h1h1v3h1h1v-1h1v-1h1v-2h1v-3h1v3h1v-2h1v8h1v-7h1v9h1v-3h1v1h1v-1h1v-7h1h1v-2h1h1v-15h1v19h1v-3h1v2h1v5h1v1h1v3h1h1v-18h1v-3h1v16h1v3h1v-13h1v16h1v4h1v-2h1v-5h1v2h1v1h1v-6h1v2h1v2h1v-19h1v2h1v2h1v-2h1v15h1h1h1v1h1v-2h1v-2h1v-9h1v-12h1v15h1v2h1v2h1v-2h1v-1h1v1h1v-4h1v-2h1v9h1v-3h1v-1h1v4h1v-2h1v2h1v-19h1v-2h1v19h1v-1h1v5h1v1h1v-4h1v2h1v1h1v-2h1v-2h1v3h1h1h1v-1h1v1h1v2h1v-1h1v-4h1v-6h1v5h1v3h1v6h1v-2h1v-4h1h1v-1h1v-1h1v5h1v4h1v1h1v-3h1v-3h1v3h1v1h1v-11h1v1h1v-1h1v5h1h1v-3h1v-12h1v14h1v-1h1v3h1v1h1h1v6h1v-12h1v10h1v2h1v-1h1v1h1v-5h1v-2h1v1h1v4h1h1v-3h1v-4h1v2h1v-4h1v-6h1v2h1v-3h1v-4h1v2h1v2h1v3h1v2h1v4h1v1h1v-4h1v-1h1v-14h1v5h1v14h1v-17h1v13h1v3h1v-1h1v4h1h1v-1h1v3h1v-3h1v-2h1v4h1v5h1v2h1v-4h1v-4h1v-3h1v-13h1h1v12h1v-16h1v13h1v2h1v-2h1v4h1v-5h1v12h1v-4h1v-2h1v-2h1v-2h1v4h1h1v-6h1v5h1v2h1v-2h1v3h1v-6h1v4h1h1v-1h1v-1h1v3h1v1h1v2h1v7h1v-11h1v-3h1v3h1v-4h1v5h1v-1h1v-3h1v-2h1v-19h1v4h1v21h1v6h1h1v-1h1v2h1v-2h1v-2h1h1v-1h1v-2h1v1h1h1v-2h1v3h1v-4h1v7h1v-1h1v3h1v2h1h1v-4h1v-20h1v-9h1v18h1v8h1v-4h1v4h1v-1h1v3h1h1h1v4h1v-14h1v12h1v-1h1v-3h1v1h1v-4h1v-5h1v2h1v2h1v1h1v2h1v-4h1v3h1v5h1v1h1h1v3h1h1v-3h1v2h1v-3h1v-2h1v3h1v1h1v-19h1v-4h1v16h1v5h1v1h1v-13h1v-1h1v11h1v3h1v-7h1v2h1h1v3h1v-3h1v-5h1v7h1v2h1v-1h1v-2h1v-5h1v2h1v1h1v-2h1v-3h1v1h1v4h1v4h1v-19h1v3h1v21h1v-2h1v-2h1v2h1v3h1h1v-4h1v-22h1v17h1v1h1v3h1v-2h1v-16h1v7h1v-5h1v1h1v4h1v-12h1v-4h1v11h1v-3h1v1h1v12h1h1v-3h1v3h1v2h1h1v-4h1v-7h1v-4h1v5h1v13h1v-4h1v-3h1v1h1h1v-16h1v9h1v-2h1v13h1v1h1v2h1h1v1h1v-1h1v-1h1v-11h1v-1h1v8h1v1h1h1v-1h1v3h1v-1h1v-2h1v-5h1v-10h1v15h1v1h1v-1h1v2h1v1h1v1h1v-2h1v2h1v2h1v-7h1v2h1v1h1v-6h1v3h1v-1h1v3h1v2h1h1v1h1v1h1v-11h1v-8h1v9h1v-11h1v-1h1v16h1v4h1v5h1v-3h1v-8h1v10h1h1v1h1v-2h1v-4h1h1v-5h1v-1h1v5h1v2h1v-5h1h1v3h1v-14h1v17h1v1h1v-5h1h1v5h1v-5h1v5h1v-9h1h1v9h1v-5h1v5h1v3h1v-2h1v1h1v-2h1v2h1v-1h1v-4h1v-2h1v-10h1v-3h1v13h1v2h1v2h1v-3h1v-3h1v1h1v1h1v2h1h1h1v1h1v1h1v4h1v-2h1v-3h1v-1h1v5h1v-1h1h1v-6h1v1h1v-1h1v-3h1h1v-2h1v-1h1v1h1v-3h1v8h1h1h1v-2h1v7h1v-7h1v8h1v-1h1h1v-1h1v-1h1v-2h1h1v2h1h1v-3h1h1v-4h1v-5h1v3h1v1h1v3h1v4h1v2h1v-2h1v-16h1h1v15h1h1v2h1v1h1h1v1h1v1h1v1h1v-4h1v-3h1h1v-13h1v16h1v1h1h1v-2h1h1h1v1h1v-17h1v18h1v-4h1v-4h1v-1h1v4h1h1v3h1v-1h1v-5h1v-4h1v-3h1v4h1h1v-2h1v2h1v2h1h1v-3h1v3h1v7h1v-2h1v-3h1h1h1v1h1v-2h1v-1h1v-20h1v4h1v19h1v1h1v-1h1v1h1v2h1v-6h1v-10h1v16h1v-5h1v-4h1v4h1v5h1v-1h1v2h1h1v-3h1v-2h1v-3h1v-1h1v1h1v77h-1h-1v3h-1v-2h-1v-1h-1v3h-1h-1v-1h-1h-1v-1h-1v-1h-1v2h-1h-1v1h-1h-1v2h-1v-2h-1v9h-1v-12h-1v3h-1v1h-1v1h-1v2h-1v-2h-1v16h-1v-14h-1v-4h-1v1h-1h-1h-1v-3h-1v2h-1v3h-1v-1h-1v-1h-1v20h-1v-18h-1v-4h-1v-5h-1v2h-1v-1h-1v1h-1v2h-1v6h-1v3h-1v4h-1v-2h-1v4h-1v-9h-1v4h-1v-3h-1v-2h-1v1h-1v3h-1v-3h-1v-3h-1v-1h-1v2h-1h-1v3h-1v-1h-1v-1h-1v-3h-1v2h-1v5h-1v-1h-1v-5h-1h-1v5h-1v5h-1v15h-1v-2h-1v-19h-1v14h-1v2h-1v-12h-1v-2h-1v-3h-1v1h-1h-1v8h-1v-12h-1v1h-1v-3h-1v-2h-1v5h-1v-2h-1v-1h-1v-3h-1v6h-1v-1h-1v-2h-1v3h-1v-1h-1v-1h-1v4h-1v4h-1v-2h-1h-1v-1h-1v1h-1v-2h-1v-3h-1h-1h-1v1h-1v2h-1h-1v-5h-1v2h-1v1h-1v3h-1v-1h-1v-1h-1v1h-1v2h-1v3h-1h-1v14h-1v-16h-1v-3h-1v-3h-1h-1v1h-1v-1h-1v-8h-1v5h-1v-7h-1v2h-1v2h-1v-1h-1v8h-1v-7h-1v2h-1v-3h-1v2h-1v15h-1v-10h-1v14h-1v-1h-1v-13h-1v4h-1v-4h-1v2h-1v2h-1h-1v-2h-1v-1h-1v4h-1h-1v-6h-1v-2h-1v16h-1v-18h-1v1h-1v4h-1v2h-1v-3h-1v-4h-1v11h-1v-7h-1v7h-1v-7h-1v-1h-1h-1v2h-1v16h-1h-1v-18h-1v3h-1v-2h-1v3h-1v3h-1v-2h-1v-2h-1v-2h-1v-1h-1v8h-1v-9h-1v3h-1v-1h-1v-4h-1h-1v1h-1h-1v-2h-1v1h-1v12h-1v3h-1v-7h-1v-2h-1v-1h-1v-1h-1v1h-1h-1v2h-1v4h-1v-1h-1v-2h-1v-2h-1v-2h-1v13h-1v-1h-1v-7h-1v-2h-1v10h-1v1h-1v-12h-1v10h-1h-1v-11h-1v12h-1v-8h-1v-4h-1v15h-1v-8h-1v-3h-1v8h-1v-12h-1h-1v2h-1v-4h-1v2h-1v7h-1v-2h-1v-2h-1v-4h-1v-1h-1v5h-1v2h-1v-2h-1v1h-1v1h-1h-1h-1v8h-1v-14h-1h-1v-1h-1v3h-1v16h-1v-15h-1v-3h-1v-3h-1v1h-1v4h-1v-2h-1v-3h-1v-4h-1v1h-1v4h-1v2h-1v-1h-1v-2h-1v5h-1v3h-1v-7h-1v1h-1v2h-1h-1v20h-1v-2h-1v-24h-1v-2h-1v3h-1v-1h-1v-1h-1v13h-1v-4h-1v4h-1v-3h-1v-3h-1v3h-1h-1v-1h-1v-6h-1v-2h-1v-2h-1v3h-1v1h-1v3h-1v4h-1v-3h-1v1h-1v19h-1v-16h-1v1h-1v1h-1v-2h-1h-1v1h-1h-1h-1v1h-1v3h-1v15h-1v-1h-1v3h-1v-3h-1v-23h-1v2h-1h-1v-1h-1v-1h-1v-1h-1v-4h-1v4h-1v-1h-1v-2h-1v2h-1v1h-1v6h-1v3h-1v12h-1v-1h-1v-7h-1v-2h-1v-5h-1v5h-1v-1h-1v-2h-1v-1h-1v-2h-1h-1v2h-1v-2h-1v-5h-1v-2h-1v-3h-1v-2h-1v3h-1h-1v-5h-1v3h-1v6h-1h-1v-2h-1v2h-1v7h-1v-4h-1v-6h-1v17h-1v2h-1v-17h-1v-4h-1v20h-1v3h-1v-19h-1v1h-1v3h-1v1h-1v-4h-1v1h-1h-1h-1v2h-1v1h-1v4h-1v-1h-1v1h-1v-7h-1v-3h-1v2h-1v-2h-1v2h-1v5h-1v-2h-1v-4h-1v-1h-1v1h-1v3h-1v1h-1v8h-1h-1v-11h-1v6h-1v11h-1v-13h-1v-1h-1v-1h-1v4h-1v14h-1v-10h-1v-3h-1v-1h-1v2h-1v-2h-1v-2h-1v6h-1h-1v-2h-1v23h-1v-9h-1v-16h-1h-1v-2h-1h-1v-3h-1v-1h-1v-3h-1v1h-1v4h-1v2h-1v-4h-1v1h-1v14h-1v-21h-1v-1h-1v19h-1v-11h-1v1h-1v-2h-1v-4h-1v1h-1v1h-1v10h-1v-5h-1v4h-1v2h-1v-2h-1v-4h-1v12h-1v-11h-1v-4h-1v3h-1v3h-1v-2h-1v2h-1v6h-1v-11h-1h-1v1h-1v4h-1v-2h-1h-1v2h-1h-1v-2h-1v-3h-1v-1h-1v3h-1v1h-1v16h-1v-6h-1v-3h-1v2h-1h-1v-13h-1v4h-1v-5h-1v-3h-1v3h-1v15h-1v-14h-1h-1v19h-1v-19h-1v2h-1v-1h-1h-1v2h-1v-1h-1v2h-1v2h-1v-4h-1v-5h-1v2h-1v2h-1v2h-1h-1v2h-1v8h-1v-8h-1v4h-1h-1v-5h-1v-3h-1v-3h-1v1h-1v1h-1h-1v3h-1v-4h-1v1h-1v6h-1v-1h-1v13h-1v-10h-1v-1h-1v-8h-1v3h-1v2h-1v-4h-1v-5h-1v4h-1v1h-1v1h-1v-6h-1v-2h-1v5h-1v2h-1v-4h-1v-1h-1v-2h-1v4h-1v8h-1v-2h-1v-6h-1v23h-1v6h-1v-22h-1v4h-1v-4h-1v1h-1v18h-1v-22h-1v2h-1v2h-1v1h-1v-3h-1v-3h-1h-1v-3h-1v-1h-1v14h-1v-9h-1v13h-1v-14h-1v-4h-1v19h-1v-20h-1v2h-1v3h-1v3h-1v-1h-1v-3h-1v-1h-1h-1v1h-1v-2h-1v-1h-1v-2h-1v-2h-1v3h-1v4h-1v19h-1v-19h-1v1h-1h-1h-1v4h-1h-1h-1v1h-1v-5h-1h-1v2h-1v2h-1v-4h-1v-4h-1v1h-1v10h-1v-9h-1h-1v3h-1h-1v1h-1v2h-1v-1h-1h-1v4h-1h-1v-1h-1v-2h-1v-1h-1h-1h-1v-4h-1v8h-1v-12h-1v2h-1h-1v-3h-1h-1v2h-1v1h-1v3h-1v3h-1v-1h-1v-1h-1h-1v2h-1v-1h-1v-3h-1v3h-1v2h-1v-4h-1v2h-1v2h-1v-1h-1v-4h-1v-3h-1v4h-1v5h-1v-1h-1v-3h-1h-1v2h-1v4h-1h-1v-3h-1v2h-1h-1v-4h-1v-2h-1v1h-1v2h-1v-1h-1v1h-1v2h-1v19h-1v-22h-1v-3h-1v2h-1v1h-1v-2h-1v-1h-1v5h-1v20h-1v-2h-1v-19h-1v2h-1v1h-1v5h-1v-8h-1v2h-1h-1v-3h-1v-2h-1v12h-1v1h-1v-6h-1v-4h-1h-1v-1h-1v-1h-1v2h-1h-1v-2h-1v-1h-1v1h-1h-1v-2h-1h-1v-3h-1v1h-1v9h-1v-5h-1v-1h-1v1h-1v2h-1v13h-1v-3h-1v-9h-1v-1h-1v-5h-1v2h-1v4h-1v3h-1h-1v-2h-1v3h-1v-1h-1v-6h-1v-3h-1v4h-1v-4h-1v2h-1v3h-1v-1h-1h-1h-1v14h-1v-4h-1v-14h-1v3h-1h-1h-1v-4h-1v19h-1v-9h-1v-8h-1v2h-1v2h-1v1h-1v-2h-1v-2h-1v19h-1v-20h-1h-1v2h-1v-2h-1h-1v2h-1h-1h-1v1h-1v1h-1h-1v1h-1v-5h-1v-2h-1v-2h-1h-1v13h-1v-11h-1v3h-1v-4h-1v3h-1v6h-1v-2h-1v1h-1h-1v1h-1h-1v-2h-1v8h-1h-1v7h-1v3h-1v-13h-1v-2h-1v-4h-1v-1h-1v3h-1v1h-1v-3h-1v-3h-1h-1v-1h-1v2h-1v3h-1h-1v-2h-1v-1h-1v4h-1v-4h-1v-3h-1v5h-1v-1h-1h-1v2h-1v-2h-1v-5h-1v1h-1h-1v-2h-1h-1h-1v1h-1v-2h-1v3h-1h-1v-2h-1v1h-1v-2h-1v2h-1v22h-1v5h-1v-2h-1v-13h-1v-1h-1v-5h-1v2h-1v14h-1v-2h-1v-15h-1v-1h-1h-1v2h-1v3h-1v-4h-1v-4h-1v3h-1v1h-1v-1h-1h-1v1h-1v-3h-1v-2h-1v14h-1v-9h-1v4h-1v1h-1v-4h-1v1h-1v1h-1v1h-1v2h-1v1h-1v2h-1v-4h-1v-3h-1v2h-1h-1v-3h-1v1h-1v-2h-1h-1v5h-1v-4h-1v-1h-1v12h-1v1h-1v-12h-1v-4h-1v-1h-1v1h-1v2h-1v2h-1v-3h-1v16h-1h-1v-15h-1v13h-1v-5h-1v-2h-1v5h-1v2h-1v-9h-1v-2h-1v-3h-1v-4h-1v2h-1v-1h-1v-3h-1v4h-1v2h-1v4h-1v2h-1v-1h-1h-1v1h-1v2h-1v-2h-1v11h-1v-9h-1v20h-1v-16h-1v-4h-1v10h-1v-1h-1v-14h-1v-5h-1h-1v5h-1v2h-1v3h-1v2h-1v-3h-1v-4h-1v1h-1v8h-1h-1v5h-1v-2h-1v-10h-1v2h-1h-1v-2h-1v-2h-1v-1h-1v2h-1v1h-1v-2h-1v-1h-1v2h-1v2h-1v-3h-1h-1v1h-1v-2h-1v6h-1h-1v-8h-1h-1v-1h-1v3h-1h-1v4h-1v5h-1v-7h-1v8h-1h-1v-10h-1v2h-1v4h-1v7h-1v-1h-1v-8h-1v3h-1v-5h-1v-1h-1v3h-1v-3h-1h-1v-2h-1v13h-1v4h-1v-18h-1v-3h-1v5h-1v-4h-1v1h-1h-1v-2h-1v-2h-1v1h-1h-1v19h-1h-1v-18h-1v1h-1v-2h-1v11h-1v3h-1v-7h-1v-1h-1v-5h-1v-2h-1v4h-1v2h-1v3h-1v-1h-1v-2h-1v-1h-1v-1h-1v-1h-1h-1h-1v12h-1v-13h-1v1h-1v2h-1h-1v9h-1v-1h-1v13h-1v-6h-1v-11h-1v2h-1v-5h-1v-1h-1v19h-1v-13h-1v2h-1h-1v-3h-1v5h-1v-1h-1v2h-1v-9h-1v4h-1h-1v-1h-1v4h-1h-1v-6h-1v23h-1v-20h-1v-1h-1h-1v-1h-1h-1v13h-1v-11h-1v-2h-1v-5h-1v15h-1v-18h-1v4h-1v6h-1v-4h-1v-2h-1v-5h-1v-1h-1v4h-1v7h-1h-1v-4h-1v-1h-1v4h-1v2h-1v1h-1v-3h-1v1h-1v3h-1v-4h-1h-1v-2h-1v-1h-1h-1h-1h-1v-4h-1v-2h-1v2h-1v14h-1v-16h-1v5h-1v2h-1v4h-1h-1v13h-1v9h-1v-7h-1v-2h-1v-15h-1v-1h-1v-1h-1v-4h-1v-5h-1v2h-1v17h-1v-13h-1v-2h-1v-1h-1v1h-1v2h-1h-1v2h-1v-1h-1v-2h-1v6h-1v3h-1v-4h-1h-1v-2h-1h-1v4h-1v-6h-1v2h-1v3h-1v5h-1v-5h-1v-9h-1v-2h-1v5h-1v1h-1h-1v2h-1v-1h-1v-1h-1v-1h-1v2h-1v1h-1h-1v-5h-1v-2h-1v3h-1v4h-1v3h-1v4h-1v17h-1v2h-1v-21h-1h-1v6h-1v6h-1v-4h-1v-9h-1h-1v-1h-1v1h-1h-1v-2h-1h-1v-2h-1v-2h-1v-4h-1v4h-1v4h-1v-4h-1v1h-1v-1h-1v1h-1v-1h-1v-1h-1v19h-1v5h-1v-14h-1v-2h-1v-2h-1v3h-1v-2h-1v-2h-1v-5h-1v21h-1v1h-1v-20h-1v3h-1v3h-1v-2h-1v-2h-1v-3h-1v2h-1h-1v-1h-1v1h-1v3h-1v-1h-1h-1v13h-1h-1v-14h-1v-1h-1v-2h-1v-4h-1v1h-1v3h-1v6h-1v-1h-1v-2h-1h-1v2h-1v-3h-1v1h-1v3h-1v-3h-1v-3h-1v3h-1h-1v11h-1v12h-1v-13h-1v-5h-1v-9h-1v12h-1v-12h-1v9h-1v-7h-1v-1h-1v2h-1v1h-1h-1v-1h-1v4h-1v5h-1v-1h-1v-9h-1v-2h-1v4h-1v1h-1v-2h-1v-2h-1v2h-1v1h-1v1h-1h-1v-2h-1v5h-1h-1v-6h-1v1h-1v-3h-1v2h-1v3h-1v-1h-1v-4h-1v13h-1v1h-1v-11h-1v3h-1v-3h-1v-1h-1v-2h-1v-2h-1v3h-1v-1h-1v2h-1v16h-1v-19h-1v2h-1h-1v3h-1v2h-1v22h-1v-18h-1v-2h-1v3h-1v3h-1h-1v-1h-1v-3h-1v-2h-1v2h-1h-1v-5h-1h-1v-1h-1v-1h-1v-2h-1v-1h-1v-1h-1v3h-1v5h-1v3h-1v-3h-1v-4h-1v-1h-1v11h-1v-8h-1v2h-1v1h-1h-1v-1h-1z" fill="#0E01FF"/>
<path transform="scale(1,0.1)" d="M192 1910h1v-9h1v-7h1v17h1v-15h1v-1h1v14h1v-1h1v2h1v-2h1v-2h1v2h1v-1h1v-4h1v2h1h1v-3h1v1h1v-18h1v1h1v17h1v3h1v2h1h1v-16h1h1v11h1v3h1v2h1v-3h1v-1h1v-1h1v4h1v-3h1v1h1v1h1v-1h1v1h1v-1h1h1v-1h1v2h1v2h1v-3h1h1v-1h1v-17h1v20h1v4h1v-1h1v-5h1v3h1v2h1v-2h1v-1h1v7h1v-9h1v9h1v1h1v-13h1v4h1v-1h1v6h1h1v-3h1v1h1v-15h1h1v-1h1v-1h1v16h1v-10h1v11h1v1h1v-1h1v1h1v-1h1v-4h1v-3h1v5h1v3h1v-17h1h1v-2h1v-3h1v14h1v2h1v2h1v3h1v-8h1v-3h1v13h1v2h1v1h1v-2h1v-2h1v-15h1v5h1v-3h1h1v11h1v1h1v2h1v-5h1v-4h1v3h1v2h1v3h1v-10h1v1h1v6h1v2h1v3h1v2h1h1v1h1v-13h1v-2h1v9h1h1h1v-2h1h1v-1h1h1v1h1v-5h1v2h1v2h1v-1h1h1h1v1h1v-5h1v2h1v3h1v-14h1v11h1v-1h1v-13h1v2h1v9h1v2h1v9h1v-23h1v1h1v21h1h1v-4h1v-3h1v3h1v1h1v3h1v-3h1v-1h1h1v6h1v2h1v-5h1v2h1v2h1v-1h1v-5h1v-4h1v1h1v3h1v-1h1h1v4h1v2h1h1v-1h1v-2h1v-1h1v-2h1v-1h1v3h1h1v3h1v-19h1v-2h1v16h1v-1h1h1v1h1v-11h1v-11h1v22h1v1h1v-2h1v2h1v4h1v3h1v-2h1v-4h1v-4h1v-1h1v2h1v-1h1v-3h1v-2h1h1v-1h1v-6h1v5h1v5h1v-8h1v2h1v-3h1v-14h1v26h1v4h1v1h1v-5h1v-2h1v5h1v-1h1v1h1v-5h1v7h1v1h1v2h1v-2h1v-21h1v19h1v-11h1v-3h1v7h1v-6h1v8h1v-1h1v3h1h1v-2h1v-17h1v16h1v1h1v-20h1v-1h1v1h1v-4h1v24h1v5h1v1h1v4h1v-1h1v-3h1v3h1v-2h1v-2h1h1h1v-2h1h1v5h1v2h1h1v-3h1v2h1v-1h1v-5h1v-1h1h1v-2h1v6h1v3h1v-10h1v1h1v4h1v-1h1v-1h1v1h1v-2h1v-6h1v1h1v5h1v3h1h1v-4h1v-1h1v1h1v-2h1v3h1v-13h1v1h1v9h1v-1h1h1v4h1v-1h1v1h1v-1h1v2h1v2h1v1h1v-4h1v-9h1v4h1v8h1v1h1v-19h1v-7h1v16h1v4h1v1h1v1h1v1h1v-1h1v2h1v-2h1h1v4h1v-14h1v-4h1v11h1v1h1v-1h1v1h1v-1h1h1v5h1v-3h1v-2h1v1h1v1h1h1v-1h1v2h1v1h1v-25h1v3h1v1h1v19h1v-2h1v1h1v4h1v-1h1v1h1h1v1h1v3h1v-1h1v-1h1v1h1v-6h1v-3h1v5h1v1h1v1h1v-2h1v-5h1v3h1v4h1v-1h1v-1h1v-11h1v-1h1v13h1v-12h1v3h1v-5h1h1v1h1v12h1v-6h1v-3h1v14h1v-12h1v-5h1v9h1h1v2h1v4h1h1v-16h1v1h1v18h1v-2h1v-14h1v1h1v-4h1v24h1v-6h1v-3h1v3h1v-1h1h1v-1h1v-2h1v2h1v5h1v-1h1v-6h1v-1h1v-1h1h1v4h1v1h1v3h1v-14h1v-5h1v12h1v-1h1v1h1v-2h1v-1h1h1v-1h1v2h1v4h1v3h1v-1h1v-2h1v1h1v2h1v-6h1v-10h1v-4h1v20h1v2h1h1v-2h1h1v1h1v2h1v-1h1h1v-1h1v-2h1v3h1h1v1h1v1h1v-5h1v-15h1v4h1v18h1v5h1v-1h1v-3h1v-4h1v1h1v-5h1v-4h1v-2h1v-2h1v-1h1v3h1v1h1v-3h1h1v-9h1v10h1v3h1v-17h1v2h1v19h1v-2h1v1h1v-4h1v-1h1v2h1v2h1v-4h1v-2h1v3h1v2h1v-3h1v2h1v3h1v-1h1v3h1v-3h1v-3h1v-5h1h1v5h1v3h1v-5h1v3h1v8h1v-2h1v-2h1v1h1h1v-3h1v-4h1v-19h1v18h1h1v-17h1h1v14h1v-4h1v9h1v-11h1v8h1v-1h1v2h1v4h1v-9h1v-1h1v13h1h1v-14h1v3h1v13h1v2h1v-4h1v-5h1v1h1v-16h1v-2h1v6h1v-3h1v6h1v-1h1v9h1v1h1h1v2h1v-3h1v4h1v2h1v-7h1v6h1v-2h1v-2h1h1v-1h1v-10h1v-6h1v1h1v14h1v3h1v-2h1v-2h1v4h1v2h1v3h1v2h1v-22h1v-7h1v15h1v1h1v3h1v-2h1v-18h1v-3h1v22h1v-12h1v17h1v-4h1v-1h1v3h1v3h1v-1h1v-17h1v-1h1v14h1v4h1v-2h1v-2h1v7h1v3h1v-1h1v-1h1v-12h1v13h1v-4h1v-1h1v-2h1v-5h1v2h1v2h1v2h1v-2h1v-1h1v-1h1v1h1v6h1v-12h1v-15h1v26h1v4h1v2h1v-2h1v-1h1v-4h1v-3h1v-5h1v6h1v-4h1v3h1v4h1v-4h1h1v3h1v5h1v1h1v-2h1v-3h1v-1h1v-2h1v1h1v-1h1v-17h1v24h1h1v-7h1v-8h1v-4h1v6h1v7h1v-1h1v2h1h1h1v-3h1h1v1h1v4h1v-2h1h1v2h1v1h1v-2h1v3h1v2h1h1v2h1v-18h1v17h1v-5h1v-6h1v2h1v2h1v-3h1v-3h1v-2h1v-2h1v3h1v3h1v2h1v-1h1v1h1v4h1v4h1v2h1v-2h1v1h1v3h1v-3h1v-3h1v2h1v-2h1v-2h1v-2h1v3h1v-5h1v2h1v-26h1h1v27h1v2h1v3h1v2h1v-13h1v-4h1v10h1v-2h1v2h1v-2h1v-2h1v4h1v-2h1v-1h1v1h1v-18h1v15h1v2h1v-1h1h1v1h1v3h1v-1h1v1h1v-2h1v-1h1v2h1v-1h1v-8h1v-3h1v11h1v-1h1h1v-16h1v13h1v1h1h1v1h1v5h1v-4h1v-5h1v-1h1h1v1h1v4h1h1v-13h1v10h1v-1h1v6h1v6h1v-4h1h1v1h1v1h1v-13h1v-16h1v12h1v8h1v-3h1h1v1h1v-3h1v3h1h1h1v3h1v1h1v-2h1v4h1v2h1h1h1v-1h1v-3h1v-1h1v4h1v3h1v2h1v-14h1v-5h1v10h1v2h1v2h1h1v2h1v-16h1v12h1h1v3h1v4h1v-1h1v3h1v2h1v-7h1v-3h1v5h1h1v-17h1v-3h1v11h1h1v6h1v2h1v-4h1v-5h1v2h1v-1h1v-3h1v1h1v1h1v1h1v2h1v1h1v-1h1v1h1v5h1v4h1h1v-4h1v-1h1v-2h1v3h1v4h1v-2h1h1v-2h1v-3h1v-14h1v-6h1v1h1v-24h1v37h1v-1h1v-1h1v4h1v1h1h1v3h1v-2h1v-4h1v2h1v1h1v2h1h1v3h1v2h1v-3h1v1h1h1v-1h1v-19h1v19h1h1v-1h1v-2h1v-2h1v2h1v-1h1h1v-1h1h1v-4h1v3h1v9h1v-1h1v-3h1v6h1v-1h1v-9h1v-15h1v6h1v19h1v-16h1v-4h1v8h1v4h1v7h1v-4h1v2h1v-1h1v-1h1v1h1v4h1v-1h1v-3h1v3h1v3h1v-1h1v-14h1v11h1v-2h1v-2h1v5h1h1v1h1v-1h1v-5h1v-1h1h1v6h1v1h1h1v1h1v-15h1v-2h1v15h1h1v-15h1v-1h1v15h1v-2h1v2h1v4h1v-1h1v-6h1v-1h1v3h1h1v-1h1v-2h1v-2h1v-2h1v-1h1v5h1v1h1h1v-3h1v1h1v-13h1v16h1v1h1v-14h1v-7h1v19h1v-18h1v2h1v15h1h1v4h1v-1h1v2h1v-2h1v2h1v-11h1v-7h1v6h1v7h1v-3h1v-3h1v5h1v-12h1v17h1v-7h1v2h1v4h1v-18h1v17h1v-4h1h1v4h1h1v-1h1v6h1h1h1v-4h1v4h1v-17h1v15h1v-6h1v-1h1v-8h1v9h1v-1h1h1v-8h1v11h1v3h1v-1h1v-7h1h1v2h1v-1h1v-11h1v9h1v3h1v1h1v-16h1v15h1v-4h1v3h1v10h1v-4h1v2h1v-1h1v-6h1v-1h1v4h1v-3h1v-2h1h1v5h1v-2h1v-21h1v3h1v7h1v-3h1v10h1v2h1h1v-2h1v-1h1v3h1v-7h1h1v11h1v-3h1v1h1v3h1v3h1v-1h1v1h1h1v2h1h1v-9h1v-3h1h1v1h1v2h1v5h1v2h1v-3h1h1v-17h1v8h1v8h1v-1h1v-2h1v5h1v-11h1h1v8h1v1h1v5h1v1h1v-5h1v-4h1v-10h1v8h1v2h1v1h1v-1h1v-3h1v4h1h1v1h1v-3h1v3h1v2h1v-3h1v-6h1v11h1v-2h1h1v-1h1v-7h1v4h1v-8h1v-6h1v-9h1v21h1v-1h1v1h1v1h1v-1h1v-4h1v-10h1v12h1v5h1v-4h1v12h1v-6h1h1h1v-2h1v-1h1v-2h1v-1h1v-3h1v6h1v4h1v-16h1v17h1v-21h1v-1h1v18h1v2h1v-5h1v1h1v7h1v1h1v-4h1v1h1v1h1v2h1v-2h1v-2h1v4h1v1h1v-13h1v14h1v-6h1v-7h1v4h1v6h1h1v-1h1v-2h1v-3h1v-3h1v2h1h1v-3h1v-6h1v-1h1v8h1v4h1v-3h1v-3h1v4h1h1v-3h1v5h1v1h1v-3h1h1h1v-3h1v-12h1v9h1v6h1v-4h1v-9h1v5h1v7h1v-1h1v-2h1v-2h1v-31h1h1v29h1v-4h1v-1h1v5h1v2h1v4h1v4h1v-1h1v-1h1v-4h1h1v1h1v5h1v2h1v4h1v-37h1h1v32h1v-1h1v-3h1v-2h1h1v1h1v3h1v-1h1h1v-1h1v-24h1v-14h1h1v2h1v-13h1h1v21h1v1h1v-5h1h1h1v-2h1v5h1v4h1v-3h1v-3h1v-2h1v-1h1v-16h1v-35h1h1v54h1v9h1v18h1v4h1h1v3h1v2h1v-1h1h1v3h1v-1h1v-4h1v-5h1v1h1v2h1v-2h1v2h1v5h1v-4h1v-15h1v-21h1v-6h1v6h1v4h1v-35h1v28h1v2h1v-6h1v-7h1v30h1v23h1v3h1v4h1v-10h1v10h1h1v-2h1h1v-3h1v-1h1v1h1v3h1h1h1v-3h1v-9h1v11h1v1h1v2h1v4h1v-1h1v1h1v-1h1v58h-1v1h-1h-1v-3h-1v1h-1v2h-1v4h-1v12h-1v-2h-1v-10h-1v-2h-1v15h-1v-2h-1v-15h-1v2h-1h-1v1h-1v3h-1v-2h-1v-2h-1h-1v2h-1v3h-1v42h-1h-1v-9h-1v20h-1v-25h-1v2h-1v2h-1h-1v-5h-1v-9h-1v-13h-1v-5h-1h-1v-1h-1v6h-1v-4h-1h-1v3h-1v21h-1h-1v-4h-1v-22h-1v1h-1v1h-1v4h-1h-1v-4h-1v9h-1v10h-1v34h-1v1h-1h-1v5h-1v-18h-1v-8h-1v1h-1v2h-1v-4h-1v-1h-1v-3h-1v-7h-1v7h-1h-1v-8h-1v21h-1v1h-1v-16h-1v-2h-1v-2h-1v-2h-1v-5h-1v-9h-1v-7h-1v1h-1v3h-1v-4h-1h-1v4h-1v2h-1v-5h-1v-3h-1v4h-1h-1v19h-1v-3h-1v-12h-1v-1h-1v-1h-1v8h-1v-11h-1v-3h-1v1h-1v2h-1v7h-1v3h-1h-1v5h-1h-1v-2h-1v-2h-1v-2h-1v3h-1v-2h-1h-1h-1v-6h-1v-8h-1h-1v2h-1v1h-1v11h-1v-14h-1v11h-1v2h-1v-13h-1v1h-1v1h-1v7h-1v9h-1v-12h-1v2h-1h-1h-1v-4h-1v-1h-1v-2h-1v4h-1v2h-1v-1h-1h-1v-2h-1v-7h-1h-1v1h-1h-1v-4h-1h-1v-2h-1v1h-1v16h-1v3h-1v-11h-1h-1v2h-1v14h-1v-13h-1v-1h-1h-1v1h-1v-3h-1v-4h-1v1h-1v1h-1v2h-1h-1v-2h-1v2h-1v1h-1v2h-1v1h-1h-1v-7h-1v-1h-1v9h-1v4h-1v-18h-1v1h-1v21h-1v-1h-1v-16h-1h-1v5h-1v7h-1v-3h-1v-7h-1h-1v2h-1v3h-1v8h-1v2h-1v-4h-1v-1h-1v-2h-1v3h-1v-2h-1v-4h-1v-1h-1v3h-1v-2h-1v1h-1v10h-1v-13h-1h-1v-2h-1h-1v-2h-1v2h-1v-1h-1v-4h-1v3h-1v2h-1v-4h-1v-3h-1v4h-1v22h-1v1h-1v2h-1v1h-1v-22h-1v-2h-1v5h-1v1h-1v-10h-1v-2h-1v5h-1v2h-1v2h-1v4h-1v-3h-1v17h-1v-16h-1v3h-1v2h-1v-1h-1h-1v-4h-1v-2h-1v-1h-1v14h-1v3h-1v-16h-1h-1v1h-1h-1v-5h-1v2h-1v22h-1v-19h-1v3h-1v-9h-1h-1v5h-1v5h-1v-2h-1v4h-1v2h-1v-2h-1v17h-1v-10h-1v1h-1v-13h-1v2h-1v-3h-1v-4h-1v3h-1v3h-1v4h-1v3h-1v-5h-1v-5h-1v-4h-1v3h-1v5h-1v-3h-1v-4h-1v19h-1v1h-1v-18h-1v-4h-1h-1v-4h-1h-1v11h-1v10h-1v-1h-1v-12h-1v-3h-1v-2h-1v3h-1v3h-1v3h-1v1h-1v-3h-1v11h-1h-1v-15h-1h-1v-3h-1v3h-1v13h-1h-1v-7h-1v2h-1v-6h-1h-1v3h-1v3h-1v-2h-1v-2h-1v-2h-1v-2h-1v-3h-1v1h-1v1h-1h-1v19h-1v3h-1v-18h-1v-3h-1v-1h-1v-1h-1v-1h-1v2h-1v2h-1h-1v-1h-1v-1h-1v2h-1v4h-1v4h-1h-1v-3h-1v-4h-1v2h-1v2h-1v9h-1v-5h-1v-9h-1v1h-1v-1h-1v-4h-1v1h-1v2h-1v2h-1v-2h-1v3h-1v-3h-1v12h-1v-2h-1v-1h-1v1h-1v-11h-1v1h-1v3h-1v5h-1h-1h-1v4h-1v-2h-1v-2h-1v-4h-1v-3h-1v1h-1v2h-1v1h-1v-3h-1h-1v1h-1v15h-1v-15h-1v-1h-1v1h-1v-3h-1v-2h-1v-2h-1v2h-1v1h-1v-2h-1v1h-1v2h-1v-1h-1v-2h-1v3h-1v4h-1h-1v-2h-1v-2h-1v-3h-1v21h-1v4h-1v-17h-1v-2h-1v-2h-1v1h-1v-1h-1v-1h-1v5h-1v5h-1v-5h-1v-3h-1v1h-1v-2h-1v-1h-1v1h-1v2h-1v14h-1v-2h-1v-13h-1v-4h-1v-2h-1v3h-1v4h-1v1h-1v3h-1v15h-1v-22h-1v2h-1v2h-1v3h-1v-6h-1h-1v4h-1v-3h-1v-4h-1v1h-1v-4h-1h-1v1h-1v1h-1v-1h-1v3h-1h-1v5h-1v3h-1h-1v-1h-1v-1h-1v-1h-1v-3h-1v12h-1v6h-1v-16h-1v1h-1v2h-1v-2h-1v1h-1v-2h-1v3h-1v-1h-1v-2h-1v4h-1v1h-1v-3h-1v-3h-1v-3h-1v-3h-1v17h-1v4h-1v-14h-1v-4h-1v-3h-1v5h-1v-1h-1v-1h-1h-1v2h-1h-1v1h-1h-1v-1h-1v-3h-1v20h-1v-14h-1v1h-1v1h-1v-2h-1h-1v-3h-1v-1h-1v2h-1v1h-1v2h-1v-1h-1v-2h-1v-2h-1v4h-1v4h-1v2h-1v-2h-1v-3h-1v-2h-1h-1h-1v-2h-1v-2h-1v-2h-1v3h-1v5h-1v12h-1v-19h-1v1h-1h-1v13h-1v-1h-1v5h-1v-21h-1v-2h-1v21h-1v-14h-1v-1h-1v4h-1v14h-1v-6h-1v-10h-1h-1v-1h-1v-1h-1v-1h-1v-1h-1v1h-1v17h-1v-12h-1v-2h-1v19h-1v-9h-1v-11h-1v1h-1v1h-1v2h-1v-5h-1v1h-1v2h-1v-2h-1v17h-1v-21h-1h-1v3h-1v3h-1h-1v-1h-1v-3h-1v-2h-1h-1v4h-1v2h-1v2h-1v18h-1v19h-1v-17h-1v-18h-1h-1v-4h-1v-4h-1v1h-1v-1h-1v10h-1v-4h-1v17h-1v-22h-1v-2h-1v29h-1h-1v-19h-1v-5h-1v1h-1v3h-1v7h-1v-6h-1v-1h-1v-4h-1v-1h-1v10h-1v-2h-1v-12h-1v-1h-1v1h-1v-1h-1v1h-1v4h-1v3h-1v-2h-1v-2h-1h-1h-1v1h-1v1h-1h-1v4h-1v-3h-1v-1h-1v15h-1v-2h-1v-7h-1v-1h-1v-4h-1h-1v1h-1v-4h-1h-1v13h-1v1h-1v-10h-1v-5h-1v2h-1v6h-1v3h-1v-7h-1v3h-1v-5h-1v-4h-1h-1v1h-1v2h-1v2h-1v1h-1v-2h-1v-3h-1v5h-1v4h-1v-3h-1h-1v-1h-1h-1v2h-1v-1h-1v1h-1v-2h-1h-1v1h-1v-5h-1v-1h-1v1h-1v-2h-1v15h-1v-2h-1v-14h-1v-1h-1v1h-1v3h-1v5h-1h-1v3h-1v2h-1v-3h-1v2h-1v-1h-1v2h-1v-2h-1v-1h-1v4h-1v2h-1v-5h-1v-2h-1v-2h-1h-1v-1h-1v-2h-1v-1h-1v9h-1v3h-1v-11h-1v-1h-1v1h-1v-6h-1v3h-1h-1v-1h-1v1h-1v-1h-1h-1v2h-1v3h-1h-1h-1v-3h-1v-1h-1v-1h-1v2h-1v3h-1v19h-1v1h-1v-14h-1v19h-1v-22h-1v-2h-1v2h-1v2h-1v-4h-1v-1h-1v-3h-1v-2h-1v5h-1v1h-1v-6h-1v-3h-1v1h-1v1h-1v5h-1v4h-1h-1v-2h-1v-3h-1v-1h-1v2h-1h-1v6h-1v1h-1v7h-1v-2h-1v-6h-1v-1h-1v-3h-1v-8h-1v-1h-1v18h-1v-3h-1v-16h-1v1h-1v1h-1v-1h-1v-1h-1v14h-1v-3h-1v-1h-1v-6h-1v1h-1v17h-1v-3h-1v-5h-1v-3h-1h-1v4h-1v-2h-1h-1v2h-1v-4h-1v-4h-1v2h-1v3h-1h-1v-2h-1h-1v-2h-1v2h-1h-1v-4h-1h-1v2h-1v2h-1v12h-1v-15h-1v3h-1v3h-1v2h-1v2h-1v-4h-1h-1h-1v-5h-1v7h-1v-10h-1v-3h-1v-5h-1v3h-1v3h-1v-3h-1v4h-1v1h-1v-2h-1h-1v1h-1v20h-1v-16h-1v-2h-1v3h-1v1h-1v-3h-1v2h-1v1h-1v1h-1v1h-1v1h-1v7h-1v-4h-1v-6h-1v3h-1v-4h-1v-5h-1v-1h-1v4h-1v5h-1v-2h-1v-3h-1v-1h-1v-3h-1h-1v1h-1v3h-1v2h-1v-1h-1h-1v2h-1v1h-1v-3h-1v-2h-1v1h-1v1h-1h-1h-1v2h-1v2h-1v-5h-1h-1h-1h-1v4h-1v-3h-1v15h-1v-20h-1v14h-1v-10h-1v1h-1v3h-1v2h-1v-1h-1v5h-1v-6h-1v14h-1v-10h-1v-1h-1v-3h-1v-1h-1h-1v2h-1v-3h-1v-3h-1v1h-1v18h-1v2h-1v-17h-1v1h-1v1h-1v-3h-1v-2h-1v-1h-1v1h-1v1h-1v3h-1h-1v-1h-1h-1v-4h-1v-7h-1v3h-1v7h-1v2h-1v2h-1v-1h-1v-4h-1v2h-1v3h-1v-2h-1v5h-1v-5h-1v2h-1v-1h-1v-4h-1v3h-1v-3h-1v-4h-1v4h-1v4h-1v-3h-1v-1h-1v2h-1v2h-1v1h-1v-6h-1v-1h-1v20h-1v1h-1v-20h-1v18h-1v12h-1v-18h-1v-13h-1v-2h-1v4h-1v17h-1v2h-1v-16h-1v9h-1h-1v-10h-1v3h-1v1h-1v7h-1v-3h-1v-11h-1v5h-1v-8h-1v5h-1v6h-1v-8h-1h-1v-2h-1h-1v3h-1v-6h-1v3h-1v1h-1h-1v14h-1v1h-1v-11h-1v-3h-1v10h-1v-14h-1v5h-1v2h-1v-3h-1v-1h-1v4h-1v3h-1v3h-1v12h-1v-21h-1h-1v1h-1h-1v-3h-1v3h-1v-1h-1v9h-1v-4h-1v-2h-1v-2h-1h-1v1h-1v3h-1v2h-1v-1h-1v4h-1v-11h-1v-2h-1v3h-1h-1v-2h-1v-1h-1v23h-1v-18h-1v1h-1v-1h-1v1h-1v4h-1v-2h-1v11h-1v2h-1v-12h-1v-1h-1v-3h-1v-3h-1v-3h-1v1h-1v23h-1v-23h-1h-1v1h-1v3h-1v11h-1v-2h-1v-12h-1v1h-1v-2h-1v4h-1v-3h-1v-1h-1v14h-1v1h-1v-17h-1h-1v3h-1v4h-1h-1h-1v3h-1h-1v1h-1v16h-1v-5h-1v-14h-1h-1v-3h-1v-1h-1v2h-1v1h-1v4h-1v11h-1v-14h-1v6h-1v-8h-1v-5h-1v-1h-1v2h-1v14h-1v-14h-1v-2h-1v2h-1v13h-1v2h-1v-11h-1v1h-1v-1h-1v-2h-1v-4h-1v-1h-1v2h-1v1h-1v-1h-1v2h-1v2h-1v1h-1v3h-1v4h-1v2h-1v1h-1v-2h-1v4h-1v1h-1v-7h-1v-1h-1v2h-1v-4h-1v-4h-1h-1v-1h-1v-1h-1v1h-1v1h-1v1h-1v-1h-1v2h-1v1h-1v-1h-1v4h-1v-2h-1v7h-1v-3h-1v-8h-1v1h-1v8h-1v-2h-1v-1h-1v9h-1v3h-1v-18h-1v2h-1h-1v-1h-1v1h-1v1h-1v1h-1v2h-1v8h-1v-9h-1v-1h-1v1h-1v-1h-1h-1v5h-1v-1h-1v-4h-1v2h-1v-1h-1v-2h-1v-4h-1v2h-1v15h-1v-9h-1h-1v-6h-1v-4h-1v-1h-1v-1h-1v4h-1v1h-1v9h-1v1h-1v-5h-1v3h-1v-2h-1v-2h-1v3h-1v2h-1v12h-1v3h-1v-13h-1v-8h-1v-2h-1v-1h-1v12h-1v2h-1v-12h-1v1h-1v4h-1v18h-1v-3h-1v-15h-1v-2h-1v-1h-1v-1h-1v2h-1v2h-1v-2h-1v-6h-1v1h-1v7h-1v4h-1v-4h-1v-2h-1v-1h-1v-2h-1v1h-1v-3h-1v-2h-1v3h-1v18h-1v1h-1v-16h-1v2h-1v4h-1h-1v-7h-1v2h-1v-4h-1v-3h-1v2h-1v-1h-1v-1h-1v4h-1v2h-1v-4h-1v-3h-1h-1v3h-1v5h-1v1h-1v-4h-1v-1h-1v1h-1v4h-1v-1h-1v1h-1v-1h-1h-1h-1v2h-1v-1h-1v1h-1v-3h-1h-1h-1v1h-1v-1h-1v2h-1v2h-1v-3h-1v-1h-1v-1h-1v-1h-1v12h-1v-7h-1v-2h-1h-1v1h-1v-3h-1v14h-1v2h-1v-14h-1v18h-1v-16h-1v-10h-1v-4h-1v-2h-1v2h-1v5h-1v2h-1v-5h-1v11h-1v3h-1v-10h-1v-2h-1v4h-1v4h-1h-1v-5h-1v-3h-1v2h-1v12h-1v1h-1v-11h-1h-1v4h-1v17h-1v-18h-1v-5h-1h-1h-1v-1h-1v-2h-1v2h-1h-1v-2h-1h-1v4h-1v3h-1v6h-1h-1v-5h-1v13h-1v-3h-1v-18h-1h-1z" fill="#B2000F"/>
<path transform="scale(1,0.1)" d="M192 2176h1v-3h1v-5h1v1h1v-43h1v-8h1h1v-9h1v29h1v-32h1v-2h1v55h1v15h1v2h1v12h1v4h1v-4h1v-15h1v-3h1v-22h1v-4h1v28h1v3h1v12h1v12h1v-16h1h1v20h1v2h1v4h1v-1h1v-17h1h1v22h1v-3h1v3h1v2h1h1h1v-6h1v5h1v1h1v-3h1v-3h1v-22h1v23h1v-18h1v-2h1v-2h1v6h1v13h1v3h1v1h1v-30h1v-16h1v20h1v2h1v3h1v-12h1v14h1v-3h1v8h1v-12h1v3h1v4h1v22h1v5h1v2h1v-1h1v-3h1v2h1v5h1v-1h1v2h1h1v-1h1v1h1v6h1v-5h1v-5h1v1h1h1v-3h1v2h1v4h1v-3h1v-1h1v-2h1v-14h1v14h1v1h1v-1h1h1v1h1v2h1v-2h1v-2h1h1v3h1h1v-2h1v-2h1v-1h1v-1h1v3h1v7h1v-17h1v-3h1v14h1v2h1v-1h1v-1h1v1h1v1h1v-22h1v19h1v-17h1v25h1h1v-3h1v-1h1v-3h1v-12h1v-2h1v13h1v-13h1v9h1v-4h1v-2h1v4h1h1v-3h1v3h1v2h1v3h1v2h1v-1h1v2h1v2h1v-15h1v-1h1v16h1v3h1v-1h1v-4h1v-2h1v1h1h1v1h1v-4h1v-3h1v1h1v3h1v-12h1v-2h1v13h1h1v-10h1v-1h1v16h1v-6h1v-3h1v6h1h1v1h1v-3h1h1h1v4h1v-2h1h1h1v1h1v-2h1v-4h1v-1h1v3h1v3h1v-2h1v-1h1v-2h1v-4h1v-15h1v20h1h1v1h1v1h1v5h1v-1h1v-4h1v-1h1v-6h1v11h1v-2h1v-3h1v-1h1v4h1v-3h1v-17h1v26h1v2h1v-9h1v-2h1h1h1v-1h1v1h1v-1h1v-1h1v2h1v5h1v2h1v-3h1v-2h1v-6h1v-9h1v5h1v4h1h1v2h1v1h1v1h1v1h1v1h1v-1h1v-12h1v15h1v5h1v5h1v-4h1v-4h1v-5h1v-4h1v-4h1v3h1v8h1v-11h1v5h1v1h1v4h1v-2h1v1h1h1v1h1v2h1v5h1v-7h1v3h1v-21h1v19h1v2h1v-9h1v16h1v-3h1v-1h1v-2h1v-3h1v1h1v3h1v3h1v-1h1v-22h1v23h1v1h1v-2h1v-15h1v-1h1v14h1v-3h1v-5h1v1h1v-19h1v16h1v-2h1v3h1v5h1v-15h1v10h1v3h1v4h1v2h1v-9h1v-4h1v6h1v1h1v5h1v3h1v-1h1v-2h1h1v-1h1v-3h1v1h1v-4h1v-3h1v1h1v-3h1v-4h1v4h1v4h1v3h1h1v-1h1v5h1v-10h1v10h1v-1h1v-1h1v-4h1v4h1v4h1v-2h1v-2h1v-1h1v1h1v-2h1v-3h1v5h1v4h1v-1h1v-1h1v-2h1v1h1v1h1v-2h1v-1h1v6h1v-1h1v-5h1v-5h1v-18h1h1v21h1v3h1v-8h1v-6h1v12h1v4h1v-1h1h1v2h1v-2h1v-6h1h1h1v-9h1v-7h1v11h1v9h1v4h1h1v-1h1v2h1v-17h1v-5h1v20h1v6h1v-2h1v-1h1v2h1h1v-2h1h1v1h1v-17h1v18h1h1v2h1v-4h1v-1h1h1v-1h1v-3h1v-17h1v-1h1v18h1v3h1v-2h1v-3h1v-2h1h1v2h1v2h1v-3h1v-19h1v19h1v1h1h1v-3h1v3h1v3h1v-3h1v-1h1h1v-1h1h1v3h1v-2h1h1v3h1v2h1v1h1v-2h1v-3h1v1h1h1v2h1v1h1v1h1v-2h1h1v-1h1v-2h1h1v2h1v3h1v-2h1v-2h1v-4h1h1v-11h1v-1h1v16h1v-2h1v-5h1v2h1v5h1v3h1v-1h1v-3h1h1v-2h1v1h1v4h1v3h1v-13h1v9h1v-16h1v-1h1v18h1v-22h1v13h1v-1h1v7h1v-16h1v4h1v18h1h1v1h1v-1h1v-3h1h1v-16h1v15h1v-2h1v-4h1v1h1v1h1h1v2h1v1h1v-2h1h1v-13h1v18h1v2h1v-16h1v-3h1v14h1h1v-2h1v-3h1v-1h1v1h1h1v-4h1v8h1v3h1v-16h1v9h1v-2h1v5h1v1h1v-8h1v1h1v4h1v2h1v-9h1v6h1v3h1v3h1v1h1v-4h1h1v1h1v2h1v-6h1v-3h1v2h1v-4h1v-2h1v-3h1v-5h1h1v-2h1v-2h1v-14h1v19h1v4h1v1h1h1v-15h1v-13h1v-7h1v2h1v-6h1h1v4h1v-2h1v-1h1v-2h1v-11h1v-77h1h1v73h1h1v-2h1h1v6h1v4h1v-3h1v-15h1v5h1v-34h1v14h1v46h1v-16h1v-1h1v-5h1v-1h1v25h1v-2h1v-4h1v-21h1v-22h1h1v47h1v1h1v6h1v-42h1h1v36h1v-15h1h1v16h1v-29h1h1v26h1v8h1v-1h1v-2h1v5h1v-2h1v-3h1v-3h1v-39h1v38h1v-24h1v-7h1v3h1h1v22h1v-21h1v20h1h1v-1h1v1h1v-5h1v-7h1v18h1v-16h1v-3h1v-8h1v30h1v-6h1v-10h1v4h1v-3h1v8h1v-35h1v30h1v-21h1h1v4h1v-2h1v-9h1v29h1v-5h1v-11h1h1v26h1v-21h1v26h1v-4h1v-13h1v-14h1v18h1v14h1v-31h1h1v26h1v-26h1h1v37h1v-17h1v4h1v1h1v-15h1v6h1v22h1v-3h1v-29h1v19h1v1h1v4h1v-21h1v20h1v-24h1v-7h1v21h1v5h1v-1h1v1h1v-16h1v19h1v6h1v-2h1v-26h1v11h1v21h1v3h1v-15h1v-170h1v-89h1v9h1v105h1v-28h1v76h1v107h1v-73h1h1v75h1v-1h1v5h1v-29h1v29h1v18h1h1v4h1v-12h1v4h1v13h1v-6h1v-2h1v-1h1v4h1v9h1v2h1v-2h1v-15h1h1v19h1v-14h1v9h1v-4h1h1v7h1v-10h1v10h1v-1h1v4h1v-1h1v-4h1h1v5h1v-17h1v-3h1v13h1v-1h1v3h1v3h1v2h1v1h1v-2h1v-4h1v-4h1v-3h1v7h1v-15h1v11h1v-1h1v1h1v3h1v-2h1v-1h1v5h1h1v-5h1v1h1v4h1v-3h1h1v1h1v-9h1v-1h1v9h1v3h1v-1h1v-7h1v8h1v-3h1h1v2h1v-16h1v9h1v2h1h1v-2h1v-1h1v1h1v8h1v-8h1v-21h1v26h1v-5h1v5h1v1h1v2h1v-1h1v-10h1v3h1v9h1v-2h1v-1h1v4h1v-14h1v11h1v-3h1h1v-1h1h1v1h1h1v1h1v2h1v2h1v-1h1v1h1v-1h1v-1h1v-6h1v-7h1h1v12h1v4h1v-4h1v-1h1v1h1v1h1v1h1v-3h1v-4h1v-3h1v5h1v3h1v-14h1v13h1v-3h1h1v5h1h1v-2h1v-5h1v2h1v7h1v-3h1v-3h1v-1h1v1h1v7h1v3h1h1v-2h1v-5h1v1h1v1h1v-3h1v1h1v3h1v1h1v2h1h1v-1h1v-3h1v-1h1v-14h1v12h1v-1h1h1v-2h1v-14h1v16h1v1h1v-1h1v-1h1v1h1v-3h1v1h1v4h1v-10h1v-1h1v9h1v-3h1v1h1v1h1v-4h1h1v8h1v-1h1v3h1v-2h1h1v-11h1v10h1v-7h1v5h1v6h1v-17h1v11h1v-1h1v1h1v-1h1v-3h1v-16h1v2h1v16h1v6h1v-16h1v19h1h1v-4h1v-1h1v2h1h1h1v-3h1v-3h1v-1h1v5h1v2h1v-8h1v5h1v2h1v-1h1v2h1v-2h1v-3h1v-1h1v3h1v-1h1h1v-2h1v-5h1v6h1v5h1h1v5h1v-18h1v-5h1v16h1v-3h1v-4h1v3h1v7h1v1h1v-4h1v-4h1v-6h1v5h1v2h1h1v-2h1v5h1v1h1v-12h1v1h1v8h1v2h1v-14h1v16h1v-19h1v22h1v-2h1v-5h1v-5h1v4h1v8h1v-2h1v-2h1h1v3h1v1h1v-9h1v-1h1v8h1v-6h1v2h1v1h1v-4h1h1v-1h1v-3h1v-1h1v3h1v2h1v2h1v-7h1v-9h1v9h1v6h1v2h1h1v-2h1v3h1v1h1v-1h1h1v-1h1v-12h1h1v-7h1v11h1v4h1v-2h1v7h1v-1h1v-5h1v1h1v5h1v-2h1v3h1v4h1h1v-2h1v-4h1v-8h1v-1h1v11h1v3h1v2h1v-20h1v-15h1h1v34h1v1h1h1v1h1v-4h1v-19h1v20h1h1v3h1v-6h1v4h1v-17h1v-4h1v15h1v-1h1v-2h1h1v6h1v-3h1v-1h1h1v4h1h1h1v-1h1v2h1v-1h1h1v-20h1v17h1v1h1v-8h1v1h1v8h1v6h1h1v-12h1v2h1v12h1h1h1v1h1v-1h1v-5h1v1h1v-2h1v-2h1v2h1h1v-5h1v-16h1v-11h1v13h1v12h1v1h1v-4h1v2h1v3h1v1h1v1h1v-1h1v-2h1h1v1h1v1h1v-5h1v3h1v-1h1v-4h1v-17h1v6h1v19h1h1v-2h1v-11h1v3h1v13h1v-19h1v-1h1v8h1v1h1v-4h1v-2h1v14h1v-1h1v-1h1h1v1h1v-2h1h1v3h1v-1h1v-6h1v2h1v-4h1v8h1v7h1v-1h1v-2h1h1v-2h1v-5h1v-1h1v-10h1v1h1v10h1h1v1h1v6h1v2h1v1h1v-3h1v-2h1v4h1v2h1v2h1v-2h1v-1h1h1v-6h1v-11h1v7h1v-3h1v4h1v-18h1v-4h1v17h1v3h1v-1h1v3h1v2h1v-3h1v-4h1v10h1v7h1v-3h1v-2h1v3h1h1v-4h1v2h1v-1h1v-3h1v-1h1v-3h1v4h1v6h1v2h1h1v-4h1v-15h1v-6h1v9h1v4h1v-2h1v7h1v-2h1v-3h1v2h1v-3h1h1h1v1h1v-2h1v3h1v5h1h1v-2h1v2h1v3h1v-18h1v-2h1v3h1v17h1v-5h1v-3h1v4h1v1h1v-3h1h1v2h1h1h1v3h1v-1h1v-12h1v12h1h1v-8h1v-2h1v10h1v3h1v-4h1v-4h1v2h1v4h1v-2h1v-5h1h1v5h1v1h1v3h1v1h1v-2h1h1v4h1h1v-2h1v-2h1v3h1h1v-5h1h1h1v-1h1v2h1v-3h1v-1h1v-1h1v6h1v-9h1v3h1v-1h1v1h1v-15h1v-9h1v18h1v9h1v-2h1v-2h1v1h1v1h1h1v-11h1v13h1v2h1v2h1v2h1v2h1v-1h1v-6h1v-2h1v4h1v-3h1v-2h1v5h1v-2h1v-4h1v2h1h1v-4h1h1v1h1v76h-1v1h-1v1h-1v4h-1h-1h-1v-4h-1v-3h-1v16h-1v-17h-1v-1h-1v-1h-1v4h-1v1h-1v-2h-1v4h-1v-2h-1v-3h-1v1h-1v3h-1v1h-1v1h-1v2h-1v2h-1h-1v-3h-1h-1v-2h-1v3h-1v2h-1v-2h-1v-3h-1v-2h-1v-1h-1h-1h-1v-4h-1h-1v16h-1v8h-1v-12h-1v-2h-1h-1v-6h-1v-3h-1v7h-1v-1h-1v-8h-1v1h-1v-2h-1v4h-1v1h-1v-3h-1h-1v3h-1v2h-1v4h-1v1h-1v-2h-1v-6h-1v19h-1v12h-1v-17h-1v-9h-1v1h-1v1h-1v1h-1v-3h-1v-1h-1h-1h-1v21h-1v-1h-1v-19h-1v-6h-1v-2h-1h-1h-1v-2h-1h-1v3h-1v5h-1v8h-1v-16h-1v7h-1v5h-1h-1v3h-1v-4h-1v1h-1v19h-1v-23h-1v-1h-1h-1v-2h-1v1h-1v17h-1v1h-1v-16h-1v3h-1v-2h-1v-1h-1v1h-1v-1h-1h-1v-1h-1v-4h-1h-1v4h-1v-1h-1v1h-1v19h-1v-26h-1v-1h-1v12h-1v-4h-1v-4h-1v17h-1v-7h-1v1h-1v-10h-1v4h-1v-2h-1v1h-1v1h-1h-1v-2h-1v3h-1v1h-1h-1h-1v2h-1v-3h-1v-1h-1h-1v-1h-1v-2h-1v-2h-1v-2h-1v1h-1v16h-1v-17h-1v1h-1v1h-1v7h-1v2h-1v-8h-1v-5h-1v1h-1v5h-1v-1h-1h-1v3h-1v-1h-1v-2h-1v1h-1v3h-1v-4h-1v14h-1v4h-1v-12h-1v-3h-1v17h-1h-1v-22h-1v5h-1v-1h-1v-2h-1v15h-1v-15h-1v3h-1v-4h-1h-1v16h-1v-19h-1v4h-1v2h-1v-1h-1v-1h-1h-1v4h-1v-1h-1h-1v6h-1v-5h-1v-3h-1v-1h-1v-1h-1v4h-1v-3h-1v-5h-1v3h-1v1h-1v-1h-1v-2h-1v6h-1h-1v1h-1h-1h-1v2h-1v19h-1v-14h-1v7h-1v-9h-1v-8h-1v2h-1v6h-1v-3h-1v-2h-1v-2h-1v1h-1v1h-1h-1v-1h-1v-1h-1v4h-1v4h-1v-3h-1v-4h-1v1h-1v2h-1v3h-1v-5h-1v-6h-1v2h-1v11h-1v-9h-1v-2h-1v2h-1v2h-1v-2h-1v6h-1v4h-1v-2h-1v1h-1v-2h-1h-1v-2h-1v-5h-1v4h-1v2h-1v1h-1v-6h-1h-1v-1h-1v-1h-1v-3h-1v18h-1v4h-1v-17h-1v-2h-1v-1h-1v33h-1h-1v-28h-1h-1v-1h-1v-3h-1v-3h-1v1h-1v2h-1v-2h-1v2h-1v9h-1v1h-1v-1h-1h-1v-7h-1v-6h-1v1h-1v7h-1v4h-1v-1h-1v9h-1v-8h-1v-4h-1v8h-1v-10h-1v19h-1v21h-1v-18h-1v-22h-1v-6h-1v1h-1v-1h-1v1h-1v5h-1v2h-1v1h-1v-2h-1v3h-1v3h-1v-3h-1h-1v-1h-1v-9h-1h-1v6h-1v-1h-1v-4h-1h-1v-2h-1v-1h-1v2h-1v3h-1v2h-1h-1v3h-1h-1v2h-1v-1h-1v2h-1v18h-1v-17h-1v-4h-1v-5h-1h-1v1h-1v1h-1v3h-1v4h-1v1h-1v-3h-1v-3h-1v4h-1v-1h-1v12h-1v-17h-1v-1h-1v11h-1v4h-1v-5h-1v-3h-1v-7h-1v-2h-1v1h-1v1h-1v2h-1v3h-1v6h-1v-4h-1v-4h-1v3h-1v4h-1v17h-1v-3h-1v-21h-1v-4h-1v-1h-1v21h-1v-19h-1h-1v-3h-1v-1h-1v-2h-1v3h-1v1h-1v-3h-1v-3h-1v17h-1v-10h-1v15h-1v-20h-1v-1h-1v1h-1h-1v3h-1v5h-1v2h-1v-2h-1h-1v-1h-1v-2h-1v2h-1v3h-1v1h-1v1h-1v1h-1v-1h-1v14h-1v-17h-1h-1h-1v4h-1v-4h-1v-3h-1v2h-1h-1v-4h-1h-1v1h-1v4h-1v3h-1h-1h-1v2h-1v3h-1v14h-1v3h-1v-21h-1v-7h-1v-3h-1h-1v18h-1v1h-1v-9h-1v-1h-1v-3h-1v-4h-1v-1h-1h-1v4h-1v6h-1v1h-1v-3h-1v16h-1v3h-1v-13h-1v-5h-1v-4h-1v-4h-1v4h-1v2h-1v7h-1v2h-1v-12h-1v8h-1v2h-1v-6h-1v21h-1v-20h-1v4h-1v15h-1v-21h-1v-3h-1v2h-1v-5h-1v1h-1v-2h-1v2h-1v1h-1v14h-1v-10h-1v3h-1v-6h-1v6h-1v-2h-1v-3h-1v-1h-1h-1v1h-1v3h-1v-10h-1v1h-1h-1v3h-1v2h-1v5h-1v4h-1v3h-1v-2h-1v-2h-1v-2h-1v-1h-1v7h-1v-3h-1v-13h-1v3h-1v14h-1v-12h-1v-1h-1v-2h-1h-1v1h-1v-5h-1v14h-1v3h-1v-14h-1h-1v3h-1v-1h-1v-5h-1h-1v2h-1h-1v-2h-1h-1h-1v3h-1v-1h-1v-3h-1v13h-1v4h-1v-13h-1v-1h-1v3h-1v18h-1v-4h-1v-18h-1v3h-1v3h-1v4h-1v1h-1v16h-1v-22h-1v1h-1v19h-1v-1h-1v-16h-1v2h-1v1h-1v-3h-1v-3h-1v3h-1v1h-1v-2h-1v13h-1v-13h-1v-1h-1v1h-1v-2h-1v-2h-1v1h-1v2h-1v1h-1v-2h-1v-1h-1v2h-1v3h-1v-3h-1v-3h-1v-1h-1v3h-1v17h-1v-3h-1v-23h-1v1h-1v5h-1v17h-1v19h-1v-14h-1v-17h-1v10h-1v-2h-1v-9h-1v1h-1v-2h-1v3h-1v7h-1v6h-1h-1v-7h-1v-3h-1v6h-1v23h-1v-13h-1v-5h-1v8h-1v-10h-1v1h-1v25h-1v-19h-1v-2h-1v4h-1v56h-1h-1v-43h-1v64h-1v59h-1v-28h-1v78h-1v7h-1v-67h-1v-105h-1v5h-1v-2h-1v-5h-1v1h-1v-2h-1v-3h-1v-1h-1v1h-1v-2h-1v4h-1v-3h-1v-2h-1v4h-1v5h-1v-5h-1v26h-1v-10h-1v12h-1v-10h-1v-14h-1v1h-1v1h-1v-3h-1v1h-1v-4h-1h-1v6h-1v-16h-1h-1h-1v6h-1v1h-1v-1h-1v8h-1v-2h-1v26h-1h-1v-34h-1v5h-1v20h-1v-2h-1v5h-1v15h-1h-1v-6h-1v23h-1h-1v-34h-1v6h-1v-6h-1v7h-1v-10h-1v-8h-1v-1h-1v-3h-1v1h-1v8h-1v14h-1v1h-1v-16h-1v2h-1v-20h-1v-2h-1v3h-1v2h-1h-1v-1h-1h-1v1h-1v1h-1v39h-1h-1v-35h-1v5h-1v-3h-1v-4h-1h-1v1h-1v2h-1v9h-1v-6h-1v-6h-1v1h-1v-1h-1v15h-1h-1v-14h-1v6h-1v-2h-1v-7h-1v-4h-1v2h-1v4h-1v5h-1v17h-1v18h-1h-1v-8h-1v-23h-1v-3h-1v-2h-1h-1v28h-1v-1h-1v-22h-1v-1h-1v56h-1v14h-1v-36h-1v-24h-1v-1h-1v23h-1v-27h-1v2h-1v4h-1h-1v35h-1v99h-1h-1v-99h-1v-64h-1v49h-1h-1v-20h-1v-22h-1v4h-1v-3h-1v-4h-1v-4h-1v-12h-1v-10h-1v29h-1h-1v-35h-1v1h-1h-1h-1v-3h-1v-1h-1v1h-1h-1v21h-1v2h-1v-15h-1v21h-1v-20h-1v-15h-1v1h-1v-2h-1v2h-1v1h-1v1h-1v2h-1v7h-1v2h-1v-5h-1h-1v2h-1v-1h-1v6h-1v-13h-1v3h-1h-1v12h-1v-13h-1v-4h-1v-1h-1v15h-1v-7h-1v-3h-1v16h-1v3h-1v-6h-1v-13h-1v1h-1v2h-1v-5h-1v1h-1v2h-1v2h-1v15h-1v-19h-1v1h-1v-3h-1h-1v1h-1v-1h-1v-1h-1v-4h-1v4h-1v6h-1h-1v-2h-1v4h-1v4h-1v-1h-1v-1h-1v-7h-1h-1v1h-1h-1v1h-1v2h-1v-3h-1v-4h-1v17h-1v-10h-1v1h-1h-1h-1v-5h-1v3h-1v1h-1h-1v-2h-1h-1v4h-1v-4h-1v-3h-1v-2h-1v10h-1v3h-1v-9h-1v-3h-1v2h-1h-1v-3h-1v11h-1v5h-1v-9h-1v-4h-1v8h-1v-7h-1v10h-1v2h-1v-14h-1v-3h-1v15h-1v-12h-1v3h-1v3h-1v-5h-1v-2h-1v4h-1v3h-1v-3h-1h-1v-1h-1v-3h-1v1h-1v6h-1v1h-1v6h-1h-1v-8h-1v1h-1v-2h-1h-1v3h-1v2h-1v-2h-1v3h-1v3h-1v8h-1v-4h-1v-18h-1v2h-1v-1h-1h-1h-1v-3h-1v-2h-1h-1v5h-1v17h-1v-3h-1v-17h-1v2h-1v-2h-1v1h-1v12h-1v-12h-1v2h-1h-1v13h-1v-12h-1v-4h-1v1h-1v2h-1v-1h-1v-2h-1h-1v2h-1v3h-1v4h-1v-2h-1v-2h-1v-1h-1v9h-1v-6h-1v6h-1v-9h-1v-1h-1v1h-1v-3h-1v1h-1v4h-1v1h-1v-2h-1v-3h-1v-1h-1v6h-1v8h-1v1h-1v-5h-1v-3h-1h-1h-1v10h-1v-8h-1v-1h-1v-3h-1v19h-1v1h-1v-18h-1v2h-1v1h-1v-3h-1v-4h-1v-5h-1v5h-1v-1h-1v-1h-1v1h-1v4h-1h-1v17h-1v2h-1v19h-1v-13h-1v-19h-1v13h-1v-17h-1v-1h-1v14h-1h-1v-20h-1v-3h-1v-1h-1v1h-1v1h-1v-3h-1v2h-1v23h-1v4h-1v-19h-1v-4h-1v-1h-1v6h-1v22h-1v-23h-1v-4h-1v12h-1v-12h-1v3h-1v13h-1v-12h-1v-1h-1h-1v2h-1v1h-1v-6h-1v1h-1v-4h-1v1h-1v1h-1h-1v-2h-1v1h-1v3h-1v3h-1v-1h-1v6h-1v-7h-1v3h-1v5h-1v-2h-1v-7h-1v-3h-1v-1h-1v-2h-1v2h-1v5h-1h-1v-1h-1v7h-1v12h-1v-10h-1v-2h-1v-5h-1v-2h-1v6h-1v4h-1v-2h-1v-3h-1v3h-1v-1h-1v-10h-1h-1h-1v1h-1v6h-1v2h-1v-6h-1v-7h-1v1h-1v32h-1v-12h-1v-12h-1v4h-1v1h-1v2h-1v1h-1v-4h-1v-2h-1h-1v7h-1v-2h-1v-14h-1v2h-1v4h-1v-1h-1h-1h-1v1h-1v2h-1v-2h-1v1h-1v-1h-1v2h-1v2h-1v-3h-1v-2h-1v-1h-1v-1h-1v3h-1v-2h-1v-4h-1v3h-1v-1h-1v3h-1v5h-1v1h-1v-4h-1v-2h-1v3h-1v1h-1v1h-1v16h-1v-17h-1v-1h-1h-1h-1v-3h-1v-3h-1h-1v-2h-1v3h-1h-1v2h-1v1h-1v3h-1v6h-1v16h-1v1h-1v-20h-1v-7h-1v-2h-1h-1v-1h-1v3h-1v4h-1v2h-1v2h-1v-2h-1h-1v4h-1v3h-1v14h-1v-6h-1v-1h-1v-11h-1v-2h-1v-1h-1v-2h-1v5h-1v-4h-1v-6h-1v3h-1v-1h-1v-4h-1v2h-1h-1v3h-1v1h-1v-1h-1v2h-1v2h-1v-3h-1v-4h-1v3h-1v1h-1v6h-1h-1v-3h-1v2h-1v14h-1h-1v-18h-1v3h-1v1h-1v-3h-1v-3h-1v1h-1h-1v5h-1v-3h-1v-7h-1v-2h-1v-6h-1v2h-1v2h-1h-1v8h-1v3h-1v14h-1v-12h-1v-2h-1v24h-1v-9h-1v-22h-1v-5h-1v-1h-1v1h-1v4h-1v-1h-1v-1h-1v2h-1v1h-1v38h-1v-15h-1v-6h-1v-13h-1v-2h-1v-3h-1v1h-1v-1h-1v3h-1h-1v1h-1h-1v-1h-1v3h-1v10h-1v-12h-1h-1v6h-1h-1v2h-1v-2h-1v-3h-1v-2h-1v23h-1v-17h-1v-1h-1v4h-1v-3h-1h-1v10h-1v8h-1v4h-1v30h-1v29h-1v-47h-1v-4h-1v-13h-1v-1h-1v-6h-1v-5h-1v-2h-1v-2h-1v-1h-1v-2h-1v5h-1h-1v-2h-1h-1v1h-1v2h-1v14h-1v-2h-1v-15h-1v2h-1v17h-1v5h-1v-19h-1v-5h-1v-1h-1v27h-1h-1v-23h-1h-1v-4h-1v9h-1v72h-1h-1v-44h-1v35h-1v-11h-1v-23h-1v-1h-1v-3h-1v1h-1v-4h-1v-8h-1v4h-1v-6h-1v-3h-1v49h-1v12h-1v19h-1h-1v-26h-1v-3h-1v14h-1h-1v13h-1v-47h-1v-4h-1v-3h-1v-8h-1z" fill="#004C12"/>
<path transform="scale(1,0.1)" d="M192 2506h1v18h1v-2h1v9h1v-3h1v-10h1v3h1v5h1v-4h1v-3h1v4h1v2h1v5h1v-17h1v19h1v-21h1h1v18h1v-3h1v-9h1v4h1v12h1v-10h1v8h1v2h1v-1h1v-1h1v2h1v-1h1v-4h1v-2h1v2h1v-7h1v-1h1v6h1h1v-4h1v4h1v4h1v2h1v1h1v1h1v-1h1v-5h1v-1h1v-8h1v1h1v9h1v1h1v-1h1v-2h1v1h1h1v-2h1v-2h1v3h1v2h1h1v-12h1v17h1v-16h1v16h1v-1h1v-2h1v1h1v-1h1v-3h1v-9h1v5h1v7h1v1h1v1h1h1v2h1h1v-2h1v-2h1v-6h1v-3h1v8h1h1v1h1v-2h1v-6h1h1v3h1v3h1v4h1v1h1v-1h1v3h1v-12h1v1h1v3h1v4h1v-4h1h1v4h1v1h1v-5h1v3h1v3h1v-10h1v-2h1v5h1h1v-1h1v-14h1v3h1v17h1v-2h1v3h1h1v-23h1v16h1h1v1h1v2h1v5h1v-15h1v14h1v-1h1v2h1h1v-1h1v-3h1h1v2h1v1h1v-19h1v-16h1v17h1v15h1v-2h1v-3h1v3h1v1h1v-6h1v-13h1h1v8h1v8h1v1h1v-1h1h1v-3h1v-5h1v5h1v5h1v-3h1v-1h1v3h1v3h1v1h1v-9h1v4h1v10h1h1v-2h1v-2h1v-7h1v10h1v-1h1v1h1v-2h1v-12h1v2h1v12h1v1h1v-1h1v-3h1v-16h1v-5h1v19h1v4h1v2h1v-4h1v-5h1v-3h1v-2h1v3h1v3h1v-18h1v-2h1v19h1h1v-2h1v2h1v2h1v-1h1v-2h1v-3h1v1h1v1h1v-4h1v6h1h1v-1h1v-3h1v-4h1h1v3h1v-1h1v-17h1v2h1v16h1v-11h1v7h1v17h1v-4h1v-2h1v1h1v2h1v-3h1v1h1v-1h1v5h1v3h1v1h1v-3h1v-4h1v2h1v-1h1v-2h1v-8h1v2h1v-1h1v2h1v-2h1v1h1v-2h1v1h1v-14h1v-2h1v16h1v1h1v-1h1v4h1v5h1v3h1v-2h1v-1h1v-5h1v3h1v-6h1v-13h1v-2h1v-4h1h1v15h1v2h1v6h1v1h1h1v2h1v-1h1v-5h1v6h1v-1h1v-4h1v-1h1v1h1v-3h1v2h1v1h1h1v1h1v1h1v-4h1v2h1v2h1h1v-4h1v2h1v5h1v-2h1v4h1v-2h1h1v1h1v-1h1v-5h1v2h1v1h1v-2h1v-4h1v-20h1v3h1v15h1v1h1v2h1v3h1v-1h1v-2h1v1h1v2h1v-16h1v17h1h1v-1h1v-3h1v1h1v1h1v3h1h1v1h1h1v-3h1v3h1v3h1v-8h1v-2h1v-6h1v11h1v-10h1v7h1v1h1h1h1h1v-5h1v3h1v8h1v-1h1v-1h1v-1h1v-2h1v-21h1v16h1v3h1v5h1v-3h1v-3h1v-4h1v3h1v6h1v-2h1v-1h1v-12h1v1h1v-2h1v3h1v12h1v-11h1v1h1v13h1v-3h1v3h1v-3h1v2h1v1h1v-2h1h1v-2h1v1h1h1v1h1v-3h1h1v-14h1v-1h1v17h1h1v2h1v-2h1v-5h1v-21h1v13h1h1v4h1v-1h1h1v3h1v6h1v2h1v-1h1v-1h1h1v-1h1v1h1v-2h1v3h1v-5h1v2h1v8h1h1v-2h1v2h1v-2h1v-1h1v-1h1v4h1v-4h1v-3h1v-17h1v-13h1v19h1v17h1v2h1v-2h1v-2h1v-8h1v9h1h1v-1h1v-1h1v3h1v4h1v-3h1v-2h1v5h1v-8h1v5h1h1h1v-3h1v-1h1v5h1v-4h1v-7h1v-7h1v-1h1v-1h1v2h1v-2h1v-1h1v-8h1v3h1v2h1v4h1v5h1v2h1v-4h1v-4h1v1h1v5h1v2h1h1v-3h1v1h1v-18h1v-2h1v14h1v2h1v2h1v-20h1v-2h1v10h1v-9h1v20h1v7h1v-1h1v1h1v4h1v3h1v3h1h1v-6h1v3h1v4h1h1v-1h1v4h1v-2h1v-4h1v-4h1v2h1v-2h1v3h1h1v-1h1h1v1h1v-8h1v-3h1v12h1v-7h1v-4h1v3h1v-2h1v5h1v-1h1h1v4h1h1v-3h1v4h1v-1h1v2h1v-10h1v11h1v4h1v1h1v-1h1v1h1v-3h1v-4h1v4h1h1v-5h1v1h1v-2h1v2h1v1h1h1v-2h1v1h1v1h1h1v-3h1h1v3h1v-1h1v1h1v2h1v-1h1v-4h1v2h1v3h1v-3h1v1h1v-7h1v1h1v8h1v1h1v-4h1v-1h1v-3h1v-4h1v-5h1v4h1v4h1h1v4h1v2h1v2h1h1v1h1h1v-2h1v1h1v-1h1v-1h1v1h1v-2h1h1v3h1v-1h1v2h1v2h1v-6h1v1h1v-1h1v-4h1h1v-3h1v-3h1v-1h1h1v1h1v2h1v6h1v-2h1v-3h1v2h1v2h1h1v-1h1h1v1h1v-5h1v2h1v-1h1v-2h1v4h1v-1h1v1h1v3h1v-3h1v4h1v3h1v-2h1v-2h1h1v-2h1v-6h1v1h1v12h1v-3h1v-3h1h1v-3h1v6h1v1h1v2h1h1v-1h1v-20h1v14h1h1h1v-1h1v-1h1v4h1v6h1v2h1v-3h1v-5h1v1h1v2h1v-18h1v3h1v14h1v-3h1v2h1v-19h1v3h1v21h1v-2h1v-1h1v-4h1v3h1v3h1v2h1v-3h1v-4h1v4h1v-1h1v-2h1h1v2h1v-20h1v15h1v7h1v3h1v-6h1v-2h1h1h1h1v2h1v-11h1v13h1v-5h1v-1h1v2h1v-2h1v2h1v1h1v2h1h1v-4h1v7h1h1h1v-3h1v-2h1v-5h1v-1h1v-1h1v2h1v-1h1h1v-20h1v-1h1v23h1v1h1v-16h1v-5h1v-8h1v17h1v12h1v-2h1v5h1v-11h1v-2h1v-5h1v4h1v17h1v1h1v2h1v-2h1v-3h1h1v-2h1v-1h1v-1h1v1h1v-2h1v-4h1v2h1v2h1v2h1v-2h1h1v2h1v1h1v-1h1v4h1v-2h1v-5h1h1h1v-10h1v11h1v2h1v2h1v1h1v-12h1v13h1v2h1v-3h1h1v-8h1v-13h1v19h1v2h1v-13h1v12h1v3h1v-2h1v-11h1v6h1v-2h1v1h1v-1h1v-1h1v-16h1v2h1v18h1v4h1v3h1v1h1h1h1h1h1v-17h1v1h1v16h1v-1h1v1h1v-16h1v10h1v3h1h1v-1h1v-1h1v2h1v2h1v-10h1v14h1v-7h1v-9h1v-3h1h1v-5h1v1h1v2h1v-1h1v-14h1v12h1v-2h1v2h1v2h1v-1h1v-2h1v-2h1v-6h1v5h1v-1h1v2h1v11h1v6h1v1h1v-2h1h1h1h1v5h1v4h1v-1h1v-3h1v-3h1h1h1v-2h1v-1h1v-1h1v2h1h1v1h1v2h1v-2h1v1h1v-4h1h1v1h1v2h1h1v2h1v-1h1v2h1h1v-17h1h1v12h1v-40h1h1v46h1v-1h1v2h1v-1h1v3h1v-1h1v2h1v2h1v-5h1v2h1v1h1v-6h1v-2h1v-1h1v-1h1v1h1v2h1v-6h1v2h1v1h1v-1h1v-2h1v-4h1v2h1v4h1h1v-2h1v1h1v-1h1v7h1v-1h1v1h1v3h1v-4h1h1v-2h1v-1h1v-2h1v-16h1v1h1v13h1v-13h1v-9h1v14h1v11h1v-2h1v-23h1v24h1v3h1v-4h1v-17h1v-46h1h1v46h1v19h1v2h1v-2h1v3h1v-2h1v-4h1v-1h1v6h1v6h1v-17h1v14h1h1v3h1v1h1v-1h1h1v-3h1h1v-5h1v6h1h1v-5h1v-3h1v2h1h1v1h1v-21h1v1h1v22h1v4h1h1v-2h1h1v-2h1v1h1v2h1h1v-16h1v15h1v-8h1v-2h1v-6h1v2h1v13h1v-3h1v2h1v1h1v1h1v-2h1h1h1h1h1v1h1v-18h1v1h1v18h1v-8h1v9h1h1v1h1v-15h1v-3h1v16h1h1v-2h1v3h1v5h1v1h1v-20h1v-2h1v11h1v-4h1v5h1v-1h1h1v1h1v-7h1v-2h1v8h1v3h1v2h1v-2h1v-3h1v1h1v1h1v-18h1v10h1v-2h1v5h1v5h1h1v1h1v1h1h1v3h1v2h1v-4h1v1h1v6h1v-1h1v-2h1v-3h1v-1h1v1h1h1v-4h1v-5h1v-2h1v3h1v2h1v2h1v-3h1h1v4h1v-4h1v-3h1h1v-17h1v23h1h1h1h1v2h1v4h1v-3h1v-1h1h1v1h1v2h1v-2h1v-1h1v1h1h1v-17h1v-2h1v17h1v7h1v3h1v-3h1v-1h1v1h1v-2h1v-3h1v-1h1v-1h1v2h1v1h1h1v-2h1v-1h1v1h1v1h1v-3h1h1v1h1v-4h1v4h1v1h1v1h1v-2h1v-13h1v-4h1v6h1v1h1v1h1v2h1v2h1v1h1v1h1v3h1v1h1v-1h1v-3h1v1h1v-11h1v-15h1v9h1h1v1h1v2h1v-25h1v-38h1h1v39h1v-12h1v-13h1v-5h1v-31h1v47h1v1h1v-6h1v-3h1v-3h1v3h1v-25h1v19h1v-21h1v21h1v-5h1v-50h1v37h1v11h1v3h1v-13h1v-26h1h1v52h1v-17h1v-18h1v-9h1v48h1v-1h1v1h1v6h1v6h1v-26h1v-7h1v23h1v-4h1v-2h1v5h1v-2h1v3h1h1v-25h1h1v37h1v-32h1h1v29h1v-1h1h1v1h1v-3h1v-8h1v3h1v6h1v3h1v-5h1v3h1v8h1v-1h1v-4h1v1h1v2h1v10h1v7h1h1v-21h1h1v24h1v-1h1v-21h1v2h1v-8h1v-23h1v4h1h1v-2h1v1h1v-42h1h1v48h1v-7h1v-25h1v5h1h1v46h1v-4h1v-6h1h1v-32h1v-4h1v12h1v-8h1h1v-7h1v-4h1v-10h1v1h1v14h1v2h1v-28h1h1v-19h1h1v51h1v3h1v-12h1v-10h1v-1h1v-14h1v19h1v-7h1v-2h1v6h1v1h1v20h1v33h1v19h1h1h1h1v-3h1v3h1v-9h1v10h1v-5h1v7h1v-20h1v-8h1h1v5h1v20h1v3h1v6h1v-6h1v-2h1v2h1v1h1v-4h1v-1h1v-7h1v-2h1v7h1v-4h1v3h1v5h1v-1h1v-1h1v-2h1v-1h1v1h1v-6h1v-7h1h1v-35h1v-25h1v40h1v-21h1h1v37h1v5h1v4h1v-5h1h1v1h1v-1h1v-37h1h1v-7h1h1v219h-1v2h-1v12h-1h-1v-19h-1v-7h-1v-19h-1v3h-1v-7h-1v-1h-1v1h-1v46h-1h-1v1h-1v42h-1v-27h-1v-23h-1v-12h-1v-12h-1v-2h-1v11h-1v7h-1v-7h-1h-1v-3h-1h-1h-1v2h-1v10h-1v-4h-1v-2h-1v-2h-1v2h-1v-7h-1v10h-1v-6h-1h-1v-2h-1v-1h-1v30h-1v-4h-1h-1v-23h-1v2h-1v-1h-1v2h-1v-1h-1v11h-1v-13h-1h-1v1h-1v11h-1h-1v-11h-1v38h-1v1h-1v43h-1v-36h-1v3h-1v-1h-1v-4h-1v1h-1v1h-1v2h-1v8h-1v70h-1h-1v-14h-1v-41h-1h-1v-24h-1v-4h-1v3h-1v4h-1v-5h-1v2h-1v2h-1h-1v-6h-1v-4h-1v-11h-1v-14h-1v-2h-1v-4h-1v14h-1v5h-1v14h-1h-1v-8h-1v-29h-1v6h-1v13h-1v2h-1v10h-1h-1v-13h-1v-28h-1v-14h-1v-19h-1v6h-1v-1h-1v-5h-1v3h-1h-1v-1h-1v7h-1v6h-1v5h-1h-1v1h-1v2h-1v4h-1v14h-1v7h-1v-15h-1v34h-1v-7h-1v-30h-1v-2h-1v6h-1v4h-1v-7h-1v2h-1v28h-1h-1v-22h-1v-1h-1v21h-1v5h-1v23h-1h-1v-23h-1v-17h-1v1h-1v-5h-1v19h-1v4h-1v-20h-1h-1v1h-1v20h-1v-20h-1v39h-1h-1v-1h-1v-20h-1v38h-1h-1v-42h-1v-3h-1v-2h-1v2h-1v-3h-1v25h-1v2h-1v-25h-1v37h-1v-37h-1v2h-1v6h-1v15h-1h-1v-18h-1v-1h-1v25h-1v-31h-1v32h-1h-1v-44h-1v-11h-1v-9h-1v15h-1v-17h-1v-3h-1v-1h-1h-1h-1v-11h-1v-13h-1v1h-1v1h-1v2h-1h-1v-2h-1v-2h-1v2h-1v4h-1v-2h-1v2h-1h-1v6h-1h-1v-7h-1v-1h-1v-2h-1v-2h-1h-1v-1h-1v-2h-1v-2h-1h-1h-1v3h-1v3h-1v-2h-1v-1h-1v2h-1v-2h-1v3h-1v15h-1h-1v-13h-1v-1h-1h-1v1h-1v-7h-1v-3h-1v1h-1v-1h-1v4h-1v3h-1v15h-1v-15h-1v3h-1v18h-1v-4h-1v-22h-1v-2h-1v3h-1v-1h-1h-1v8h-1v1h-1v-10h-1v1h-1v4h-1v-1h-1v2h-1v3h-1v-4h-1v20h-1v-20h-1v-1h-1v1h-1v5h-1h-1v11h-1v3h-1v-14h-1v13h-1v-1h-1v-21h-1v-1h-1v3h-1h-1v1h-1v-1h-1v-2h-1v-3h-1v6h-1v1h-1v-6h-1v2h-1v17h-1v-15h-1v1h-1v-6h-1h-1v12h-1v-10h-1v4h-1v6h-1v-2h-1v-1h-1v-5h-1h-1v2h-1v-1h-1v-1h-1v12h-1v-12h-1v10h-1v-1h-1v-5h-1h-1v-1h-1v-3h-1v1h-1v1h-1v-1h-1v18h-1v-10h-1v-11h-1v3h-1v2h-1v2h-1v-3h-1v-3h-1v-3h-1v5h-1v2h-1v-1h-1h-1v3h-1v3h-1v-5h-1v-2h-1v5h-1v-2h-1h-1v10h-1v-10h-1v-2h-1v6h-1v7h-1v-9h-1v-8h-1v1h-1h-1v-1h-1v-3h-1v4h-1v2h-1v-2h-1h-1h-1v1h-1v-2h-1v-1h-1v15h-1v3h-1v-9h-1v-2h-1v-1h-1v1h-1v-2h-1v-2h-1v1h-1v2h-1v1h-1v5h-1v-1h-1v-8h-1v3h-1v3h-1v-3h-1v9h-1v-13h-1v1h-1h-1v-2h-1h-1v-2h-1v20h-1v39h-1h-1v-39h-1v-15h-1v-1h-1v-1h-1v2h-1v2h-1v2h-1h-1v1h-1v3h-1v4h-1v-2h-1h-1v-2h-1v-1h-1v1h-1v-1h-1v19h-1v-3h-1v-21h-1v1h-1h-1v-2h-1h-1h-1v1h-1v-2h-1v-2h-1v2h-1v8h-1v1h-1v-6h-1v-1h-1v4h-1v1h-1v-1h-1v5h-1v-7h-1v-3h-1h-1v4h-1v12h-1v-5h-1v4h-1v3h-1v-11h-1h-1v-2h-1v1h-1v-2h-1v16h-1v20h-1h-1v-40h-1v5h-1v-1h-1v-2h-1v3h-1h-1v12h-1h-1v-10h-1h-1v-4h-1h-1v3h-1v-2h-1v10h-1v-4h-1v3h-1v-4h-1v-5h-1v23h-1v-19h-1v-1h-1v-3h-1v-1h-1v-1h-1v1h-1h-1v-1h-1v-5h-1v1h-1v13h-1v-13h-1v2h-1h-1v15h-1v-3h-1v8h-1v5h-1v-2h-1v-3h-1v-6h-1v-3h-1h-1v1h-1v2h-1v-1h-1h-1v20h-1v2h-1v-19h-1v-2h-1v-4h-1v4h-1v5h-1v-5h-1v-11h-1v-7h-1v2h-1v-2h-1v7h-1v-6h-1v4h-1h-1v-3h-1v-2h-1v4h-1v8h-1v-7h-1v-1h-1v-2h-1h-1v1h-1v18h-1v-19h-1v1h-1h-1v1h-1h-1v14h-1v-17h-1v1h-1v-1h-1v2h-1v1h-1v-3h-1v-3h-1v5h-1v7h-1v-2h-1v-1h-1h-1v-1h-1v-1h-1v1h-1v1h-1v-2h-1v23h-1v3h-1v-21h-1v-2h-1v29h-1v-6h-1v-22h-1v-1h-1v2h-1v1h-1v-9h-1v2h-1v-6h-1v-1h-1h-1v6h-1v-6h-1v-3h-1v4h-1v-2h-1h-1v6h-1v3h-1h-1v-3h-1h-1v1h-1v-2h-1v-2h-1v3h-1v12h-1v1h-1v-11h-1v-2h-1v10h-1v2h-1v-7h-1h-1v18h-1v-1h-1v2h-1v-19h-1v-4h-1v10h-1v-17h-1v1h-1h-1h-1v4h-1v11h-1v2h-1v-2h-1v1h-1v-7h-1h-1v-2h-1v-1h-1h-1v9h-1h-1v-10h-1v2h-1v2h-1v-1h-1h-1v2h-1v1h-1v2h-1h-1v-2h-1v-1h-1v2h-1v-1h-1v-5h-1h-1v17h-1v-15h-1v1h-1v-4h-1v1h-1v3h-1v3h-1v2h-1v-5h-1v-3h-1v-1h-1v1h-1v5h-1v1h-1v2h-1v-1h-1v-1h-1v-2h-1v12h-1v-3h-1v1h-1v-11h-1v13h-1v-11h-1v-1h-1v10h-1v-1h-1v-11h-1v-3h-1v-1h-1h-1v-2h-1v1h-1v1h-1v3h-1v3h-1v21h-1v-20h-1h-1v1h-1v-2h-1v-6h-1v-1h-1v5h-1v1h-1v-3h-1v6h-1v4h-1v-2h-1v-2h-1v2h-1v-4h-1v3h-1v-2h-1v2h-1v-1h-1v-3h-1v-3h-1v1h-1v1h-1h-1v4h-1v2h-1v14h-1v-23h-1v-1h-1v3h-1v2h-1v2h-1h-1v2h-1h-1v-2h-1v-2h-1v3h-1v2h-1v1h-1v-1h-1h-1v14h-1v12h-1v-21h-1v-8h-1v-3h-1h-1v-8h-1v1h-1v3h-1v1h-1v-1h-1v-1h-1v2h-1v-1h-1v10h-1v-8h-1h-1v-5h-1v16h-1v4h-1v-18h-1v1h-1v1h-1v1h-1v-3h-1v1h-1v4h-1v3h-1v4h-1v-3h-1v-3h-1v1h-1v1h-1v-3h-1v3h-1v3h-1h-1v-1h-1v-2h-1v-2h-1v2h-1v13h-1v-14h-1v-4h-1v2h-1v-2h-1v20h-1v-5h-1v-10h-1v6h-1v-4h-1v-4h-1v2h-1v4h-1v19h-1v-20h-1v3h-1v-2h-1v-7h-1v-8h-1v-5h-1v5h-1v5h-1h-1v-2h-1v1h-1h-1v-1h-1v2h-1v5h-1v6h-1v-4h-1h-1h-1v1h-1v-3h-1v-4h-1v3h-1v6h-1h-1h-1v-9h-1v-3h-1v6h-1v-1h-1h-1h-1v3h-1v1h-1v-6h-1h-1v3h-1v1h-1v2h-1h-1v3h-1v-6h-1h-1v-4h-1h-1v1h-1h-1v-2h-1h-1v2h-1v5h-1v3h-1v4h-1v2h-1v1h-1v8h-1v-14h-1h-1v-1h-1v3h-1h-1v2h-1v-5h-1v-2h-1v1h-1h-1v-5h-1v3h-1v12h-1v-3h-1v1h-1v-1h-1v16h-1v-1h-1v-6h-1v-13h-1h-1h-1v6h-1v9h-1v-12h-1v-6h-1v-4h-1v-5h-1v1h-1v-3h-1v2h-1v4h-1v3h-1v7h-1v-7h-1v2h-1h-1v-1h-1v6h-1v-1h-1v-11h-1v15h-1v-22h-1v-2h-1v4h-1v1h-1v-3h-1v3h-1v6h-1v-2h-1v1h-1v11h-1v-11h-1h-1v3h-1v-4h-1v1h-1v22h-1v2h-1v-16h-1h-1v-3h-1v1h-1v2h-1v9h-1v-11h-1v6h-1v-12h-1v2h-1v-2h-1h-1v-1h-1v-3h-1v2h-1v5h-1v-1h-1v-1h-1v-2h-1h-1v4h-1v-1h-1h-1v3h-1v-5h-1v-1h-1v-1h-1v-2h-1v-1h-1h-1v4h-1v1h-1v20h-1v-1h-1v-21h-1v-1h-1v1h-1v-2h-1v8h-1v-8h-1v11h-1v4h-1v-7h-1v3h-1h-1v-2h-1v-3h-1v1h-1v3h-1v3h-1h-1v-4h-1v-6h-1v2h-1v14h-1v1h-1v-13h-1v-2h-1v5h-1v-1h-1v-8h-1h-1v1h-1v1h-1v3h-1v-2h-1v-2h-1v1h-1v2h-1v1h-1v1h-1v-3h-1v1h-1h-1v-1h-1v-5h-1v3h-1v3h-1v-5h-1v7h-1v-8h-1v12h-1v4h-1v-11h-1v-2h-1v3h-1v1h-1h-1v15h-1v-1h-1v-17h-1h-1v2h-1v-3h-1h-1v1h-1v3h-1h-1v-4h-1v2h-1v2h-1v2h-1v6h-1v-11h-1v2h-1v2h-1v-2h-1v-2h-1v-1h-1v-2h-1v2h-1v-1h-1v-1h-1v7h-1v-10h-1v14h-1v-10h-1v-4h-1v3h-1v10h-1h-1v1h-1v-4h-1v-2h-1v4h-1v1h-1v-6h-1v1h-1v-1h-1h-1h-1v1h-1v1h-1h-1v-1h-1v1h-1v-4h-1h-1v8h-1v1h-1v-8h-1v20h-1v3h-1v-23h-1h-1v5h-1v2h-1v1h-1v-6h-1v-1h-1v3h-1v15h-1v-4h-1v-12h-1v1h-1v-2h-1v-3h-1v1h-1v4h-1v-1h-1v4h-1h-1v-2h-1v1h-1v-4h-1v-1h-1v2h-1h-1v-2h-1v12h-1v-13h-1h-1v2h-1v-1h-1h-1v4h-1v-1h-1v-5h-1h-1v17h-1v-13h-1v2h-1v-1h-1v-3h-1v-3h-1v2h-1v2h-1v-2h-1h-1v1h-1v1h-1v-2h-1v-1h-1v4h-1v-4h-1h-1v1h-1v2h-1v4h-1v2h-1v3h-1v-4h-1v-5h-1v15h-1h-1v-13h-1v10h-1v-11h-1v-2h-1v2h-1v-1h-1v1h-1v1h-1v-4h-1v1h-1v4h-1v-5h-1v4h-1v4h-1v-5h-1v-2h-1v14h-1v4h-1v-5h-1v-10h-1v-4h-1v-3h-1v3h-1h-1v-1h-1h-1h-1v1h-1v20h-1v-17h-1v6h-1v-5h-1v2h-1v-6h-1v-1h-1h-1v2h-1v3h-1v1h-1v-2h-1v1h-1h-1h-1v-2h-1h-1v1h-1v1h-1v-1h-1v-5h-1v-1h-1v3h-1v4h-1v7h-1h-1v-15h-1v-3h-1v1h-1v4h-1v3h-1h-1h-1h-1v-1h-1v1h-1v2h-1h-1v-1h-1h-1v7h-1v-2h-1v-6h-1v5h-1v-1h-1v1h-1v-3h-1v-4h-1v-2h-1v1h-1v1h-1v-1h-1h-1v-2h-1v-2h-1v4h-1h-1v-2h-1v2h-1v6h-1h-1v-1h-1h-1v1h-1h-1v1h-1v19h-1v-4h-1v-17h-1v1h-1v-3h-1v4h-1v-7h-1v-2h-1v-1h-1v3h-1h-1h-1v13h-1v-9h-1v-4h-1v-4h-1v29h-1v-2h-1v-20h-1v-3h-1v-3h-1v1h-1v-1h-1v-1h-1v3h-1v-1h-1v-2h-1v2h-1v20h-1v-16h-1v4h-1v-9h-1v22h-1v-13h-1v-10h-1v7h-1v1h-1v-1h-1v4h-1v5h-1v1h-1v-7h-1v-4h-1h-1v3h-1h-1v1h-1v-1h-1v2h-1h-1v10h-1v-13h-1v1h-1v-3h-1v15h-1v-10h-1h-1v-2h-1v-1h-1v7h-1v-1h-1v6h-1v1h-1v-10h-1v-3h-1v-3h-1h-1v1h-1h-1v-4h-1v2h-1v-1h-1v-1h-1v3h-1v2h-1v18h-1v-18h-1h-1v-1h-1v1h-1v2h-1v10h-1v-8h-1h-1v7h-1v-1h-1v-7h-1h-1z" fill="#847200"/>
<path transform="scale(1,0.1)" d="M192 2830h1h1v-3h1v-1h1h1h1v-3h1v-3h1v-3h1v-1h1v-6h1v-11h1v-6h1v2h1v5h1v4h1v-4h1v2h1v-61h1v29h1v-7h1v-18h1v5h1v2h1h1v21h1v14h1v-1h1v1h1v-22h1v-10h1v36h1v9h1v2h1v-1h1v1h1h1v-12h1h1v13h1v9h1v-2h1v-3h1v4h1v-37h1h1v31h1v4h1v-19h1v21h1v-18h1v-3h1v20h1v-3h1v-17h1v-8h1v-2h1v27h1v7h1h1v4h1v-1h1v-21h1v1h1v19h1v1h1v1h1h1v4h1v-5h1v-4h1v5h1v7h1v-14h1v13h1h1v-19h1v20h1v-15h1h1v18h1v1h1v-3h1v-6h1v-18h1v8h1v22h1v-2h1v-2h1v-6h1v5h1v9h1v-3h1v-12h1v14h1v-3h1v-8h1v6h1v13h1v-4h1v4h1v-19h1v16h1v1h1v-3h1v1h1h1h1v4h1h1v-2h1v-3h1v5h1v-4h1v-4h1v-16h1v4h1v20h1v-6h1v-4h1v-1h1v2h1v2h1v-17h1v13h1v4h1h1h1v-2h1h1v-2h1h1v1h1h1v2h1v1h1v-1h1v1h1v-1h1v-3h1v1h1v-2h1v1h1v2h1v-3h1v-4h1v3h1v3h1v-1h1v1h1v-16h1v21h1v3h1v3h1v-3h1v-6h1v1h1v4h1v-2h1v2h1h1v-4h1h1v1h1v-3h1v-2h1v4h1v-1h1v1h1v-2h1v1h1v2h1v2h1v4h1v1h1v-5h1v1h1v-4h1v4h1v4h1v1h1v-5h1v3h1v-1h1h1v-2h1v-4h1v-1h1v-3h1v3h1v1h1v-4h1v-1h1v7h1v7h1v1h1v-5h1v-2h1v-6h1v-4h1v11h1v1h1v-6h1v-4h1h1v6h1v3h1v-2h1v-1h1v-5h1v-1h1v-3h1v-5h1v3h1v-1h1v-34h1v9h1v6h1v-15h1v35h1v-2h1v-4h1v4h1v5h1v2h1h1v2h1v1h1v-2h1v-15h1v16h1v-7h1v-2h1v8h1h1v-21h1v20h1v-2h1h1v4h1v4h1v-2h1v2h1v2h1v-5h1v-10h1v-9h1v3h1v7h1v-2h1v-1h1v6h1v-2h1v2h1v2h1v-9h1v12h1h1v9h1v4h1v-17h1v7h1v-2h1v-1h1v4h1v-3h1v-3h1v4h1h1v1h1v-1h1v3h1v4h1v1h1h1v-5h1v-5h1v-1h1v5h1v1h1v3h1v-1h1v-1h1v1h1v-2h1h1v-12h1v-4h1v11h1v1h1h1v3h1v-8h1v13h1v-3h1v-4h1v-2h1v-1h1v6h1v1h1v-12h1v7h1h1v-4h1v-2h1v-17h1v19h1v5h1v2h1v3h1v-2h1v2h1v4h1v-1h1v-6h1v-1h1v-1h1v5h1v-2h1v-3h1v-3h1v-2h1v4h1v4h1v-1h1v2h1v-1h1v-5h1h1v-1h1h1v2h1v-5h1v6h1v-1h1v-5h1v-1h1v3h1v-12h1v2h1v17h1v-15h1v13h1v-12h1v1h1v9h1v-4h1v7h1v2h1v-1h1v3h1v-1h1v-5h1v-4h1v3h1v4h1h1v-3h1v-6h1v-13h1v20h1v-8h1v3h1v-11h1v1h1v1h1v1h1v8h1v3h1v9h1v-1h1v-2h1v-3h1v4h1v2h1v-2h1v-17h1v13h1h1v-2h1v-2h1v1h1h1v-8h1v-4h1v12h1v1h1v-5h1v3h1v4h1v-20h1v19h1v1h1h1v-17h1v9h1v10h1v2h1v-1h1v-5h1v-4h1v2h1v3h1v3h1v-1h1v1h1v-1h1v1h1v-3h1h1h1v-1h1v5h1v-12h1v-7h1v20h1v-1h1v2h1v3h1v-1h1v-3h1v2h1v-3h1v2h1v3h1v-3h1v-3h1v-3h1v-2h1v3h1v-1h1v3h1v4h1v-5h1v-3h1v1h1v1h1h1v-15h1v-23h1v14h1v20h1v-3h1v1h1h1v-1h1v-16h1v14h1v1h1v-1h1v2h1v8h1h1v-5h1v-3h1v2h1v2h1v-1h1h1v1h1v4h1v3h1v2h1v4h1h1v-12h1v2h1v3h1v-2h1v-1h1v2h1h1v3h1v-2h1v-4h1v-2h1v1h1v1h1v-3h1v-11h1v15h1v3h1h1v-3h1v4h1v2h1h1v-3h1v-1h1v-1h1h1v-1h1v3h1v-5h1v-21h1v4h1v20h1v-3h1v-29h1v20h1v-15h1v1h1v14h1h1h1h1v2h1v-10h1v-1h1v8h1h1v5h1v-18h1h1v19h1v-17h1v-14h1v17h1v-44h1h1v47h1v-4h1v3h1v3h1v-3h1v-3h1h1v5h1v5h1v2h1v3h1v-1h1v-3h1v-17h1v6h1v19h1v-6h1v2h1v-4h1v1h1v-7h1v-3h1v6h1v-13h1v2h1v13h1v-7h1v-3h1v-5h1v10h1v1h1v-6h1v-4h1v4h1v-22h1h1v2h1v3h1v-20h1v20h1v17h1v-21h1v12h1v-1h1v3h1v5h1v-8h1v-56h1h1v28h1v15h1v2h1v-35h1h1v3h1h1v42h1v-50h1h1v28h1v-16h1v21h1v-38h1v38h1v-18h1h1v31h1v-51h1h1v-56h1v-28h1v28h1v79h1v-3h1h1v29h1h1v21h1v3h1v7h1v3h1v-5h1h1v-18h1v22h1v-14h1v15h1v3h1v-1h1v-17h1v12h1v-1h1v11h1v1h1v1h1v2h1v-19h1v-2h1v15h1v-2h1v-8h1v7h1v-2h1v2h1v3h1v1h1v-6h1v-3h1v8h1v1h1v-3h1v-1h1v1h1v-5h1v-15h1h1v13h1v1h1v3h1v-5h1v-4h1v9h1v-30h1v-5h1v-10h1v-21h1v-17h1v5h1v13h1v9h1v4h1v12h1v3h1h1v10h1v5h1v7h1v6h1v-11h1v16h1v-11h1v23h1v4h1v-12h1v10h1v-4h1v-1h1v2h1v-15h1v-1h1v15h1v-3h1v5h1v1h1v-16h1v12h1v-4h1v2h1h1v4h1h1v-2h1v-3h1v-4h1v-13h1v17h1v-6h1v1h1v5h1v2h1h1v2h1v1h1v-3h1v1h1v4h1v-2h1v2h1v-19h1v17h1h1h1v-3h1v3h1v1h1v-20h1v17h1v-2h1v-4h1v2h1v6h1v-2h1v-10h1v4h1v13h1v1h1v-3h1h1v-14h1v-4h1v9h1h1v2h1v1h1v-11h1v9h1v-11h1v12h1v-4h1v-3h1h1v4h1v4h1v-6h1v3h1v9h1v-5h1h1v1h1v-7h1v9h1v-1h1v-4h1v-5h1v4h1v4h1v-2h1v2h1v-7h1h1v10h1v-1h1v-14h1v13h1v-2h1v2h1h1v-3h1v-4h1v2h1v1h1v3h1v4h1v-1h1v2h1v-5h1v-3h1v3h1v-2h1v2h1v4h1v1h1v-3h1v-3h1v1h1h1v-4h1v-4h1v-2h1v4h1v-10h1v8h1v3h1v-5h1v-1h1v3h1v-3h1v-2h1v7h1v1h1v-1h1v-2h1v-1h1v3h1v-2h1h1v4h1v-8h1v-4h1v9h1v-17h1v4h1v20h1v-1h1v-4h1v-5h1v1h1v-14h1v-3h1v8h1v4h1v7h1v7h1h1v-4h1v1h1v3h1v1h1v-9h1v7h1h1v-4h1h1v1h1v2h1v-1h1h1h1v-4h1v3h1v-11h1v14h1v1h1v-1h1v1h1v3h1v-18h1v19h1h1v-1h1v-5h1v1h1v1h1v2h1h1v1h1v1h1v3h1v2h1v-3h1v-6h1v1h1v1h1v-2h1h1v-2h1v-2h1v4h1v3h1v-1h1v-1h1h1v2h1v-3h1v3h1v3h1v-7h1v-3h1v3h1v5h1v5h1v-18h1v-5h1v11h1v-2h1v6h1v-1h1v-5h1v-1h1v3h1v2h1v-22h1v-2h1v18h1v2h1h1v3h1h1h1h1h1v2h1v-1h1v-3h1v1h1v4h1v-2h1v-4h1h1v1h1h1v-11h1v1h1v12h1v-2h1v-2h1v2h1v-11h1v11h1v-8h1v-13h1v17h1v4h1h1v2h1h1v-1h1v-3h1v-1h1v3h1v1h1v-4h1v1h1v-2h1v3h1v3h1v-3h1v2h1v2h1v2h1h1v-6h1h1v-7h1v-2h1v-3h1h1v17h1v-17h1v10h1v4h1v-6h1v10h1v-1h1v-2h1v-1h1v1h1v-4h1v-3h1v1h1v-13h1v16h1v2h1v-12h1v-2h1v1h1v14h1v-3h1v-1h1v-4h1h1v9h1v3h1v2h1v-1h1v1h1v-1h1v-1h1h1v2h1v-2h1v-18h1v14h1v1h1v-2h1v-2h1h1h1h1v1h1v5h1v-1h1v-6h1v2h1v-2h1v-6h1v4h1v6h1v1h1v-3h1v1h1h1v1h1v-18h1v-2h1v22h1h1v-4h1v1h1v4h1v-1h1v-21h1v12h1v-2h1v6h1v1h1h1v-1h1v2h1v-1h1h1v1h1h1h1v1h1v-2h1h1v-1h1v1h1v-2h1v-3h1v2h1v1h1v3h1v-4h1v-2h1v1h1v3h1v5h1v-12h1v9h1v5h1v1h1v-2h1v-14h1h1v16h1v-1h1h1h1v-1h1v-7h1v-4h1v15h1h1h1v-3h1v2h1v-20h1v1h1v21h1v2h1h1v-3h1v-2h1v-1h1v-6h1v2h1v2h1v2h1v1h1v4h1v-1h1v-3h1v-1h1v-4h1v3h1v3h1v-8h1v-1h1v5h1v1h1v-17h1v-3h1v17h1h1h1v3h1v3h1h1v2h1v-3h1v-1h1v3h1v1h1v-1h1v2h1v-3h1v-4h1h1v2h1v-4h1h1v2h1v-14h1h1v14h1v-4h1v-22h1h1v16h1v-1h1v-3h1v3h1v13h1v2h1h1v-5h1v1h1h1v1h1v1h1v-16h1v-3h1v13h1v4h1h1v-1h1h1v-1h1v-1h1v2h1v3h1v1h1v1h1v-4h1v-20h1v17h1v-2h1v-1h1v-21h1h1v18h1v-1h1v1h1v-9h1v4h1v10h1v-3h1v4h1h1v-1h1v-1h1v3h1h1h1v1h1v-3h1v1h1h1v1h1v4h1h1v-1h1v2h1v1h1h1v-2h1v-6h1v-17h1v7h1v-5h1v-1h1v22h1v-1h1v-4h1h1v-2h1v-3h1v2h1v-2h1v-12h1v2h1v16h1v-9h1v13h1v2h1v-1h1v-9h1v3h1v4h1v-2h1v-3h1v-10h1v10h1h1h1v-11h1v-4h1h1v15h1v2h1v1h1v-10h1v5h1v1h1v3h1v1h1v4h1v-2h1h1h1v-1h1v1h1v-14h1v16h1v-2h1v-4h1v1h1h1v-3h1v-1h1v4h1v3h1h1h1v73h-1h-1h-1v4h-1v3h-1v-2h-1v-2h-1v-4h-1v-3h-1v2h-1v4h-1v-1h-1v-2h-1v2h-1v1h-1h-1v-1h-1v-1h-1v18h-1v3h-1v-15h-1v-3h-1v14h-1v-1h-1v-7h-1h-1v-11h-1v-3h-1h-1v4h-1h-1v1h-1v20h-1v1h-1v-20h-1h-1v11h-1h-1v-8h-1v16h-1v-20h-1v2h-1h-1v-2h-1v-2h-1v3h-1v-2h-1h-1h-1v-1h-1v25h-1v-6h-1v-14h-1v2h-1v5h-1v8h-1v-14h-1v-3h-1v1h-1v5h-1v-3h-1v7h-1v-13h-1v1h-1v1h-1v-1h-1v-2h-1v-2h-1h-1v1h-1v2h-1v2h-1v-1h-1h-1v7h-1v3h-1v-4h-1v-3h-1v2h-1v2h-1h-1v-1h-1v1h-1v1h-1h-1v-2h-1v-1h-1v2h-1v-3h-1v2h-1v-2h-1h-1h-1v-1h-1v-2h-1v3h-1v21h-1v-8h-1v-18h-1v3h-1v-1h-1v2h-1v12h-1h-1v-12h-1v3h-1v-1h-1v-1h-1v-5h-1v1h-1v7h-1v3h-1v-2h-1h-1v-2h-1v-5h-1h-1v4h-1h-1h-1v1h-1v-3h-1v-2h-1v3h-1v1h-1v-1h-1v1h-1h-1v-1h-1v-1h-1v-3h-1v1h-1v2h-1v7h-1v-10h-1h-1v2h-1h-1v1h-1v1h-1v-1h-1h-1h-1v13h-1v-18h-1h-1h-1v21h-1v-21h-1h-1v1h-1v1h-1v1h-1v-1h-1v-2h-1v-5h-1h-1v8h-1v2h-1v-3h-1v1h-1v1h-1h-1v3h-1v2h-1v-1h-1v-4h-1v-1h-1v-1h-1v3h-1v8h-1v9h-1v-14h-1v1h-1v-1h-1v1h-1h-1v-3h-1v-2h-1v2h-1v-3h-1v-3h-1v4h-1v20h-1v-21h-1v3h-1v4h-1v-1h-1v-6h-1v-6h-1v-1h-1v2h-1v3h-1h-1h-1v3h-1v3h-1v4h-1v-2h-1v3h-1v-2h-1v-3h-1v-2h-1v22h-1v1h-1v-18h-1v3h-1v-3h-1v-2h-1v-2h-1v-2h-1v1h-1v1h-1v-2h-1h-1h-1v-2h-1v9h-1v-14h-1v18h-1v-19h-1v1h-1v1h-1h-1v-2h-1v2h-1v9h-1v12h-1v6h-1v-4h-1v17h-1h-1v-8h-1v-17h-1v-12h-1v-1h-1v2h-1v2h-1v-1h-1v15h-1v4h-1v-14h-1v-5h-1v-1h-1v2h-1v2h-1v1h-1v6h-1v-4h-1v-7h-1h-1v21h-1v-1h-1v-21h-1v13h-1v-17h-1v3h-1v-1h-1v-4h-1v-1h-1v6h-1v4h-1v-2h-1v-2h-1v14h-1h-1v-15h-1v-1h-1v5h-1v7h-1v-2h-1v-1h-1v12h-1v-1h-1v-10h-1v-2h-1v-4h-1v-3h-1h-1v-4h-1v-3h-1v1h-1v-1h-1v12h-1v-8h-1v1h-1v3h-1v1h-1v6h-1v4h-1v-3h-1v-5h-1v-2h-1v-1h-1v1h-1v5h-1v-3h-1v-4h-1v2h-1v4h-1v2h-1v3h-1v-2h-1v1h-1v-2h-1v18h-1v-16h-1v-2h-1v-1h-1v2h-1v-1h-1h-1v-4h-1v-3h-1h-1v-1h-1h-1v3h-1h-1v-1h-1v-1h-1v3h-1v19h-1v2h-1v-19h-1v-1h-1v4h-1v5h-1v-2h-1v8h-1v-5h-1v-5h-1v1h-1v-2h-1v-5h-1v-1h-1h-1v2h-1h-1v-1h-1v-2h-1v-1h-1h-1v4h-1v1h-1v-1h-1h-1v4h-1v1h-1h-1v4h-1v-4h-1v-2h-1v1h-1h-1v-4h-1v-4h-1v16h-1v-18h-1v2h-1v4h-1h-1v1h-1v-3h-1h-1h-1v-3h-1v-4h-1v1h-1v1h-1v1h-1v1h-1h-1v6h-1v-8h-1v20h-1v3h-1v-17h-1v2h-1v1h-1v-2h-1v-2h-1v1h-1v14h-1v-16h-1h-1v-4h-1h-1v6h-1v3h-1v-4h-1v1h-1v3h-1v-2h-1v-2h-1v-1h-1v17h-1v-13h-1v4h-1v-4h-1v-1h-1v4h-1v3h-1v-2h-1v15h-1v-3h-1v-15h-1v7h-1v-2h-1v-6h-1v-5h-1v1h-1v-2h-1v1h-1v-1h-1v2h-1v-4h-1v2h-1v3h-1v-2h-1v-2h-1v6h-1v-7h-1v4h-1h-1v-1h-1v-1h-1v7h-1v2h-1v2h-1v-6h-1v2h-1v5h-1v-5h-1h-1v-2h-1v-3h-1v4h-1v-2h-1v-2h-1v2h-1v2h-1v-1h-1v2h-1v-4h-1v-4h-1v-2h-1v4h-1v6h-1v-5h-1v2h-1v8h-1v-6h-1h-1h-1v3h-1h-1v-7h-1v-1h-1v1h-1v2h-1v-4h-1v-2h-1v6h-1v4h-1v-2h-1h-1v18h-1v-1h-1v-17h-1v1h-1v-2h-1v2h-1v2h-1v-2h-1v-2h-1v-2h-1v-2h-1v-2h-1v2h-1v3h-1v-2h-1h-1v-2h-1v3h-1v1h-1h-1v-1h-1v-1h-1v5h-1v10h-1v-13h-1v3h-1v-2h-1v-3h-1v1h-1v-3h-1v-2h-1v3h-1h-1v4h-1v2h-1v1h-1v2h-1v2h-1v-1h-1v-6h-1v-3h-1v9h-1v-9h-1v-1h-1v2h-1v-4h-1v-2h-1v15h-1v-15h-1v4h-1v-3h-1v-1h-1v1h-1v1h-1v11h-1v-7h-1v10h-1v-2h-1v-4h-1h-1v1h-1v-3h-1h-1v2h-1h-1v1h-1v-1h-1v3h-1v4h-1v1h-1v-4h-1v-2h-1v-1h-1v2h-1v-1h-1v-1h-1v-3h-1v11h-1v6h-1v-11h-1v-4h-1h-1v3h-1v1h-1v-2h-1v-1h-1v4h-1v-1h-1v-1h-1v2h-1v5h-1v5h-1v4h-1v1h-1v10h-1v6h-1v-1h-1v8h-1v43h-1h-1v-29h-1v36h-1v-2h-1v-25h-1v-3h-1v-16h-1v-20h-1v-22h-1v-2h-1v-1h-1v-2h-1v-1h-1v2h-1v3h-1v-2h-1h-1v-3h-1v8h-1v1h-1v-6h-1v13h-1h-1v-18h-1h-1v2h-1v2h-1v-1h-1v-2h-1v1h-1h-1v-4h-1v-1h-1v1h-1v1h-1v-2h-1v21h-1v-3h-1v-8h-1v22h-1v-16h-1v2h-1v-3h-1v-2h-1v-4h-1v-2h-1v10h-1v-11h-1v12h-1v13h-1v4h-1v1h-1v2h-1v1h-1v11h-1v33h-1h-1v-5h-1v84h-1v31h-1v-31h-1v-69h-1h-1v-59h-1v19h-1h-1v5h-1v40h-1v-40h-1v-15h-1h-1v30h-1h-1v-28h-1v24h-1h-1v29h-1h-1v-58h-1v-6h-1v40h-1v-1h-1h-1v-12h-1v-31h-1v1h-1v4h-1h-1v-5h-1v-1h-1v-5h-1v-4h-1v4h-1h-1v37h-1h-1v-38h-1v2h-1v11h-1v8h-1v-9h-1v-5h-1v6h-1v-4h-1v-10h-1v-1h-1v-2h-1v-2h-1v-1h-1v-1h-1v1h-1h-1v2h-1v1h-1v-2h-1v3h-1v-5h-1v7h-1h-1v-13h-1v-4h-1v7h-1v19h-1v-21h-1v2h-1v3h-1v1h-1v-2h-1v1h-1v10h-1v11h-1h-1v-13h-1v-3h-1v-5h-1v-5h-1v2h-1v9h-1v-11h-1h-1v17h-1v-5h-1v-1h-1v-18h-1h-1v3h-1v2h-1h-1v-2h-1v-4h-1v5h-1v3h-1v-1h-1v-3h-1v-1h-1v-2h-1v7h-1v-3h-1v2h-1v1h-1v-7h-1v-2h-1v-3h-1v1h-1v2h-1v10h-1v1h-1v-6h-1v-5h-1v1h-1v2h-1v-5h-1v-3h-1v-1h-1v1h-1v4h-1v1h-1v-1h-1v1h-1v12h-1v-10h-1v3h-1v-3h-1v-4h-1v3h-1v3h-1v-4h-1h-1v1h-1v14h-1v-2h-1v-6h-1v-3h-1v-7h-1v1h-1v2h-1v2h-1v3h-1v-1h-1v5h-1v8h-1v-5h-1v-11h-1v5h-1v2h-1v-7h-1v-2h-1h-1v1h-1v16h-1v3h-1v-13h-1v2h-1v2h-1v6h-1v-3h-1v-9h-1v2h-1v-3h-1v13h-1v-1h-1v-18h-1v2h-1v1h-1v2h-1h-1v10h-1v-1h-1v-12h-1v2h-1v5h-1v4h-1v9h-1v-2h-1v-9h-1v2h-1v2h-1v-5h-1v-3h-1v3h-1v-6h-1v-2h-1v9h-1v-10h-1v4h-1h-1v2h-1v10h-1v-6h-1v-18h-1v3h-1v3h-1v6h-1v-3h-1v-3h-1v5h-1v2h-1v-1h-1v-7h-1h-1v3h-1v2h-1v-2h-1v6h-1v5h-1v2h-1v-12h-1v12h-1v-5h-1v2h-1v12h-1h-1v-15h-1v3h-1v21h-1v-20h-1v-2h-1v-2h-1h-1v13h-1v1h-1v-17h-1v-4h-1v-1h-1v4h-1v4h-1h-1v-3h-1v3h-1v-3h-1v-2h-1v4h-1v3h-1h-1h-1h-1v1h-1v5h-1v-3h-1v-5h-1v-4h-1v12h-1v19h-1v-8h-1v-16h-1v-1h-1h-1v13h-1v-3h-1v-19h-1v4h-1v2h-1v-2h-1v10h-1v-13h-1v1h-1v2h-1v14h-1h-1v-22h-1h-1v2h-1v3h-1v2h-1v2h-1h-1v2h-1v1h-1v19h-1v-18h-1v-5h-1v-1h-1v2h-1h-1v-1h-1v-2h-1v-1h-1h-1v2h-1v1h-1v13h-1v2h-1v-12h-1v1h-1v3h-1v-4h-1v1h-1v4h-1v-3h-1v-4h-1v2h-1v1h-1v-5h-1v-1h-1v2h-1v1h-1v-1h-1v-1h-1v11h-1v-12h-1v3h-1v-1h-1v5h-1v19h-1v-5h-1v-15h-1h-1v-2h-1v-2h-1v2h-1v2h-1v-1h-1v-4h-1h-1v2h-1v1h-1v-2h-1v-1h-1h-1v-2h-1v-6h-1h-1v6h-1v-2h-1v-1h-1v6h-1v2h-1v-3h-1v10h-1v-10h-1v2h-1v3h-1v-6h-1v4h-1v5h-1h-1v2h-1v4h-1v2h-1v10h-1v16h-1v5h-1v-14h-1v-17h-1v-2h-1v-8h-1v-4h-1v-1h-1v2h-1v2h-1v-3h-1h-1v23h-1v-19h-1v2h-1v-4h-1v-2h-1v-1h-1v1h-1v4h-1v6h-1v-3h-1v-4h-1v-1h-1v-1h-1v3h-1v2h-1v7h-1v9h-1v8h-1h-1v-8h-1v8h-1v4h-1v9h-1v-26h-1v-1h-1v-4h-1v-3h-1v1h-1v-7h-1v-3h-1v-1h-1v1h-1v2h-1v-1h-1v2h-1v3h-1h-1v-2h-1h-1v1h-1v-3h-1v-4h-1v1h-1v-1h-1v-1h-1v2h-1v2h-1h-1v1h-1v-1h-1v1h-1h-1v8h-1v-15h-1v-3h-1v2h-1v1h-1v4h-1v-6h-1v-5h-1v4h-1v3h-1h-1v2h-1v2h-1v-6h-1v-1h-1v2h-1v16h-1v-10h-1v1h-1v1h-1v-4h-1v3h-1v1h-1v-3h-1h-1v5h-1h-1h-1v-3h-1v-3h-1v4h-1v2h-1v-4h-1v15h-1v1h-1v-18h-1v-7h-1v3h-1v9h-1v-3h-1v-2h-1v11h-1v-2h-1v-10h-1v-2h-1v5h-1v-2h-1v17h-1v1h-1v-22h-1v-1h-1v-1h-1v2h-1v1h-1v-1h-1v2h-1v1h-1v5h-1v-4h-1v18h-1v-3h-1v-4h-1v-13h-1v2h-1h-1v18h-1v4h-1v-15h-1v-4h-1v-1h-1v3h-1h-1v-3h-1h-1h-1v-1h-1v25h-1v-16h-1v-14h-1v2h-1v1h-1h-1v7h-1v12h-1v-8h-1v-8h-1v1h-1v4h-1h-1h-1v1h-1v11h-1v-8h-1v2h-1v-1h-1v-6h-1v-1h-1v1h-1v2h-1v17h-1v1h-1v-15h-1v7h-1v-3h-1v-2h-1h-1v2h-1v3h-1v5h-1v3h-1v-5h-1v12h-1v-18h-1v1h-1v7h-1v1h-1v-9h-1v19h-1v2h-1v-18h-1h-1v13h-1v-13h-1v5h-1v6h-1v-2h-1v-4h-1v17h-1v1h-1v-15h-1v-7h-1v-3h-1v26h-1h-1v-27h-1v13h-1h-1v-9h-1h-1v-5h-1v23h-1h-1v1h-1v-19h-1v2h-1v2h-1v-1h-1v25h-1h-1v-13h-1v-2h-1v-1h-1h-1v2h-1v3h-1v19h-1v-10h-1v4h-1v3h-1v-2h-1v5h-1v15h-1v6h-1v9h-1v20h-1v-20h-1v-24h-1v20h-1v-59h-1v2h-1v3h-1v1h-1v-1h-1v-3h-1v-2h-1v2h-1v-2h-1v-8h-1v-3h-1v-3h-1v4h-1v10h-1v-8h-1v-2h-1v-2h-1v-1h-1z" fill="#0E01FF"/>
<path transform="scale(1,0.1)" d="M192 3140h1v-1h1v5h1v-3h1h1v4h1v4h1v2h1v-3h1v-5h1v-3h1v-1h1v1h1v2h1h1v-3h1v2h1v1h1v-2h1v1h1v-7h1v1h1v2h1v-3h1v8h1v-2h1v1h1v3h1v4h1v-1h1v-2h1v1h1h1v2h1v-1h1h1v-1h1v-3h1v2h1h1v-3h1v1h1v5h1h1v-7h1v-8h1v6h1v-1h1v4h1v5h1v2h1v-1h1v4h1v-2h1v-22h1v-8h1v19h1v8h1v-5h1v2h1v-4h1v5h1v-1h1v1h1v-5h1v-12h1v3h1v12h1v-2h1v-9h1v1h1v8h1h1v-1h1v3h1v1h1v5h1v6h1h1v-10h1v-1h1v4h1v2h1v-4h1v-3h1v-2h1h1v1h1v-2h1v-1h1v-4h1v-11h1v-3h1v4h1v-6h1v-6h1v-5h1v9h1v-5h1v8h1v5h1v-14h1v-27h1h1v5h1v-1h1v-2h1v15h1v-1h1v1h1v-5h1v-2h1v-9h1h1v30h1v9h1v1h1v-17h1v13h1v-16h1v16h1h1v-2h1v-19h1v30h1v-17h1v-7h1v6h1v10h1h1v2h1v2h1v-19h1v21h1v-16h1v16h1h1v-19h1v-34h1v14h1v28h1v6h1v2h1v5h1v5h1v3h1v-1h1h1h1h1v5h1v7h1v3h1v1h1v-16h1v-3h1v10h1v-5h1v-16h1v18h1v-2h1v-1h1v3h1h1v-2h1v-8h1v-2h1v14h1h1v-2h1v-2h1v-2h1v1h1v1h1v4h1v1h1v-12h1h1v8h1v3h1v7h1v-2h1v-4h1v-3h1v-5h1v-4h1v-2h1v-4h1v18h1v2h1v1h1v-20h1v14h1v-9h1v3h1v14h1v-5h1v-3h1v-1h1h1v-1h1v5h1v-6h1v3h1v-1h1v8h1v-4h1v-2h1v2h1v-2h1v-24h1v-3h1v18h1v-2h1v5h1v1h1v1h1v-2h1v-5h1v2h1v5h1h1v-5h1v5h1v5h1v-5h1v4h1v3h1v-8h1v-6h1h1v-5h1v-10h1v-8h1v8h1v10h1v-3h1v-5h1v1h1v2h1v3h1v-16h1v-3h1v14h1v1h1v5h1v-15h1v-4h1v10h1v-6h1h1v5h1v7h1v-17h1v-4h1v18h1v-13h1h1v11h1v5h1h1v-8h1v12h1v17h1v2h1v-2h1v1h1v3h1v-16h1v-4h1v17h1v-12h1v-11h1v26h1v-4h1v4h1v-14h1v13h1v-8h1h1h1v-1h1v1h1v-11h1v18h1v1h1v-1h1h1v-5h1v-1h1v1h1v4h1v-16h1v20h1v3h1v2h1v-7h1v-4h1v3h1h1v-1h1v-4h1v-3h1v3h1v4h1v5h1v-2h1v-3h1v-3h1v2h1v-3h1v1h1v-1h1v-2h1v-1h1v1h1v3h1h1v4h1v3h1v1h1v-1h1v-8h1v-3h1v1h1v4h1v-13h1h1v1h1v-2h1v17h1h1v-1h1v-2h1v3h1h1v1h1h1v3h1v3h1v-2h1v-7h1v-3h1v6h1v6h1v-3h1v-6h1v2h1v-2h1v-3h1v-4h1v1h1v-1h1v4h1v4h1h1v1h1v1h1v-2h1v-4h1v-6h1v-6h1v2h1v3h1v2h1v11h1v-12h1v13h1v-4h1v3h1v1h1v-5h1v-4h1v-1h1v-3h1v9h1v2h1h1v-14h1v1h1v14h1v3h1v6h1h1h1v-6h1v-2h1v2h1v-3h1v-4h1v5h1v1h1v-8h1v1h1v1h1v-6h1v3h1v6h1h1v-6h1v3h1h1v-13h1v18h1v-1h1v-2h1v-3h1h1v1h1h1v2h1v1h1v-2h1h1v2h1v-4h1v-2h1v6h1v3h1v-2h1h1h1h1v-4h1v3h1v2h1v-9h1v-1h1v10h1v1h1v-11h1h1v9h1v-4h1v-2h1v-1h1v-1h1v2h1v2h1v-2h1v-1h1h1v-2h1v-2h1v1h1v5h1v1h1v-3h1v3h1h1v-8h1h1v14h1v-1h1v-2h1v-15h1v18h1h1h1v-1h1h1v-5h1v-22h1v3h1v24h1h1v-4h1v-2h1v3h1h1v-3h1v-5h1v-4h1v-1h1v1h1v2h1v-7h1v4h1v15h1v-13h1v-2h1v17h1v-2h1v10h1v-12h1v5h1v-6h1v5h1v-11h1v4h1v-3h1v3h1v4h1v3h1v1h1v-5h1v-3h1v2h1v4h1v5h1v-1h1v1h1v-2h1v-3h1v-16h1v19h1v-7h1v4h1v1h1v-7h1v-1h1v5h1h1v-10h1v-3h1v8h1v1h1v-3h1v1h1v2h1v2h1v5h1v6h1v-2h1v-5h1v2h1v3h1v-3h1v-20h1v-1h1v18h1v-1h1v4h1v-6h1v6h1v-1h1v-4h1v-4h1v1h1v1h1h1v-1h1h1v-3h1v-13h1v8h1v-2h1v5h1h1v1h1v2h1v-2h1v2h1v-1h1v-1h1v6h1v9h1v1h1v-7h1v-1h1v7h1v-1h1v-6h1v-7h1v-1h1v-2h1v1h1v5h1v-18h1v-3h1v22h1h1h1v1h1v-5h1v9h1v-10h1v-2h1v4h1h1v-4h1v3h1v7h1h1v-1h1h1v-12h1v14h1v1h1v-1h1v-3h1v1h1v4h1h1v-3h1h1v-12h1h1v9h1v-12h1v16h1v-1h1h1v4h1v1h1h1v2h1v-3h1v-7h1v-2h1v5h1h1v1h1h1v1h1h1v-5h1v2h1h1v-3h1h1v1h1v2h1v-9h1v10h1v-3h1h1v-16h1v16h1v-3h1v1h1h1v-6h1v-5h1v10h1v2h1v-1h1v-3h1v2h1v6h1v1h1v-3h1v2h1v-2h1v1h1v3h1h1v2h1v-1h1v-2h1v-4h1h1v5h1v4h1v-3h1v-4h1v4h1h1v-3h1v2h1v-1h1v-4h1v-8h1v4h1v-5h1v-1h1v13h1v-13h1v13h1v4h1v2h1v-2h1v-17h1v-1h1v16h1v-2h1v-2h1h1h1v-1h1v2h1v1h1v-4h1v-3h1v3h1v-1h1v3h1v2h1v-8h1v1h1v12h1v-4h1v-6h1v-5h1v2h1v1h1v-4h1v-1h1v-2h1v-3h1v-6h1v-3h1v2h1v3h1v6h1v1h1v-1h1v2h1v5h1v5h1v-16h1v4h1v5h1v-30h1h1v7h1v3h1v18h1v3h1v2h1v-8h1v4h1v10h1v-1h1v-3h1h1v-11h1v3h1v16h1v3h1v-1h1v-2h1v-1h1h1v1h1v-2h1v3h1v3h1h1v-3h1h1v1h1v4h1h1v-5h1v-3h1v-18h1v9h1v-4h1v-3h1v8h1v1h1h1v4h1v-3h1v-2h1v4h1v3h1h1v1h1v-7h1v-1h1v-5h1v16h1v-5h1v-6h1v3h1v-2h1v-1h1v2h1v5h1v-18h1v-5h1v16h1v1h1v1h1v4h1v-17h1v16h1v-1h1v2h1v-13h1v-16h1v9h1v16h1v6h1v2h1v-7h1v-1h1v2h1v2h1v-3h1v-2h1v5h1h1h1v-5h1v-4h1v-1h1v-5h1v-4h1v3h1v-5h1v1h1v15h1v3h1v-2h1v-4h1v-6h1v1h1v-8h1v7h1v17h1v3h1v-14h1v-3h1v10h1v3h1v-1h1v-1h1v-6h1v-26h1v22h1v8h1v2h1v-2h1h1v-1h1h1v2h1v-10h1v10h1v5h1v-1h1v2h1h1v-5h1v3h1v1h1h1v-2h1v-4h1v1h1v-16h1v2h1v14h1v1h1v-3h1h1v-14h1v5h1v18h1v-4h1h1v-2h1v-1h1v-2h1v1h1v-1h1v1h1v4h1v-12h1v12h1v-2h1h1v4h1v-2h1v-3h1h1v2h1v-1h1v-1h1v3h1v-4h1v3h1v3h1v-3h1v1h1v3h1v-2h1v-4h1v3h1v2h1v-2h1h1h1v-2h1v-9h1h1v8h1v-16h1v13h1h1v7h1v-4h1v-3h1v-1h1v1h1v14h1v-2h1v1h1v-8h1v7h1h1v-4h1h1h1v-4h1v-1h1v-1h1v-3h1v-3h1v-9h1v-2h1v6h1v3h1v-1h1v-2h1v-1h1h1v-1h1v1h1v3h1v-1h1v-2h1v-15h1v17h1v8h1v3h1v-4h1v-6h1v-6h1h1v5h1v-4h1v-2h1v-1h1v-1h1v6h1v2h1h1h1v1h1v-4h1v3h1v3h1v2h1h1v1h1v4h1v-5h1v3h1v5h1v-7h1v-7h1v-3h1h1v9h1v5h1v-6h1v-3h1v-2h1h1v2h1v1h1v4h1h1v2h1v-2h1v-20h1v16h1v-4h1v-2h1v-2h1v-21h1v22h1v2h1v5h1v-2h1v-3h1v5h1v-1h1v-21h1h1v12h1v-2h1v10h1h1h1v-5h1v1h1v4h1v-3h1h1v4h1v-22h1v17h1v-3h1v-2h1v6h1v3h1v-6h1h1h1v6h1v2h1v-14h1v14h1v-4h1v2h1v5h1v-3h1v-1h1v-10h1v11h1v-1h1v2h1v-3h1v-1h1h1v3h1v1h1v-5h1v2h1v7h1v2h1v-4h1v-5h1h1v3h1v5h1v-1h1v-4h1v3h1v-4h1v-11h1v10h1v1h1v-6h1v-4h1v2h1v-2h1v4h1v4h1v-5h1v-4h1v3h1v5h1v1h1v110h-1v21h-1v4h-1v-24h-1v-4h-1v21h-1v3h-1v-25h-1v-4h-1v-3h-1v4h-1v6h-1v-4h-1v-3h-1v8h-1v1h-1v-14h-1v-1h-1v2h-1v-3h-1v3h-1v-3h-1v3h-1v15h-1v-2h-1v8h-1v16h-1v-16h-1v-11h-1v-3h-1v-3h-1v-3h-1v1h-1v-4h-1v1h-1v13h-1v-10h-1v1h-1v1h-1v13h-1v-1h-1v15h-1v-4h-1v-17h-1v2h-1h-1v-3h-1v-2h-1v1h-1h-1v-4h-1v1h-1v-4h-1v1h-1h-1v2h-1v7h-1v2h-1v1h-1v-8h-1v6h-1v-11h-1v1h-1v-1h-1v4h-1v4h-1h-1v3h-1v-3h-1h-1v8h-1v-8h-1v5h-1v7h-1h-1v-6h-1v-1h-1v11h-1v-5h-1v-17h-1v8h-1v-3h-1v1h-1v2h-1v-7h-1v5h-1v1h-1v1h-1v-6h-1v-2h-1v2h-1h-1v-3h-1v-2h-1v12h-1v-7h-1v-1h-1v-1h-1v2h-1v2h-1v15h-1h-1v-18h-1v-3h-1v5h-1v24h-1v-6h-1v-19h-1v-2h-1v4h-1v5h-1v-2h-1v-2h-1h-1v1h-1v2h-1v-1h-1v-3h-1v-3h-1v3h-1v-2h-1v-2h-1v-3h-1v5h-1v-1h-1v-3h-1v-2h-1v1h-1v1h-1v5h-1v2h-1v-4h-1v-2h-1v-1h-1v2h-1h-1v1h-1v12h-1v-11h-1v-6h-1v4h-1v-5h-1v9h-1v-12h-1v2h-1v4h-1v1h-1v-2h-1v2h-1v5h-1v17h-1v-4h-1v-19h-1h-1v-5h-1v2h-1v4h-1v-3h-1v1h-1v4h-1v3h-1h-1v2h-1v2h-1h-1v4h-1v-2h-1v-4h-1v-1h-1v-7h-1v-5h-1v18h-1v-11h-1h-1v-3h-1v-1h-1h-1h-1v1h-1h-1v9h-1v-13h-1v4h-1v5h-1v-4h-1v-3h-1h-1v16h-1v-9h-1v-3h-1v-4h-1v2h-1v2h-1v-2h-1v-3h-1v-2h-1v4h-1h-1v-2h-1h-1v16h-1v-23h-1v2h-1v5h-1v14h-1v-19h-1v-2h-1v1h-1v1h-1h-1v-2h-1v2h-1v5h-1v2h-1v3h-1v-2h-1v2h-1v3h-1v7h-1v4h-1v-7h-1v-4h-1h-1v13h-1v-19h-1v7h-1v-5h-1v-3h-1v4h-1v18h-1v-17h-1v-2h-1v-1h-1v3h-1v-2h-1v-3h-1v1h-1v2h-1v4h-1v18h-1v-10h-1v-5h-1v1h-1v-3h-1v-2h-1v-5h-1v-4h-1v4h-1v5h-1v-5h-1v2h-1v20h-1v1h-1v-17h-1h-1v5h-1h-1v-6h-1v2h-1h-1v-2h-1v-7h-1v-2h-1v2h-1h-1v4h-1h-1v-2h-1v2h-1v-2h-1h-1v6h-1v1h-1v-2h-1v-2h-1v-3h-1v-2h-1v3h-1v18h-1v-13h-1v9h-1v-14h-1h-1v5h-1v1h-1v-2h-1h-1v17h-1v-22h-1v-2h-1v-1h-1v2h-1v2h-1v1h-1v-4h-1v-1h-1v4h-1v6h-1v11h-1v-1h-1v-14h-1v-7h-1v-1h-1v2h-1v4h-1v17h-1v-4h-1v-9h-1v1h-1v-7h-1h-1v-1h-1h-1h-1v4h-1v4h-1v1h-1v-3h-1v-3h-1v1h-1v-1h-1h-1v-2h-1v8h-1v1h-1v-7h-1v1h-1v7h-1v1h-1v-1h-1v2h-1v-8h-1v-2h-1v2h-1v28h-1h-1v-24h-1v5h-1v4h-1v4h-1v-1h-1v-16h-1v5h-1v4h-1v-3h-1h-1v4h-1v4h-1v5h-1v-2h-1h-1v-4h-1v-2h-1v-3h-1v-7h-1v-5h-1v20h-1v-19h-1v-4h-1v-6h-1v4h-1v6h-1v2h-1v2h-1h-1v-2h-1h-1v-4h-1v4h-1v3h-1v-2h-1v-4h-1v4h-1v5h-1v-7h-1v-2h-1v4h-1v4h-1v1h-1v-2h-1v4h-1v-6h-1v4h-1v3h-1v-6h-1v-1h-1v15h-1v-21h-1h-1v1h-1h-1v1h-1v5h-1v14h-1v-3h-1v-12h-1v-4h-1v-3h-1v-1h-1v1h-1v6h-1h-1v-7h-1v2h-1v3h-1v3h-1v3h-1v2h-1v12h-1v-6h-1v-9h-1v28h-1v-16h-1v-14h-1v2h-1v1h-1v-1h-1v1h-1v15h-1v3h-1v-9h-1v-10h-1v14h-1v-12h-1v-4h-1h-1v-2h-1v-5h-1v22h-1v-11h-1v-5h-1v19h-1v-23h-1v5h-1v-1h-1v2h-1h-1h-1v-1h-1v-3h-1v-1h-1h-1v6h-1v1h-1v-2h-1v-1h-1h-1v4h-1v-2h-1v-1h-1v2h-1v5h-1v-4h-1v-11h-1v-5h-1v5h-1h-1v-5h-1v3h-1v6h-1v-1h-1h-1v2h-1v-1h-1v6h-1v1h-1v-4h-1v4h-1v1h-1v-4h-1h-1v-2h-1h-1v4h-1v2h-1v3h-1h-1v2h-1v10h-1v-20h-1v-4h-1v2h-1v5h-1v1h-1v8h-1v-2h-1v1h-1v-13h-1v-2h-1v1h-1v2h-1v-2h-1v1h-1v19h-1v1h-1v-21h-1v1h-1h-1v-3h-1v1h-1v21h-1v-16h-1v1h-1h-1v16h-1v-16h-1v2h-1v-2h-1v-2h-1v9h-1v-4h-1v5h-1v3h-1v-16h-1v2h-1v-1h-1v-2h-1v3h-1v1h-1v1h-1v-2h-1v-7h-1v-3h-1v20h-1v8h-1v-18h-1v-4h-1v1h-1v5h-1v-6h-1v-6h-1v5h-1v-1h-1v-3h-1v1h-1v7h-1v-8h-1v5h-1v-3h-1v-1h-1v4h-1v2h-1v16h-1v-18h-1v-7h-1v1h-1v6h-1v-1h-1v-3h-1v-1h-1v1h-1v4h-1v4h-1v3h-1v-6h-1v1h-1h-1v17h-1v6h-1v-15h-1v-2h-1v-3h-1v-2h-1v-4h-1v2h-1v10h-1v-5h-1v-1h-1v-2h-1v6h-1v5h-1v1h-1v-7h-1v-6h-1v-1h-1v2h-1v-1h-1v-2h-1h-1v-4h-1v-4h-1v17h-1v-13h-1v3h-1v2h-1v3h-1v-2h-1v-2h-1v3h-1v9h-1v4h-1v-11h-1v-4h-1v-1h-1v1h-1v3h-1h-1v2h-1v3h-1h-1v5h-1v-11h-1v3h-1v1h-1h-1v-1h-1v-3h-1v-1h-1v-4h-1v2h-1v6h-1v-5h-1v10h-1v-10h-1v6h-1v5h-1v-1h-1v-6h-1v1h-1v1h-1v-8h-1v-5h-1v9h-1v-3h-1v-4h-1v-1h-1v6h-1v-1h-1v3h-1h-1v-1h-1h-1v-4h-1v-2h-1v8h-1v-3h-1v-1h-1v4h-1v-2h-1v-2h-1v1h-1v-1h-1v-1h-1v2h-1v15h-1v-12h-1v3h-1v-4h-1v12h-1v1h-1v-13h-1v5h-1v-8h-1v-4h-1v4h-1h-1v3h-1h-1v-6h-1v2h-1v2h-1h-1v5h-1v4h-1v-10h-1v2h-1v3h-1v2h-1v-2h-1v2h-1v-3h-1v-6h-1v-2h-1v1h-1v-1h-1v7h-1h-1v-1h-1v7h-1v-4h-1v13h-1v1h-1v-7h-1v7h-1v-8h-1v-5h-1v3h-1v-1h-1v-4h-1h-1v1h-1v-6h-1v-3h-1v3h-1v2h-1v-2h-1v2h-1v3h-1v-5h-1v-2h-1h-1v-3h-1v-1h-1v20h-1v-14h-1h-1h-1v-2h-1v12h-1h-1v-13h-1v1h-1v1h-1v19h-1v-19h-1v3h-1v1h-1v-1h-1v12h-1v2h-1v-3h-1v-2h-1v-6h-1h-1v3h-1v-2h-1v-6h-1h-1v1h-1v3h-1v1h-1v-4h-1v4h-1v6h-1v-11h-1h-1h-1v-1h-1v-1h-1v1h-1v4h-1v-3h-1v-4h-1v2h-1v17h-1v-18h-1v-3h-1v7h-1v5h-1v-4h-1v21h-1v-2h-1v-16h-1v-3h-1v6h-1v-1h-1v-8h-1v6h-1v4h-1v-2h-1v2h-1v2h-1v-1h-1v4h-1v7h-1v-4h-1v-3h-1v-2h-1v2h-1v-3h-1v-3h-1h-1v-2h-1v3h-1v-2h-1v-2h-1h-1v-3h-1v-2h-1h-1v6h-1v1h-1h-1v-1h-1v-1h-1h-1v-3h-1v-1h-1v6h-1v7h-1v1h-1v15h-1v-18h-1v-4h-1v3h-1v1h-1v2h-1h-1v17h-1h-1v-17h-1v2h-1v1h-1v24h-1v-1h-1h-1v-21h-1v4h-1h-1v-10h-1v-1h-1v-4h-1v1h-1v4h-1v8h-1v3h-1v-1h-1v-1h-1v-1h-1v10h-1h-1v-15h-1v1h-1v-5h-1h-1v2h-1v-3h-1v-5h-1v9h-1v15h-1v-22h-1v-3h-1v4h-1v4h-1v12h-1v-4h-1v-14h-1v1h-1v1h-1v4h-1v-4h-1v-6h-1h-1v2h-1h-1v1h-1h-1v-3h-1v15h-1v1h-1v-18h-1v12h-1v4h-1v-6h-1v2h-1v-11h-1v1h-1v19h-1v-2h-1v-17h-1v-3h-1v7h-1v-7h-1v-1h-1h-1v1h-1v2h-1v6h-1v14h-1v-21h-1v-3h-1v2h-1v2h-1v4h-1v1h-1v2h-1v2h-1v-4h-1v-2h-1v1h-1v7h-1v4h-1v-5h-1v-5h-1v11h-1h-1v-13h-1v-5h-1v3h-1v-1h-1v-3h-1v12h-1v-1h-1v-6h-1v13h-1v-13h-1h-1v2h-1h-1v2h-1v10h-1v-17h-1v2h-1v10h-1v17h-1v3h-1v-10h-1v2h-1v4h-1v34h-1v13h-1v-35h-1v-17h-1v4h-1v-4h-1v-5h-1v36h-1v-36h-1h-1v-3h-1v28h-1h-1v-26h-1v-3h-1v5h-1v-3h-1v-3h-1v4h-1v-1h-1v32h-1v-11h-1v-20h-1v26h-1v7h-1v-19h-1v46h-1v-24h-1v4h-1h-1v-26h-1v1h-1v1h-1v4h-1v29h-1v-28h-1v37h-1h-1v-75h-1v-1h-1v19h-1v-21h-1v1h-1v17h-1v3h-1v8h-1v-4h-1v-7h-1v-1h-1v-8h-1v17h-1v5h-1v-16h-1v-6h-1v-3h-1v2h-1v-1h-1v2h-1v-3h-1v-4h-1v2h-1v2h-1h-1v18h-1v-17h-1v3h-1v2h-1h-1v-2h-1h-1v-4h-1v-2h-1v-3h-1v1h-1h-1v12h-1v-12h-1v1h-1v-3h-1v1h-1v-1h-1v1h-1v3h-1v-1h-1v4h-1v14h-1v-14h-1v7h-1v2h-1v-4h-1h-1v-5h-1v3h-1v-1h-1v-6h-1v2h-1v15h-1v-16h-1v3h-1v7h-1v-3h-1v1h-1v-3h-1h-1v3h-1v-1h-1v-1h-1v19h-1v-1h-1v-4h-1v3h-1v-15h-1v-6h-1v15h-1v3h-1v-16h-1v-5h-1h-1h-1v-1h-1v-1h-1v5h-1h-1v1h-1v1h-1h-1v9h-1v-3h-1v-11h-1h-1v23h-1v1h-1v-20h-1v1h-1v-3h-1v5h-1v2h-1v12h-1v-7h-1v-17h-1z" fill="#B2000F"/></g>
<rect x="192.5" y="45.5" width="1216.0" height="765.0" fill="none" stroke="#000" stroke-width="1.1" shape-rendering="crispEdges"/>
<path d="M187.14 70.5H192.5M187.14 101.5H192.5M187.14 132.5H192.5M187.14 163.5H192.5M187.14 194.5H192.5M187.14 225.5H192.5M187.14 257.5H192.5M187.14 288.5H192.5M187.14 319.5H192.5M187.14 350.5H192.5M187.14 381.5H192.5M187.14 412.5H192.5M187.14 443.5H192.5M187.14 474.5H192.5M187.14 505.5H192.5M187.14 536.5H192.5M187.14 567.5H192.5M187.14 598.5H192.5M187.14 630.5H192.5M187.14 661.5H192.5M187.14 692.5H192.5M187.14 723.5H192.5M187.14 754.5H192.5M187.14 785.5H192.5M192.5 810.5V815.40M395.5 810.5V815.40M597.5 810.5V815.40M800.5 810.5V815.40M1003.5 810.5V815.40M1205.5 810.5V815.40M1408.5 810.5V815.40" stroke="#000" stroke-width="1.1" fill="none"/>
<text transform="translate(693.00,29) scale(1.1471,1)" font-size="13.889">03/11/2025</text>
<text transform="translate(776.00,29) scale(1.0000,1)" font-size="13.889">-</text>
<text transform="translate(786.00,29) scale(0.9744,1)" font-size="13.889">CMLA</text>
<text transform="translate(829.00,29) scale(1.0000,1)" font-size="13.889">-</text>
<text transform="translate(838.00,29) scale(1.0000,1)" font-size="13.889">II</text>
<text transform="translate(850.88,29) scale(1.1200,1)" font-size="13.889">Network</text>
<text transform="translate(135.00,74) scale(1.0698,1)" x="0" y="0" font-size="11.111">00:00:05</text>
<text transform="translate(135.00,105) scale(1.0698,1)" x="0" y="0" font-size="11.111">01:00:05</text>
<text transform="translate(135.00,136) scale(1.0930,1)" x="0" y="0" font-size="11.111">02:00:05</text>
<text transform="translate(135.00,167) scale(1.0698,1)" x="0" y="0" font-size="11.111">03:00:05</text>
<text transform="translate(135.00,198) scale(1.0930,1)" x="0" y="0" font-size="11.111">04:00:05</text>
<text transform="translate(135.00,229) scale(1.0698,1)" x="0" y="0" font-size="11.111">05:00:05</text>
<text transform="translate(135.00,261) scale(1.0698,1)" x="0" y="0" font-size="11.111">06:00:05</text>
<text transform="translate(135.00,292) scale(1.0930,1)" x="0" y="0" font-size="11.111">07:00:05</text>
<text transform="translate(135.00,323) scale(1.0930,1)" x="0" y="0" font-size="11.111">08:00:05</text>
<text transform="translate(135.00,354) scale(1.0930,1)" x="0" y="0" font-size="11.111">09:00:05</text>
<text transform="translate(132.90,385) scale(1.0952,1)" x="0" y="0" font-size="11.111">10:00:05</text>
<text transform="translate(132.88,416) scale(1.1220,1)" x="0" y="0" font-size="11.111">11:00:05</text>
<text transform="translate(132.88,447) scale(1.1190,1)" x="0" y="0" font-size="11.111">12:00:05</text>
<text transform="translate(132.90,478) scale(1.0952,1)" x="0" y="0" font-size="11.111">13:00:05</text>
<text transform="translate(132.88,509) scale(1.1190,1)" x="0" y="0" font-size="11.111">14:00:05</text>
<text transform="translate(132.90,540) scale(1.0952,1)" x="0" y="0" font-size="11.111">15:00:05</text>
<text transform="translate(132.90,571) scale(1.0952,1)" x="0" y="0" font-size="11.111">16:00:05</text>
<text transform="translate(132.88,602) scale(1.1190,1)" x="0" y="0" font-size="11.111">17:00:05</text>
<text transform="translate(132.88,634) scale(1.1190,1)" x="0" y="0" font-size="11.111">18:00:05</text>
<text transform="translate(132.88,665) scale(1.1190,1)" x="0" y="0" font-size="11.111">19:00:05</text>
<text transform="translate(135.00,696) scale(1.0930,1)" x="0" y="0" font-size="11.111">20:00:05</text>
<text transform="translate(135.00,727) scale(1.0930,1)" x="0" y="0" font-size="11.111">21:00:05</text>
<text transform="translate(135.00,758) scale(1.0930,1)" x="0" y="0" font-size="11.111">22:00:05</text>
<text transform="translate(135.00,789) scale(1.0930,1)" x="0" y="0" font-size="11.111">23:00:05</text>
<text transform="translate(190.00,828) scale(1.0000,1)" x="0" y="0" font-size="11.111">0</text>
<text transform="translate(387.91,828) scale(1.0909,1)" x="0" y="0" font-size="11.111">10</text>
<text transform="translate(592.00,828) scale(1.0000,1)" x="0" y="0" font-size="11.111">20</text>
<text transform="translate(795.00,828) scale(1.0000,1)" x="0" y="0" font-size="11.111">30</text>
<text transform="translate(996.00,828) scale(1.0833,1)" x="0" y="0" font-size="11.111">40</text>
<text transform="translate(1200.00,828) scale(1.0000,1)" x="0" y="0" font-size="11.111">50</text>
<text transform="translate(1403.00,828) scale(1.0000,1)" x="0" y="0" font-size="11.111">60</text>
<text transform="translate(756.00,843) scale(1.1905,1)" font-size="11.111">time</text>
<text transform="translate(785.00,843) scale(1.1250,1)" font-size="11.111">in</text>
<text transform="translate(799.00,843) scale(1.1282,1)" font-size="11.111">minutes</text>
<text transform="translate(123,534.96) rotate(-90) scale(0.9630,1)" font-size="13.889">UTC</text>
<text transform="translate(123,503.16) rotate(-90) scale(1.1613,1)" font-size="13.889">(local</text>
<text transform="translate(123,461.00) rotate(-90) scale(1.1923,1)" font-size="13.889">time</text>
<text transform="translate(123,424.00) rotate(-90) scale(1.2500,1)" font-size="13.889">=</text>
<text transform="translate(123,408.96) rotate(-90) scale(0.9630,1)" font-size="13.889">UTC</text>
<text transform="translate(123,377.00) rotate(-90) scale(1.2500,1)" font-size="13.889">-</text>
<text transform="translate(123,367.00) rotate(-90) scale(1.1282,1)" font-size="13.889">01:00)</text>
</svg></body></html>
